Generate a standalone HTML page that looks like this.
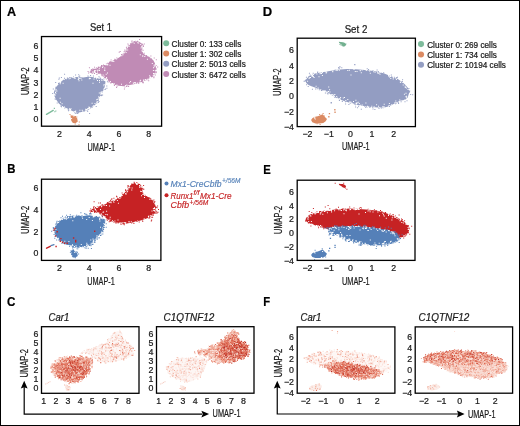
<!DOCTYPE html>
<html><head><meta charset="utf-8"><title>UMAP figure</title>
<style>
html,body{margin:0;padding:0;background:#fff;}
body{width:520px;height:426px;overflow:hidden;}
svg{display:block;font-family:"Liberation Sans", sans-serif;will-change:transform;}

</style></head>
<body>
<svg width="520" height="426" viewBox="0 0 520 426">
<rect x="0.5" y="0.5" width="519" height="425" fill="#fff" stroke="#000" stroke-width="1"/>
<text x="7.1" y="16.2" font-size="13.00" font-weight="bold" textLength="9.1" lengthAdjust="spacingAndGlyphs" fill="#000" stroke="#000" stroke-width="0.22">A</text>
<text x="7.2" y="172.8" font-size="13.00" font-weight="bold" textLength="8.2" lengthAdjust="spacingAndGlyphs" fill="#000" stroke="#000" stroke-width="0.22">B</text>
<text x="6.9" y="306.4" font-size="13.00" font-weight="bold" textLength="8.4" lengthAdjust="spacingAndGlyphs" fill="#000" stroke="#000" stroke-width="0.22">C</text>
<text x="262.7" y="16.2" font-size="13.00" font-weight="bold" fill="#000" stroke="#000" stroke-width="0.22">D</text>
<text x="263.2" y="173.7" font-size="13.00" font-weight="bold" textLength="7.5" lengthAdjust="spacingAndGlyphs" fill="#000" stroke="#000" stroke-width="0.22">E</text>
<text x="263.2" y="306.4" font-size="13.00" font-weight="bold" textLength="6.9" lengthAdjust="spacingAndGlyphs" fill="#000" stroke="#000" stroke-width="0.22">F</text>
<text x="101.0" y="30.8" font-size="10.60" text-anchor="middle" textLength="22.0" lengthAdjust="spacingAndGlyphs" fill="#1a1a1a" stroke="#1a1a1a" stroke-width="0.22">Set 1</text>
<g>
<polygon points="89.1,71.4 93.2,69.0 97.3,66.9 101.4,65.7 105.5,64.0 109.7,61.6 113.8,59.9 117.9,58.3 120.5,56.5 123.7,52.6 126.8,48.8 129.3,44.5 131.8,42.0 135.5,40.7 139.8,42.0 142.3,44.5 142.3,49.4 143.0,53.2 146.1,55.7 149.8,56.9 152.9,59.4 154.8,63.1 156.0,68.1 155.4,73.1 152.9,76.8 148.6,79.3 142.3,81.8 136.1,83.7 129.9,84.9 123.7,86.2 118.7,85.8 113.8,84.6 109.7,82.1 106.4,79.7 103.1,76.4 99.0,73.5 94.9,72.7 89.9,72.7" fill="#C08BB5"/>
<path fill="#C08BB5" d="M141.9 81.5h1v1h-1zM92.2 68.4h1v1h-1zM139.1 38.9h1v1h-1zM142.8 45.3h1v1h-1zM94.0 66.7h1v1h-1zM146.4 79.6h1v1h-1zM143.8 43.4h1v1h-1zM157.2 66.5h1v1h-1zM155.8 68.5h1v1h-1zM119.7 51.0h1v1h-1zM126.1 85.9h1v1h-1zM128.1 85.9h1v1h-1zM116.1 87.0h1v1h-1zM141.4 43.3h1v1h-1zM136.9 40.8h1v1h-1zM123.7 51.1h1v1h-1zM156.0 71.6h1v1h-1zM127.4 43.5h1v1h-1zM121.1 54.1h1v1h-1zM118.7 51.7h1v1h-1zM153.4 76.2h1v1h-1zM108.4 81.5h1v1h-1zM142.9 45.9h1v1h-1zM138.2 83.1h1v1h-1zM131.6 40.4h1v1h-1zM142.4 82.2h1v1h-1zM96.4 74.1h1v1h-1zM114.3 58.7h1v1h-1zM124.4 86.5h1v1h-1zM101.6 75.3h1v1h-1zM90.9 68.9h1v1h-1zM116.3 57.6h1v1h-1zM87.6 70.9h1v1h-1zM153.4 77.3h1v1h-1zM103.2 64.2h1v1h-1zM143.0 82.2h1v1h-1zM155.8 59.3h1v1h-1zM125.9 46.7h1v1h-1zM91.0 72.3h1v1h-1zM123.9 88.4h1v1h-1zM128.5 44.4h1v1h-1zM88.9 67.2h1v1h-1zM146.1 54.9h1v1h-1zM124.4 49.4h1v1h-1zM131.3 40.8h1v1h-1zM150.4 55.5h1v1h-1zM143.7 52.8h1v1h-1zM126.3 47.7h1v1h-1zM88.1 72.6h1v1h-1zM98.4 73.1h1v1h-1zM155.6 65.0h1v1h-1zM142.2 44.1h1v1h-1zM155.4 72.2h1v1h-1zM101.0 64.9h1v1h-1zM153.7 57.6h1v1h-1zM94.0 73.1h1v1h-1zM92.2 72.7h1v1h-1zM124.6 50.4h1v1h-1zM113.9 84.9h1v1h-1zM148.2 80.2h1v1h-1zM110.2 82.4h1v1h-1zM154.8 74.6h1v1h-1zM110.6 59.4h1v1h-1zM142.6 49.8h1v1h-1zM116.5 85.8h1v1h-1zM127.8 45.6h1v1h-1zM126.4 86.0h1v1h-1z"/>
<path fill="#ffffff" d="M107.3 80.2h1v1h-1zM99.0 66.3h1v1h-1zM125.6 51.9h1v1h-1zM123.8 51.7h1v1h-1zM153.0 72.9h1v1h-1zM134.2 82.0h1v1h-1zM124.8 50.6h1v1h-1zM141.4 46.6h1v1h-1zM94.0 70.7h1v1h-1zM122.5 54.3h1v1h-1zM137.2 82.5h1v1h-1zM100.3 74.0h1v1h-1zM109.9 80.9h1v1h-1zM105.5 78.1h1v1h-1zM137.2 42.2h1v1h-1zM108.0 61.8h1v1h-1zM129.2 82.2h1v1h-1zM141.5 49.8h1v1h-1zM133.1 82.8h1v1h-1zM139.6 80.4h1v1h-1zM153.8 66.2h1v1h-1zM103.6 75.7h1v1h-1zM95.5 67.8h1v1h-1zM94.5 72.1h1v1h-1zM139.8 54.3h1v1h-1zM126.9 47.3h1v1h-1zM92.1 71.5h1v1h-1zM113.2 83.7h1v1h-1zM132.5 41.5h1v1h-1zM105.9 64.2h1v1h-1zM142.2 55.8h1v1h-1zM145.6 79.7h1v1h-1zM106.9 79.1h1v1h-1zM122.9 52.6h1v1h-1zM151.8 63.1h1v1h-1zM154.8 64.8h1v1h-1zM111.9 60.8h1v1h-1zM93.8 71.5h1v1h-1zM94.6 69.9h1v1h-1zM110.8 60.6h1v1h-1zM138.2 42.5h1v1h-1zM98.7 68.2h1v1h-1zM150.1 77.4h1v1h-1zM106.1 76.9h1v1h-1zM105.0 64.3h1v1h-1zM106.6 78.7h1v1h-1zM154.7 70.0h1v1h-1zM96.7 69.8h1v1h-1zM128.5 45.9h1v1h-1zM135.1 82.2h1v1h-1zM152.1 58.6h1v1h-1zM102.6 74.5h1v1h-1zM124.9 85.1h1v1h-1zM127.2 49.4h1v1h-1zM94.2 67.8h1v1h-1zM128.4 45.6h1v1h-1zM149.8 57.3h1v1h-1zM140.2 44.1h1v1h-1zM112.4 60.3h1v1h-1zM131.3 42.2h1v1h-1zM147.1 78.7h1v1h-1zM104.0 64.0h1v1h-1zM154.1 73.2h1v1h-1zM141.8 50.9h1v1h-1zM140.6 47.4h1v1h-1zM148.7 78.1h1v1h-1zM154.6 64.3h1v1h-1zM154.1 73.2h1v1h-1zM150.0 76.5h1v1h-1zM149.8 76.7h1v1h-1zM134.7 82.7h1v1h-1zM153.6 64.8h1v1h-1zM121.3 55.2h1v1h-1zM129.1 43.9h1v1h-1zM106.1 64.2h1v1h-1zM98.9 68.2h1v1h-1zM123.5 52.6h1v1h-1zM140.1 79.7h1v1h-1zM143.1 79.5h1v1h-1zM111.9 60.6h1v1h-1zM145.8 79.5h1v1h-1zM99.7 66.2h1v1h-1zM144.3 56.1h1v1h-1zM116.4 84.5h1v1h-1zM141.3 45.8h1v1h-1zM139.5 82.0h1v1h-1zM153.2 73.5h1v1h-1zM153.1 75.2h1v1h-1zM112.0 82.9h1v1h-1zM150.7 77.3h1v1h-1zM144.8 78.9h1v1h-1zM149.2 75.2h1v1h-1zM133.7 42.7h1v1h-1zM116.1 58.4h1v1h-1zM103.7 64.0h1v1h-1zM113.6 83.1h1v1h-1zM142.3 55.2h1v1h-1zM135.5 40.7h1v1h-1zM149.3 76.8h1v1h-1zM152.9 70.0h1v1h-1zM113.3 61.1h1v1h-1zM105.5 78.1h1v1h-1zM93.9 70.5h1v1h-1zM146.9 58.8h1v1h-1zM143.2 80.1h1v1h-1zM92.4 71.5h1v1h-1zM153.0 67.3h1v1h-1zM152.7 75.2h1v1h-1zM125.8 49.5h1v1h-1zM130.1 81.1h1v1h-1zM104.9 63.7h1v1h-1zM99.6 73.6h1v1h-1zM94.9 67.4h1v1h-1zM102.5 65.8h1v1h-1zM126.3 84.5h1v1h-1zM132.8 82.5h1v1h-1zM121.0 83.8h1v1h-1z"/>
<path fill="#ffffff" d="M104.3 70.0h1v1h-1zM94.7 71.6h1v1h-1zM104.2 69.5h1v1h-1zM97.0 71.4h1v1h-1zM107.0 72.5h1v1h-1zM107.3 63.8h1v1h-1zM89.2 70.9h1v1h-1zM105.6 78.6h1v1h-1zM98.9 69.9h1v1h-1zM107.2 64.6h1v1h-1zM104.3 67.5h1v1h-1zM102.1 67.0h1v1h-1zM109.5 64.7h1v1h-1zM94.4 70.1h1v1h-1zM97.5 69.7h1v1h-1zM97.0 66.8h1v1h-1zM105.7 73.8h1v1h-1zM106.4 63.5h1v1h-1z"/>
<polygon points="53.8,92.5 55.7,87.5 59.4,83.2 63.7,79.5 69.8,77.4 76.0,77.1 83.4,77.4 89.5,76.5 95.7,77.7 101.8,79.5 105.5,81.4 104.9,86.3 102.5,92.5 99.4,98.6 95.7,104.2 90.8,108.5 84.6,111.5 77.2,112.8 72.3,110.9 67.4,108.5 62.5,106.6 58.8,103.5 56.3,99.8 54.5,96.2" fill="#939DC2"/>
<path fill="#939DC2" d="M102.0 79.2h1v1h-1zM75.1 74.5h1v1h-1zM91.9 107.1h1v1h-1zM60.3 105.6h1v1h-1zM55.2 82.0h1v1h-1zM105.1 88.5h1v1h-1zM98.5 76.3h1v1h-1zM68.5 109.4h1v1h-1zM79.2 75.5h1v1h-1zM58.2 83.0h1v1h-1zM56.7 102.5h1v1h-1zM97.9 99.8h1v1h-1zM103.4 78.5h1v1h-1zM60.9 77.1h1v1h-1zM52.2 93.1h1v1h-1zM58.7 82.5h1v1h-1zM55.4 86.7h1v1h-1zM89.1 113.0h1v1h-1zM96.2 102.4h1v1h-1zM77.3 112.6h1v1h-1zM90.1 75.0h1v1h-1zM58.4 78.7h1v1h-1zM92.9 75.4h1v1h-1zM102.1 94.5h1v1h-1zM100.5 95.3h1v1h-1zM101.1 95.0h1v1h-1zM67.7 108.7h1v1h-1zM97.8 101.9h1v1h-1zM87.2 110.8h1v1h-1zM106.4 87.7h1v1h-1zM78.0 112.3h1v1h-1zM87.5 75.5h1v1h-1zM67.9 110.2h1v1h-1zM55.5 98.8h1v1h-1zM64.0 77.7h1v1h-1zM52.8 88.5h1v1h-1zM74.8 112.7h1v1h-1zM98.5 101.1h1v1h-1zM64.3 107.5h1v1h-1zM97.3 100.6h1v1h-1zM99.6 77.4h1v1h-1zM64.1 73.7h1v1h-1zM58.0 82.9h1v1h-1zM54.6 98.4h1v1h-1zM58.8 77.5h1v1h-1zM61.0 106.3h1v1h-1zM100.8 94.6h1v1h-1zM106.3 85.4h1v1h-1zM100.2 78.2h1v1h-1zM86.9 110.5h1v1h-1zM95.7 106.0h1v1h-1zM78.2 74.2h1v1h-1zM75.6 112.6h1v1h-1zM106.9 81.3h1v1h-1zM74.0 111.5h1v1h-1zM104.4 89.0h1v1h-1zM66.9 77.5h1v1h-1zM69.4 76.9h1v1h-1zM76.8 113.1h1v1h-1zM78.4 76.2h1v1h-1zM73.0 76.4h1v1h-1z"/>
<path fill="#ffffff" d="M88.5 107.6h1v1h-1zM89.5 76.1h1v1h-1zM98.5 98.2h1v1h-1zM59.6 97.8h1v1h-1zM64.0 106.6h1v1h-1zM73.8 76.7h1v1h-1zM86.7 109.1h1v1h-1zM101.7 91.3h1v1h-1zM75.2 110.4h1v1h-1zM98.3 96.3h1v1h-1zM60.1 82.1h1v1h-1zM74.5 77.9h1v1h-1zM99.0 80.0h1v1h-1zM89.1 107.0h1v1h-1zM103.4 85.2h1v1h-1zM78.8 78.1h1v1h-1zM91.6 102.8h1v1h-1zM74.6 77.4h1v1h-1zM103.4 88.4h1v1h-1zM86.9 108.2h1v1h-1zM85.1 108.8h1v1h-1zM69.3 109.2h1v1h-1zM101.2 91.4h1v1h-1zM85.7 109.4h1v1h-1zM85.7 109.0h1v1h-1zM61.6 103.2h1v1h-1zM97.2 98.7h1v1h-1zM96.2 102.2h1v1h-1zM98.6 96.9h1v1h-1zM55.0 91.9h1v1h-1zM87.9 108.1h1v1h-1zM55.3 90.5h1v1h-1zM80.4 78.0h1v1h-1zM78.5 80.2h1v1h-1zM97.0 80.1h1v1h-1zM92.5 82.7h1v1h-1zM101.2 93.3h1v1h-1zM96.7 101.1h1v1h-1zM99.1 97.3h1v1h-1zM68.6 78.3h1v1h-1zM94.5 103.0h1v1h-1zM73.4 77.2h1v1h-1zM99.9 96.1h1v1h-1zM100.4 92.7h1v1h-1zM84.9 110.5h1v1h-1zM89.2 77.8h1v1h-1zM65.9 78.2h1v1h-1zM69.8 77.8h1v1h-1zM54.7 94.4h1v1h-1zM53.7 93.5h1v1h-1zM78.1 78.4h1v1h-1zM92.9 105.2h1v1h-1zM82.3 110.7h1v1h-1zM96.0 78.3h1v1h-1zM74.8 111.4h1v1h-1zM101.4 92.7h1v1h-1zM78.1 77.2h1v1h-1zM103.6 83.9h1v1h-1zM88.5 106.6h1v1h-1zM100.4 91.8h1v1h-1zM72.3 77.1h1v1h-1zM81.7 109.8h1v1h-1zM60.1 101.8h1v1h-1zM59.8 83.2h1v1h-1zM70.0 109.1h1v1h-1zM93.5 78.6h1v1h-1zM88.8 78.3h1v1h-1zM91.9 106.4h1v1h-1zM62.1 105.9h1v1h-1zM89.2 107.9h1v1h-1zM100.2 94.3h1v1h-1zM54.3 94.8h1v1h-1zM79.4 109.7h1v1h-1zM69.1 108.2h1v1h-1zM94.1 77.0h1v1h-1zM63.7 79.1h1v1h-1zM98.8 92.6h1v1h-1zM56.4 90.5h1v1h-1zM86.3 109.4h1v1h-1zM70.5 108.3h1v1h-1zM99.0 81.7h1v1h-1zM101.4 79.9h1v1h-1zM62.6 82.8h1v1h-1zM86.2 108.9h1v1h-1zM53.8 94.1h1v1h-1zM90.5 107.4h1v1h-1zM74.2 110.9h1v1h-1zM77.8 78.9h1v1h-1zM89.8 78.0h1v1h-1zM100.5 93.0h1v1h-1zM55.5 89.1h1v1h-1zM55.4 92.7h1v1h-1zM96.2 99.3h1v1h-1zM81.3 79.5h1v1h-1z"/>
<polygon points="70.5,115.2 74.2,115.8 77.2,118.3 77.8,121.4 75.4,123.2 72.9,123.0 71.3,120.8 70.8,117.7" fill="#DB8A62"/>
<path fill="#DB8A62" d="M78.5 124.3h1v1h-1zM74.7 123.5h1v1h-1zM75.0 116.0h1v1h-1zM76.3 116.5h1v1h-1zM78.8 121.4h1v1h-1zM69.5 113.9h1v1h-1z"/>
<path fill="#ffffff" d="M71.1 118.0h1v1h-1zM73.3 115.4h1v1h-1z"/>
<line x1="46.5" y1="114.3" x2="53.2" y2="110.4" stroke="#7DBB9B" stroke-width="1.4" stroke-linecap="round"/>
<path fill="#7DBB9B" d="M53.8 107.8h1.1v1.1h-1.1z M55.3 110.4h1.1v1.1h-1.1z M54.3 111.2h1v1h-1z"/>
</g>
<rect x="41.50" y="36.55" width="120.10" height="89.65" fill="none" stroke="#000" stroke-width="1.3"/>
<text x="59.5" y="136.9" font-size="8.80" text-anchor="middle" fill="#1a1a1a" stroke="#1a1a1a" stroke-width="0.22">2</text>
<text x="89.2" y="136.9" font-size="8.80" text-anchor="middle" fill="#1a1a1a" stroke="#1a1a1a" stroke-width="0.22">4</text>
<text x="118.9" y="136.9" font-size="8.80" text-anchor="middle" fill="#1a1a1a" stroke="#1a1a1a" stroke-width="0.22">6</text>
<text x="148.6" y="136.9" font-size="8.80" text-anchor="middle" fill="#1a1a1a" stroke="#1a1a1a" stroke-width="0.22">8</text>
<text x="38.4" y="121.6" font-size="8.80" text-anchor="end" fill="#1a1a1a" stroke="#1a1a1a" stroke-width="0.22">0</text>
<text x="38.4" y="109.6" font-size="8.80" text-anchor="end" fill="#1a1a1a" stroke="#1a1a1a" stroke-width="0.22">1</text>
<text x="38.4" y="97.5" font-size="8.80" text-anchor="end" fill="#1a1a1a" stroke="#1a1a1a" stroke-width="0.22">2</text>
<text x="38.4" y="85.5" font-size="8.80" text-anchor="end" fill="#1a1a1a" stroke="#1a1a1a" stroke-width="0.22">3</text>
<text x="38.4" y="73.4" font-size="8.80" text-anchor="end" fill="#1a1a1a" stroke="#1a1a1a" stroke-width="0.22">4</text>
<text x="38.4" y="61.4" font-size="8.80" text-anchor="end" fill="#1a1a1a" stroke="#1a1a1a" stroke-width="0.22">5</text>
<text x="38.4" y="49.3" font-size="8.80" text-anchor="end" fill="#1a1a1a" stroke="#1a1a1a" stroke-width="0.22">6</text>
<text x="87.6" y="151.0" font-size="10.50" textLength="27.6" lengthAdjust="spacingAndGlyphs" fill="#1a1a1a" stroke="#1a1a1a" stroke-width="0.22">UMAP-1</text>
<text x="29.1" y="95.1" font-size="10.50" textLength="27.8" lengthAdjust="spacingAndGlyphs" transform="rotate(-90 29.1 95.1)" fill="#1a1a1a" stroke="#1a1a1a" stroke-width="0.22">UMAP-2</text>
<circle cx="166.2" cy="43.3" r="3.0" fill="#7DBB9B"/>
<text x="171.6" y="47.0" font-size="8.20" fill="#1a1a1a" stroke="#1a1a1a" stroke-width="0.22">Cluster 0: 133 cells</text>
<circle cx="166.2" cy="53.5" r="3.0" fill="#DB8A62"/>
<text x="171.6" y="57.2" font-size="8.20" fill="#1a1a1a" stroke="#1a1a1a" stroke-width="0.22">Cluster 1: 302 cells</text>
<circle cx="166.2" cy="63.7" r="3.0" fill="#939DC2"/>
<text x="171.6" y="67.4" font-size="8.20" fill="#1a1a1a" stroke="#1a1a1a" stroke-width="0.22">Cluster 2: 5013 cells</text>
<circle cx="166.2" cy="73.9" r="3.0" fill="#C08BB5"/>
<text x="171.6" y="77.6" font-size="8.20" fill="#1a1a1a" stroke="#1a1a1a" stroke-width="0.22">Cluster 3: 6472 cells</text>
<g>
<polygon points="89.1,210.7 93.2,208.5 97.3,206.6 101.4,205.5 105.5,204.0 109.7,201.8 113.8,200.3 117.9,198.8 120.5,197.2 123.7,193.7 126.8,190.2 129.3,186.4 131.8,184.1 135.5,182.9 139.8,184.1 142.3,186.4 142.3,190.8 143.0,194.2 146.1,196.5 149.8,197.6 152.9,199.8 154.8,203.2 156.0,207.7 155.4,212.2 152.9,215.6 148.6,217.8 142.3,220.1 136.1,221.8 129.9,222.9 123.7,224.1 118.7,223.7 113.8,222.6 109.7,220.4 106.4,218.2 103.1,215.2 99.0,212.6 94.9,211.9 89.9,211.9" fill="#C62224"/>
<path fill="#C62224" d="M123.2 223.6h1v1h-1zM156.3 212.5h1v1h-1zM116.0 195.8h1v1h-1zM108.7 221.3h1v1h-1zM149.3 217.6h1v1h-1zM142.5 188.4h1v1h-1zM128.0 185.7h1v1h-1zM152.6 214.9h1v1h-1zM90.2 208.5h1v1h-1zM154.3 201.1h1v1h-1zM141.9 188.2h1v1h-1zM156.6 212.6h1v1h-1zM153.4 199.5h1v1h-1zM151.3 216.8h1v1h-1zM102.0 215.4h1v1h-1zM131.3 183.5h1v1h-1zM99.8 213.5h1v1h-1zM101.4 204.6h1v1h-1zM155.7 212.5h1v1h-1zM125.1 189.3h1v1h-1zM111.2 198.8h1v1h-1zM110.2 199.8h1v1h-1zM90.0 212.4h1v1h-1zM102.1 204.3h1v1h-1zM154.4 212.8h1v1h-1zM146.2 196.1h1v1h-1zM95.8 211.8h1v1h-1zM157.1 205.6h1v1h-1zM93.5 207.3h1v1h-1zM99.4 213.1h1v1h-1zM120.4 223.7h1v1h-1zM116.6 196.6h1v1h-1zM143.1 185.1h1v1h-1zM131.2 222.5h1v1h-1zM156.1 210.7h1v1h-1zM121.6 192.4h1v1h-1zM155.3 206.4h1v1h-1zM127.5 185.1h1v1h-1zM138.7 221.4h1v1h-1zM155.7 206.8h1v1h-1zM110.1 200.8h1v1h-1zM115.5 222.8h1v1h-1zM101.1 214.4h1v1h-1zM136.3 181.9h1v1h-1zM122.3 194.1h1v1h-1zM148.2 217.6h1v1h-1zM144.4 194.7h1v1h-1zM142.4 192.7h1v1h-1zM93.2 207.0h1v1h-1zM119.3 197.1h1v1h-1zM154.1 201.8h1v1h-1zM106.5 218.6h1v1h-1zM94.2 211.5h1v1h-1zM108.8 201.3h1v1h-1zM142.3 220.8h1v1h-1zM142.0 220.4h1v1h-1zM133.4 222.9h1v1h-1zM125.1 189.9h1v1h-1zM106.9 202.1h1v1h-1zM134.0 182.7h1v1h-1zM117.0 198.2h1v1h-1zM133.6 181.7h1v1h-1zM137.0 221.0h1v1h-1zM149.1 217.3h1v1h-1zM154.6 212.4h1v1h-1zM156.6 207.3h1v1h-1zM123.8 224.3h1v1h-1zM101.9 216.3h1v1h-1zM152.1 216.7h1v1h-1zM111.4 198.3h1v1h-1zM94.2 212.0h1v1h-1zM98.3 202.6h1v1h-1zM145.1 195.7h1v1h-1zM151.2 219.4h1v1h-1zM110.1 220.7h1v1h-1zM143.3 188.8h1v1h-1zM93.5 206.0h1v1h-1zM95.2 206.9h1v1h-1zM106.8 219.7h1v1h-1zM158.0 209.0h1v1h-1zM100.0 202.5h1v1h-1zM150.8 220.6h1v1h-1zM157.5 211.8h1v1h-1zM113.4 197.8h1v1h-1zM127.2 186.6h1v1h-1zM121.3 223.6h1v1h-1zM109.6 220.4h1v1h-1zM93.6 201.3h1v1h-1z"/>
<path fill="#ffffff" d="M127.4 189.3h1v1h-1zM136.0 183.4h1v1h-1zM125.2 193.1h1v1h-1zM154.7 208.6h1v1h-1zM94.0 207.4h1v1h-1zM151.5 210.5h1v1h-1zM89.4 210.4h1v1h-1zM121.7 195.0h1v1h-1zM150.1 215.2h1v1h-1zM112.0 220.2h1v1h-1zM150.7 198.4h1v1h-1zM154.3 203.3h1v1h-1zM113.4 201.7h1v1h-1zM114.4 220.5h1v1h-1zM127.1 190.7h1v1h-1zM128.5 220.9h1v1h-1zM117.5 219.4h1v1h-1zM139.4 185.9h1v1h-1zM127.9 187.6h1v1h-1zM122.3 222.3h1v1h-1zM112.9 200.5h1v1h-1zM95.1 208.7h1v1h-1zM96.8 206.8h1v1h-1zM151.5 198.7h1v1h-1zM109.4 218.8h1v1h-1zM152.4 213.7h1v1h-1zM130.8 221.3h1v1h-1zM153.0 209.8h1v1h-1zM104.4 216.0h1v1h-1zM93.0 210.8h1v1h-1zM101.3 205.6h1v1h-1zM110.4 201.5h1v1h-1zM154.0 208.1h1v1h-1zM137.0 183.4h1v1h-1zM127.3 188.9h1v1h-1zM128.8 186.6h1v1h-1zM151.5 215.3h1v1h-1zM151.9 199.3h1v1h-1zM109.3 202.0h1v1h-1zM147.9 216.0h1v1h-1zM144.0 197.0h1v1h-1zM140.9 186.6h1v1h-1zM144.2 194.9h1v1h-1zM106.0 205.1h1v1h-1zM150.7 215.7h1v1h-1zM142.4 194.1h1v1h-1zM90.5 209.3h1v1h-1zM109.7 216.8h1v1h-1zM139.3 187.0h1v1h-1zM118.8 223.0h1v1h-1zM89.6 210.7h1v1h-1zM135.4 182.8h1v1h-1zM153.9 210.5h1v1h-1zM134.7 221.3h1v1h-1zM143.7 218.3h1v1h-1zM154.1 210.1h1v1h-1zM121.3 223.3h1v1h-1zM96.1 210.5h1v1h-1zM137.2 220.6h1v1h-1zM153.1 201.5h1v1h-1zM112.7 221.1h1v1h-1zM128.6 222.5h1v1h-1zM140.1 190.7h1v1h-1zM136.1 183.0h1v1h-1zM148.0 216.5h1v1h-1zM96.9 207.1h1v1h-1zM120.6 222.2h1v1h-1zM116.9 199.9h1v1h-1zM106.9 214.2h1v1h-1zM125.2 193.4h1v1h-1zM119.3 223.2h1v1h-1zM148.4 215.5h1v1h-1zM92.1 210.3h1v1h-1zM129.3 187.2h1v1h-1zM117.9 202.7h1v1h-1zM131.6 187.4h1v1h-1zM119.4 198.1h1v1h-1zM114.4 222.3h1v1h-1zM131.3 189.5h1v1h-1zM140.8 191.0h1v1h-1zM98.3 206.2h1v1h-1zM141.0 195.3h1v1h-1zM119.1 222.5h1v1h-1zM139.1 184.9h1v1h-1zM102.8 204.6h1v1h-1zM125.2 222.1h1v1h-1zM120.4 196.6h1v1h-1zM117.5 222.8h1v1h-1zM101.0 213.6h1v1h-1zM124.8 223.0h1v1h-1zM136.4 183.9h1v1h-1zM116.4 222.6h1v1h-1zM94.9 209.4h1v1h-1zM126.5 191.4h1v1h-1zM125.7 193.4h1v1h-1zM123.8 222.1h1v1h-1zM154.0 207.2h1v1h-1zM149.3 198.8h1v1h-1zM140.7 185.6h1v1h-1zM114.2 200.1h1v1h-1zM152.9 208.1h1v1h-1zM141.7 186.7h1v1h-1zM120.3 222.6h1v1h-1zM135.8 182.9h1v1h-1z"/>
<path fill="#ffffff" d="M110.6 202.3h1v1h-1zM96.1 206.9h1v1h-1zM109.1 205.5h1v1h-1zM94.7 208.7h1v1h-1zM104.3 204.7h1v1h-1zM101.0 206.2h1v1h-1zM106.1 210.7h1v1h-1zM103.1 211.4h1v1h-1zM100.0 209.1h1v1h-1zM102.5 211.8h1v1h-1zM105.4 213.9h1v1h-1z"/>
<polygon points="53.8,229.8 55.7,225.3 59.4,221.4 63.7,218.0 69.8,216.1 76.0,215.8 83.4,216.1 89.5,215.3 95.7,216.4 101.8,218.0 105.5,219.7 104.9,224.2 102.5,229.8 99.4,235.3 95.7,240.4 90.8,244.2 84.6,247.0 77.2,248.1 72.3,246.4 67.4,244.2 62.5,242.5 58.8,239.7 56.3,236.4 54.5,233.1" fill="#5580B8"/>
<path fill="#5580B8" d="M64.9 216.5h1v1h-1zM101.8 230.7h1v1h-1zM89.2 213.4h1v1h-1zM51.2 230.8h1v1h-1zM69.1 245.7h1v1h-1zM62.0 215.8h1v1h-1zM90.4 213.3h1v1h-1zM94.4 241.9h1v1h-1zM72.9 249.4h1v1h-1zM103.8 225.3h1v1h-1zM66.6 244.1h1v1h-1zM76.2 214.7h1v1h-1zM71.9 246.2h1v1h-1zM105.7 223.2h1v1h-1zM64.3 242.9h1v1h-1zM76.6 248.2h1v1h-1zM85.6 214.2h1v1h-1zM93.7 241.6h1v1h-1zM65.8 243.5h1v1h-1zM56.2 239.5h1v1h-1zM95.0 240.3h1v1h-1zM56.2 221.7h1v1h-1zM103.0 228.4h1v1h-1zM63.0 242.7h1v1h-1zM67.7 244.1h1v1h-1zM59.2 220.4h1v1h-1zM86.9 245.3h1v1h-1zM53.6 233.9h1v1h-1zM98.6 237.1h1v1h-1zM100.0 235.1h1v1h-1zM96.1 215.9h1v1h-1zM105.7 226.8h1v1h-1zM81.5 215.3h1v1h-1zM84.0 213.3h1v1h-1zM62.8 217.8h1v1h-1zM85.6 247.8h1v1h-1zM80.4 212.3h1v1h-1zM77.3 248.2h1v1h-1zM85.8 246.3h1v1h-1zM90.2 244.6h1v1h-1zM100.4 232.5h1v1h-1zM90.6 213.4h1v1h-1zM52.8 226.9h1v1h-1zM60.5 217.3h1v1h-1zM69.8 214.3h1v1h-1zM102.3 233.5h1v1h-1zM61.5 243.0h1v1h-1zM87.7 247.7h1v1h-1zM58.5 239.8h1v1h-1zM103.0 227.0h1v1h-1zM96.0 216.0h1v1h-1zM88.9 245.0h1v1h-1zM102.5 231.3h1v1h-1zM89.4 213.0h1v1h-1zM55.7 222.9h1v1h-1zM92.5 243.7h1v1h-1zM52.8 229.8h1v1h-1zM91.6 244.0h1v1h-1zM86.6 214.5h1v1h-1zM103.7 227.1h1v1h-1zM64.4 243.4h1v1h-1zM90.9 248.1h1v1h-1zM90.5 245.2h1v1h-1zM98.7 216.6h1v1h-1zM55.2 224.2h1v1h-1zM101.7 215.7h1v1h-1zM56.6 220.7h1v1h-1zM84.4 247.2h1v1h-1zM54.3 237.8h1v1h-1zM72.2 247.4h1v1h-1zM78.4 215.2h1v1h-1zM98.6 237.4h1v1h-1zM103.1 228.9h1v1h-1zM58.0 221.3h1v1h-1zM102.2 230.1h1v1h-1zM67.1 216.1h1v1h-1zM54.7 236.0h1v1h-1zM72.5 215.4h1v1h-1zM97.0 238.5h1v1h-1zM52.9 228.0h1v1h-1zM73.5 247.0h1v1h-1zM66.1 214.7h1v1h-1zM100.7 234.5h1v1h-1zM85.3 213.6h1v1h-1z"/>
<path fill="#ffffff" d="M92.6 241.8h1v1h-1zM65.8 217.3h1v1h-1zM75.9 246.8h1v1h-1zM72.3 245.0h1v1h-1zM68.2 217.3h1v1h-1zM104.7 220.6h1v1h-1zM103.9 224.0h1v1h-1zM86.4 244.2h1v1h-1zM96.3 237.5h1v1h-1zM87.4 244.6h1v1h-1zM92.7 241.8h1v1h-1zM75.2 215.6h1v1h-1zM66.7 217.7h1v1h-1zM74.6 215.5h1v1h-1zM99.2 218.9h1v1h-1zM68.0 216.9h1v1h-1zM54.3 227.5h1v1h-1zM77.3 247.5h1v1h-1zM73.8 215.9h1v1h-1zM82.1 217.8h1v1h-1zM54.2 228.0h1v1h-1zM88.7 217.0h1v1h-1zM98.0 235.7h1v1h-1zM65.8 218.7h1v1h-1zM102.2 218.3h1v1h-1zM93.4 216.3h1v1h-1zM58.1 222.1h1v1h-1zM73.3 216.1h1v1h-1zM83.8 246.1h1v1h-1zM61.2 241.3h1v1h-1zM74.0 246.0h1v1h-1zM98.9 234.5h1v1h-1zM53.4 229.2h1v1h-1zM54.3 231.3h1v1h-1zM92.9 215.7h1v1h-1zM100.7 217.9h1v1h-1zM94.5 239.4h1v1h-1zM99.2 218.1h1v1h-1zM82.1 246.4h1v1h-1zM55.4 229.0h1v1h-1zM81.3 246.9h1v1h-1zM63.5 217.9h1v1h-1zM72.3 220.2h1v1h-1zM63.7 217.8h1v1h-1zM65.2 217.8h1v1h-1zM80.8 243.9h1v1h-1zM100.0 226.7h1v1h-1zM70.5 244.9h1v1h-1zM70.7 216.5h1v1h-1zM79.2 246.6h1v1h-1zM72.0 244.2h1v1h-1zM63.5 217.8h1v1h-1zM70.5 217.3h1v1h-1zM102.1 227.4h1v1h-1zM55.3 224.8h1v1h-1zM86.2 244.9h1v1h-1zM81.6 216.2h1v1h-1zM92.7 216.4h1v1h-1zM96.6 236.4h1v1h-1zM90.3 239.6h1v1h-1zM92.5 238.5h1v1h-1zM99.4 220.4h1v1h-1zM68.4 240.9h1v1h-1zM57.7 238.2h1v1h-1zM93.0 240.8h1v1h-1zM86.3 242.7h1v1h-1zM95.5 238.4h1v1h-1zM103.5 223.1h1v1h-1zM103.4 225.8h1v1h-1zM63.4 242.4h1v1h-1zM92.9 215.6h1v1h-1zM62.1 219.0h1v1h-1zM91.9 220.0h1v1h-1zM90.7 242.7h1v1h-1zM98.0 236.0h1v1h-1zM92.8 239.8h1v1h-1zM73.6 216.9h1v1h-1zM64.3 240.8h1v1h-1zM93.7 216.1h1v1h-1zM96.5 235.2h1v1h-1zM61.4 241.1h1v1h-1zM86.2 219.1h1v1h-1zM64.1 218.3h1v1h-1zM57.7 238.1h1v1h-1zM92.4 241.6h1v1h-1zM80.0 247.1h1v1h-1zM84.5 246.3h1v1h-1zM75.5 245.2h1v1h-1zM57.9 237.8h1v1h-1z"/>
<polygon points="70.5,250.3 74.2,250.9 77.2,253.1 77.8,255.9 75.4,257.5 72.9,257.4 71.3,255.4 70.8,252.6" fill="#5580B8"/>
<path fill="#5580B8" d="M69.9 252.0h1v1h-1zM75.7 251.3h1v1h-1zM74.8 257.2h1v1h-1zM77.0 251.7h1v1h-1zM78.1 253.4h1v1h-1zM73.2 249.9h1v1h-1zM72.4 249.4h1v1h-1zM72.2 250.0h1v1h-1z"/>
<path fill="#ffffff" d="M71.2 255.1h1v1h-1zM70.6 252.5h1v1h-1zM74.3 252.1h1v1h-1z"/>
<line x1="46.6" y1="248.1" x2="50.2" y2="246.3" stroke="#C62224" stroke-width="1.5" stroke-linecap="round"/>
<line x1="51" y1="245.6" x2="54" y2="244.6" stroke="#5580B8" stroke-width="1.2" stroke-linecap="round"/>
<path fill="#C62224" d="M53.3 229.4h1.4v1.4h-1.4zM54.3 227.8h1.4v1.4h-1.4zM56.5 231.0h1.4v1.4h-1.4zM54.9 235.2h1.4v1.4h-1.4zM60.2 237.9h1.4v1.4h-1.4zM59.6 240.5h1.4v1.4h-1.4zM61.8 241.6h1.4v1.4h-1.4zM63.9 242.6h1.4v1.4h-1.4zM66.5 242.6h1.4v1.4h-1.4zM72.9 237.3h1.4v1.4h-1.4zM75.0 241.0h1.4v1.4h-1.4zM75.0 239.8h1.4v1.4h-1.4zM94.0 230.5h1.4v1.4h-1.4zM55.4 245.8h1.4v1.4h-1.4z"/>
</g>
<rect x="41.50" y="179.20" width="119.40" height="81.20" fill="none" stroke="#000" stroke-width="1.3"/>
<text x="59.5" y="270.7" font-size="8.80" text-anchor="middle" fill="#1a1a1a" stroke="#1a1a1a" stroke-width="0.22">2</text>
<text x="89.2" y="270.7" font-size="8.80" text-anchor="middle" fill="#1a1a1a" stroke="#1a1a1a" stroke-width="0.22">4</text>
<text x="118.9" y="270.7" font-size="8.80" text-anchor="middle" fill="#1a1a1a" stroke="#1a1a1a" stroke-width="0.22">6</text>
<text x="148.6" y="270.7" font-size="8.80" text-anchor="middle" fill="#1a1a1a" stroke="#1a1a1a" stroke-width="0.22">8</text>
<text x="38.4" y="256.4" font-size="8.80" text-anchor="end" fill="#1a1a1a" stroke="#1a1a1a" stroke-width="0.22">0</text>
<text x="38.4" y="234.6" font-size="8.80" text-anchor="end" fill="#1a1a1a" stroke="#1a1a1a" stroke-width="0.22">2</text>
<text x="38.4" y="212.8" font-size="8.80" text-anchor="end" fill="#1a1a1a" stroke="#1a1a1a" stroke-width="0.22">4</text>
<text x="38.4" y="191.0" font-size="8.80" text-anchor="end" fill="#1a1a1a" stroke="#1a1a1a" stroke-width="0.22">6</text>
<text x="87.2" y="284.5" font-size="10.50" textLength="27.6" lengthAdjust="spacingAndGlyphs" fill="#1a1a1a" stroke="#1a1a1a" stroke-width="0.22">UMAP-1</text>
<text x="28.8" y="233.7" font-size="10.50" textLength="27.9" lengthAdjust="spacingAndGlyphs" transform="rotate(-90 28.8 233.7)" fill="#1a1a1a" stroke="#1a1a1a" stroke-width="0.22">UMAP-2</text>
<circle cx="166.5" cy="183.4" r="2.0" fill="#5580B8"/>
<circle cx="166.5" cy="195.3" r="2.0" fill="#C62224"/>
<text x="170.6" y="186.6" font-size="8.5" font-style="italic" fill="#5580B8" stroke="#5580B8" stroke-width="0.15" textLength="51.0" lengthAdjust="spacingAndGlyphs">Mx1-CreCbfb</text>
<text x="222.0" y="183.3" font-size="7.0" font-style="italic" fill="#5580B8" stroke="#5580B8" stroke-width="0.15" textLength="18.4" lengthAdjust="spacingAndGlyphs">+/56M</text>
<text x="170.6" y="198.6" font-size="8.5" font-style="italic" fill="#C62224" stroke="#C62224" stroke-width="0.15" textLength="22.8" lengthAdjust="spacingAndGlyphs">Runx1</text>
<text x="193.6" y="195.0" font-size="7.0" font-style="italic" fill="#C62224" stroke="#C62224" stroke-width="0.15" textLength="6.0" lengthAdjust="spacingAndGlyphs">f/f</text>
<text x="200.0" y="198.6" font-size="8.5" font-style="italic" fill="#C62224" stroke="#C62224" stroke-width="0.15" textLength="31.6" lengthAdjust="spacingAndGlyphs">Mx1-Cre</text>
<text x="170.6" y="207.8" font-size="8.5" font-style="italic" fill="#C62224" stroke="#C62224" stroke-width="0.15" textLength="18.4" lengthAdjust="spacingAndGlyphs">Cbfb</text>
<text x="189.6" y="204.9" font-size="7.0" font-style="italic" fill="#C62224" stroke="#C62224" stroke-width="0.15" textLength="18.6" lengthAdjust="spacingAndGlyphs">+/56M</text>
<text x="48.6" y="321.3" font-size="10.00" font-style="italic" textLength="20.6" lengthAdjust="spacingAndGlyphs" fill="#1a1a1a" stroke="#1a1a1a" stroke-width="0.22">Car1</text>
<text x="163.5" y="321.4" font-size="10.00" font-style="italic" textLength="50.8" lengthAdjust="spacingAndGlyphs" fill="#1a1a1a" stroke="#1a1a1a" stroke-width="0.22">C1QTNF12</text>
<polygon points="52.7,368.4 53.2,370.5 54.5,372.9 56.3,375.4 59.0,377.4 62.8,378.7 62.9,378.7 66.8,380.5 70.5,381.7 76.0,380.9 80.7,378.8 84.4,375.9 87.2,372.0 89.7,367.7 91.5,363.3 91.9,361.0 89.9,360.1 85.1,358.8 80.3,357.9 75.6,358.6 75.4,358.6 75.3,358.6 69.3,358.4 64.5,358.6 60.0,360.0 56.8,362.5 54.0,365.4" fill="#F4CFC4"/>
<path fill="#B82A22" d="M61.9 363.6h1.1v1.1h-1.1zM67.4 368.2h1.1v1.1h-1.1zM65.9 370.0h1.1v1.1h-1.1zM83.4 371.5h1.1v1.1h-1.1zM77.3 369.3h1.1v1.1h-1.1zM77.7 374.3h1.1v1.1h-1.1zM83.7 370.0h1.1v1.1h-1.1zM74.4 366.7h1.1v1.1h-1.1zM71.2 372.8h1.1v1.1h-1.1zM71.9 369.5h1.1v1.1h-1.1zM68.3 373.1h1.1v1.1h-1.1zM75.2 366.3h1.1v1.1h-1.1zM75.4 362.2h1.1v1.1h-1.1zM68.9 372.3h1.1v1.1h-1.1zM71.0 371.1h1.1v1.1h-1.1zM77.0 366.1h1.1v1.1h-1.1zM67.2 361.3h1.1v1.1h-1.1zM66.5 369.6h1.1v1.1h-1.1zM59.9 369.2h1.1v1.1h-1.1zM62.6 359.1h1.1v1.1h-1.1zM75.5 363.6h1.1v1.1h-1.1zM69.5 368.2h1.1v1.1h-1.1zM71.7 366.0h1.1v1.1h-1.1zM62.5 377.8h1.1v1.1h-1.1zM77.4 360.5h1.1v1.1h-1.1zM76.2 365.2h1.1v1.1h-1.1zM74.7 368.2h1.1v1.1h-1.1zM76.7 376.3h1.1v1.1h-1.1zM80.8 366.4h1.1v1.1h-1.1zM69.9 362.8h1.1v1.1h-1.1zM83.3 364.5h1.1v1.1h-1.1zM79.3 368.9h1.1v1.1h-1.1zM71.9 372.0h1.1v1.1h-1.1zM80.2 376.6h1.1v1.1h-1.1zM76.8 360.0h1.1v1.1h-1.1zM83.7 376.5h1.1v1.1h-1.1zM78.8 366.7h1.1v1.1h-1.1zM73.2 375.1h1.1v1.1h-1.1zM65.8 378.7h1.1v1.1h-1.1zM63.1 368.9h1.1v1.1h-1.1zM75.1 367.1h1.1v1.1h-1.1zM69.1 374.4h1.1v1.1h-1.1zM74.6 369.7h1.1v1.1h-1.1zM74.4 366.7h1.1v1.1h-1.1zM64.7 369.8h1.1v1.1h-1.1zM71.8 361.2h1.1v1.1h-1.1zM69.0 373.4h1.1v1.1h-1.1zM67.0 363.6h1.1v1.1h-1.1zM88.8 364.3h1.1v1.1h-1.1zM69.7 362.1h1.1v1.1h-1.1zM77.0 369.3h1.1v1.1h-1.1zM68.6 361.3h1.1v1.1h-1.1zM70.8 372.5h1.1v1.1h-1.1zM71.7 369.7h1.1v1.1h-1.1zM66.3 370.0h1.1v1.1h-1.1zM78.0 361.3h1.1v1.1h-1.1zM77.9 379.4h1.1v1.1h-1.1zM62.1 366.9h1.1v1.1h-1.1zM74.1 361.1h1.1v1.1h-1.1zM80.5 373.1h1.1v1.1h-1.1zM80.4 375.9h1.1v1.1h-1.1zM55.3 373.1h1.1v1.1h-1.1zM77.6 363.4h1.1v1.1h-1.1zM72.0 366.6h1.1v1.1h-1.1zM81.9 367.2h1.1v1.1h-1.1zM85.2 364.6h1.1v1.1h-1.1zM71.8 371.0h1.1v1.1h-1.1zM82.6 368.8h1.1v1.1h-1.1zM70.6 366.1h1.1v1.1h-1.1zM69.8 377.0h1.1v1.1h-1.1zM87.9 367.9h1.1v1.1h-1.1zM84.8 368.1h1.1v1.1h-1.1zM79.5 366.1h1.1v1.1h-1.1zM83.2 372.7h1.1v1.1h-1.1zM92.0 361.5h1.1v1.1h-1.1zM72.6 369.6h1.1v1.1h-1.1zM59.3 375.3h1.1v1.1h-1.1zM79.5 378.3h1.1v1.1h-1.1zM85.7 365.6h1.1v1.1h-1.1zM83.0 361.7h1.1v1.1h-1.1zM64.0 374.6h1.1v1.1h-1.1zM60.6 362.4h1.1v1.1h-1.1zM81.7 372.4h1.1v1.1h-1.1zM78.8 366.9h1.1v1.1h-1.1zM64.0 370.3h1.1v1.1h-1.1zM72.0 362.5h1.1v1.1h-1.1zM64.4 370.3h1.1v1.1h-1.1zM77.5 374.2h1.1v1.1h-1.1zM64.7 365.8h1.1v1.1h-1.1zM63.9 368.0h1.1v1.1h-1.1z"/>
<path fill="#CC4433" d="M56.1 367.0h1.1v1.1h-1.1zM91.0 359.0h1.1v1.1h-1.1zM76.7 375.2h1.1v1.1h-1.1zM82.2 371.5h1.1v1.1h-1.1zM69.5 380.9h1.1v1.1h-1.1zM85.5 371.0h1.1v1.1h-1.1zM81.9 367.0h1.1v1.1h-1.1zM61.5 378.0h1.1v1.1h-1.1zM69.6 364.4h1.1v1.1h-1.1zM57.6 367.3h1.1v1.1h-1.1zM61.6 377.5h1.1v1.1h-1.1zM66.4 377.8h1.1v1.1h-1.1zM66.7 369.4h1.1v1.1h-1.1zM68.5 380.4h1.1v1.1h-1.1zM57.1 367.7h1.1v1.1h-1.1zM88.5 358.8h1.1v1.1h-1.1zM57.7 374.8h1.1v1.1h-1.1zM82.8 374.6h1.1v1.1h-1.1zM72.8 369.0h1.1v1.1h-1.1zM72.0 380.8h1.1v1.1h-1.1zM83.6 371.4h1.1v1.1h-1.1zM63.7 364.1h1.1v1.1h-1.1zM84.2 367.8h1.1v1.1h-1.1zM67.7 376.1h1.1v1.1h-1.1zM75.4 369.0h1.1v1.1h-1.1zM59.9 360.1h1.1v1.1h-1.1zM70.6 375.0h1.1v1.1h-1.1zM77.2 363.8h1.1v1.1h-1.1zM74.7 366.8h1.1v1.1h-1.1zM83.8 376.6h1.1v1.1h-1.1zM87.1 364.4h1.1v1.1h-1.1zM88.7 368.9h1.1v1.1h-1.1zM52.3 366.6h1.1v1.1h-1.1zM66.8 362.6h1.1v1.1h-1.1zM55.5 369.1h1.1v1.1h-1.1zM74.2 370.3h1.1v1.1h-1.1zM76.7 367.4h1.1v1.1h-1.1zM74.2 357.0h1.1v1.1h-1.1zM59.6 374.1h1.1v1.1h-1.1zM75.4 368.7h1.1v1.1h-1.1zM72.4 373.6h1.1v1.1h-1.1zM82.9 373.1h1.1v1.1h-1.1zM70.6 374.2h1.1v1.1h-1.1zM80.4 366.6h1.1v1.1h-1.1zM83.9 361.8h1.1v1.1h-1.1zM76.5 364.2h1.1v1.1h-1.1zM66.7 375.1h1.1v1.1h-1.1zM62.6 379.1h1.1v1.1h-1.1zM69.9 363.3h1.1v1.1h-1.1zM67.7 366.7h1.1v1.1h-1.1zM90.6 362.1h1.1v1.1h-1.1zM57.9 365.6h1.1v1.1h-1.1zM77.5 366.5h1.1v1.1h-1.1zM80.2 368.7h1.1v1.1h-1.1zM81.7 376.6h1.1v1.1h-1.1zM71.8 370.2h1.1v1.1h-1.1zM68.7 372.1h1.1v1.1h-1.1zM61.3 370.0h1.1v1.1h-1.1zM66.2 366.3h1.1v1.1h-1.1zM52.7 372.2h1.1v1.1h-1.1zM75.6 378.4h1.1v1.1h-1.1zM83.6 372.2h1.1v1.1h-1.1zM88.1 363.1h1.1v1.1h-1.1zM57.1 369.7h1.1v1.1h-1.1zM77.4 368.5h1.1v1.1h-1.1zM70.6 364.9h1.1v1.1h-1.1zM77.9 358.0h1.1v1.1h-1.1zM74.5 380.8h1.1v1.1h-1.1zM70.6 368.6h1.1v1.1h-1.1zM58.9 376.7h1.1v1.1h-1.1zM84.1 370.6h1.1v1.1h-1.1zM73.7 382.0h1.1v1.1h-1.1zM83.1 358.0h1.1v1.1h-1.1zM68.7 372.8h1.1v1.1h-1.1zM64.7 378.2h1.1v1.1h-1.1zM64.7 371.4h1.1v1.1h-1.1zM78.1 376.8h1.1v1.1h-1.1zM66.5 369.3h1.1v1.1h-1.1zM77.9 363.6h1.1v1.1h-1.1zM81.3 377.4h1.1v1.1h-1.1zM87.8 367.2h1.1v1.1h-1.1zM71.7 369.7h1.1v1.1h-1.1zM80.7 365.7h1.1v1.1h-1.1zM72.8 364.8h1.1v1.1h-1.1zM80.1 362.7h1.1v1.1h-1.1zM59.2 377.0h1.1v1.1h-1.1zM69.6 381.2h1.1v1.1h-1.1zM64.7 366.7h1.1v1.1h-1.1zM61.9 370.6h1.1v1.1h-1.1zM67.1 363.2h1.1v1.1h-1.1zM64.9 367.2h1.1v1.1h-1.1zM54.3 363.9h1.1v1.1h-1.1zM69.7 361.1h1.1v1.1h-1.1zM75.0 378.5h1.1v1.1h-1.1zM86.0 368.6h1.1v1.1h-1.1zM84.7 360.3h1.1v1.1h-1.1zM82.4 358.2h1.1v1.1h-1.1zM66.1 375.2h1.1v1.1h-1.1zM79.4 367.3h1.1v1.1h-1.1zM65.6 367.8h1.1v1.1h-1.1zM70.9 379.2h1.1v1.1h-1.1zM87.4 363.1h1.1v1.1h-1.1zM81.9 373.9h1.1v1.1h-1.1zM63.2 368.6h1.1v1.1h-1.1zM69.7 365.0h1.1v1.1h-1.1zM81.7 359.1h1.1v1.1h-1.1zM79.2 366.8h1.1v1.1h-1.1zM66.6 359.8h1.1v1.1h-1.1zM84.8 360.7h1.1v1.1h-1.1zM61.2 365.6h1.1v1.1h-1.1zM71.9 366.0h1.1v1.1h-1.1zM67.2 368.4h1.1v1.1h-1.1zM74.6 371.5h1.1v1.1h-1.1zM75.6 376.2h1.1v1.1h-1.1zM73.0 360.7h1.1v1.1h-1.1zM65.6 370.7h1.1v1.1h-1.1zM66.9 364.7h1.1v1.1h-1.1zM72.6 372.7h1.1v1.1h-1.1zM75.4 372.2h1.1v1.1h-1.1zM76.5 371.6h1.1v1.1h-1.1zM75.9 362.7h1.1v1.1h-1.1zM60.4 366.4h1.1v1.1h-1.1zM85.0 371.3h1.1v1.1h-1.1zM73.5 369.4h1.1v1.1h-1.1zM79.2 368.0h1.1v1.1h-1.1zM73.7 377.9h1.1v1.1h-1.1zM74.4 367.4h1.1v1.1h-1.1zM75.9 364.7h1.1v1.1h-1.1zM76.8 375.3h1.1v1.1h-1.1zM86.2 372.7h1.1v1.1h-1.1zM60.6 379.2h1.1v1.1h-1.1zM78.9 368.4h1.1v1.1h-1.1zM86.8 358.8h1.1v1.1h-1.1zM63.3 375.5h1.1v1.1h-1.1zM69.0 360.1h1.1v1.1h-1.1zM73.6 362.2h1.1v1.1h-1.1zM68.1 362.2h1.1v1.1h-1.1zM76.5 370.0h1.1v1.1h-1.1zM76.7 357.0h1.1v1.1h-1.1zM55.7 375.2h1.1v1.1h-1.1zM74.9 359.4h1.1v1.1h-1.1zM58.5 371.3h1.1v1.1h-1.1zM65.4 372.7h1.1v1.1h-1.1zM82.3 368.4h1.1v1.1h-1.1zM81.3 372.7h1.1v1.1h-1.1zM81.2 362.9h1.1v1.1h-1.1zM76.6 357.5h1.1v1.1h-1.1zM61.4 365.9h1.1v1.1h-1.1zM72.4 366.7h1.1v1.1h-1.1zM75.7 373.1h1.1v1.1h-1.1zM67.4 371.7h1.1v1.1h-1.1zM67.3 372.4h1.1v1.1h-1.1zM82.0 362.8h1.1v1.1h-1.1zM79.5 369.4h1.1v1.1h-1.1zM60.5 365.8h1.1v1.1h-1.1zM63.9 374.3h1.1v1.1h-1.1zM56.6 365.3h1.1v1.1h-1.1zM68.6 373.0h1.1v1.1h-1.1zM62.0 374.8h1.1v1.1h-1.1zM69.7 370.6h1.1v1.1h-1.1zM68.1 367.7h1.1v1.1h-1.1zM76.8 362.1h1.1v1.1h-1.1zM70.9 374.9h1.1v1.1h-1.1zM87.7 362.1h1.1v1.1h-1.1zM83.8 360.1h1.1v1.1h-1.1zM62.8 363.5h1.1v1.1h-1.1zM74.8 370.3h1.1v1.1h-1.1zM60.4 372.1h1.1v1.1h-1.1zM62.5 371.0h1.1v1.1h-1.1zM64.7 376.6h1.1v1.1h-1.1zM55.3 368.3h1.1v1.1h-1.1zM83.3 367.4h1.1v1.1h-1.1zM89.8 357.7h1.1v1.1h-1.1zM65.5 371.3h1.1v1.1h-1.1zM56.7 367.7h1.1v1.1h-1.1zM69.8 381.7h1.1v1.1h-1.1zM79.0 378.4h1.1v1.1h-1.1zM79.1 371.1h1.1v1.1h-1.1zM70.5 359.2h1.1v1.1h-1.1zM71.5 362.0h1.1v1.1h-1.1zM66.5 370.7h1.1v1.1h-1.1zM55.5 365.6h1.1v1.1h-1.1zM65.5 376.7h1.1v1.1h-1.1zM59.5 376.6h1.1v1.1h-1.1zM72.6 372.2h1.1v1.1h-1.1zM86.1 361.4h1.1v1.1h-1.1zM74.7 368.3h1.1v1.1h-1.1zM88.8 361.3h1.1v1.1h-1.1zM70.6 373.3h1.1v1.1h-1.1zM62.8 377.3h1.1v1.1h-1.1zM61.4 372.0h1.1v1.1h-1.1zM83.3 370.2h1.1v1.1h-1.1zM59.5 373.5h1.1v1.1h-1.1zM70.3 378.2h1.1v1.1h-1.1zM91.5 360.2h1.1v1.1h-1.1zM72.6 367.1h1.1v1.1h-1.1zM74.6 367.6h1.1v1.1h-1.1zM61.1 363.8h1.1v1.1h-1.1zM74.5 374.5h1.1v1.1h-1.1zM82.6 367.3h1.1v1.1h-1.1zM73.7 361.9h1.1v1.1h-1.1zM72.4 361.0h1.1v1.1h-1.1zM71.0 365.2h1.1v1.1h-1.1zM78.0 365.8h1.1v1.1h-1.1zM65.9 362.2h1.1v1.1h-1.1zM73.6 356.0h1.1v1.1h-1.1zM68.1 365.1h1.1v1.1h-1.1zM70.6 360.0h1.1v1.1h-1.1zM74.1 375.1h1.1v1.1h-1.1zM53.7 366.3h1.1v1.1h-1.1zM58.2 363.6h1.1v1.1h-1.1zM74.6 374.6h1.1v1.1h-1.1zM68.8 375.6h1.1v1.1h-1.1zM68.6 370.6h1.1v1.1h-1.1zM73.8 375.0h1.1v1.1h-1.1zM82.7 362.6h1.1v1.1h-1.1zM64.7 360.7h1.1v1.1h-1.1zM78.1 359.0h1.1v1.1h-1.1zM69.0 357.0h1.1v1.1h-1.1zM61.1 372.5h1.1v1.1h-1.1zM66.3 364.2h1.1v1.1h-1.1zM72.2 368.3h1.1v1.1h-1.1zM65.5 367.4h1.1v1.1h-1.1zM77.9 361.5h1.1v1.1h-1.1zM71.1 363.6h1.1v1.1h-1.1zM61.0 367.6h1.1v1.1h-1.1zM85.6 372.2h1.1v1.1h-1.1zM85.8 360.0h1.1v1.1h-1.1zM58.4 377.3h1.1v1.1h-1.1zM76.7 363.3h1.1v1.1h-1.1zM81.2 369.7h1.1v1.1h-1.1zM68.3 365.2h1.1v1.1h-1.1zM85.8 356.9h1.1v1.1h-1.1zM91.9 359.5h1.1v1.1h-1.1zM62.5 375.6h1.1v1.1h-1.1zM88.0 369.5h1.1v1.1h-1.1zM67.9 363.9h1.1v1.1h-1.1zM65.9 360.8h1.1v1.1h-1.1zM80.1 366.2h1.1v1.1h-1.1zM79.5 376.5h1.1v1.1h-1.1zM71.9 378.3h1.1v1.1h-1.1zM76.8 368.6h1.1v1.1h-1.1zM74.5 366.9h1.1v1.1h-1.1zM79.1 378.6h1.1v1.1h-1.1zM56.6 374.5h1.1v1.1h-1.1zM61.5 374.5h1.1v1.1h-1.1zM56.0 366.1h1.1v1.1h-1.1zM85.9 366.9h1.1v1.1h-1.1zM72.8 369.5h1.1v1.1h-1.1zM78.6 376.9h1.1v1.1h-1.1zM76.4 378.1h1.1v1.1h-1.1zM88.7 360.2h1.1v1.1h-1.1zM81.5 367.6h1.1v1.1h-1.1zM89.6 370.6h1.1v1.1h-1.1zM70.9 370.0h1.1v1.1h-1.1zM83.1 365.9h1.1v1.1h-1.1zM82.3 367.6h1.1v1.1h-1.1zM75.4 363.9h1.1v1.1h-1.1zM57.4 371.0h1.1v1.1h-1.1zM69.3 370.6h1.1v1.1h-1.1zM88.0 365.1h1.1v1.1h-1.1zM86.5 371.7h1.1v1.1h-1.1zM81.5 365.4h1.1v1.1h-1.1zM81.3 376.7h1.1v1.1h-1.1zM77.4 362.4h1.1v1.1h-1.1zM60.5 369.2h1.1v1.1h-1.1zM65.6 362.5h1.1v1.1h-1.1zM81.5 368.5h1.1v1.1h-1.1zM88.3 368.1h1.1v1.1h-1.1zM73.8 365.8h1.1v1.1h-1.1zM86.5 370.6h1.1v1.1h-1.1zM72.2 360.3h1.1v1.1h-1.1zM77.1 366.6h1.1v1.1h-1.1zM75.9 363.0h1.1v1.1h-1.1zM78.9 359.3h1.1v1.1h-1.1zM70.4 358.5h1.1v1.1h-1.1zM66.2 374.5h1.1v1.1h-1.1zM85.9 369.9h1.1v1.1h-1.1zM84.9 370.9h1.1v1.1h-1.1zM57.3 365.2h1.1v1.1h-1.1zM75.6 368.5h1.1v1.1h-1.1zM89.8 361.2h1.1v1.1h-1.1zM77.0 367.9h1.1v1.1h-1.1zM84.2 371.8h1.1v1.1h-1.1zM74.7 367.7h1.1v1.1h-1.1zM79.9 358.2h1.1v1.1h-1.1zM80.3 357.8h1.1v1.1h-1.1zM59.8 367.8h1.1v1.1h-1.1zM76.6 372.1h1.1v1.1h-1.1zM72.5 360.8h1.1v1.1h-1.1zM86.5 370.2h1.1v1.1h-1.1zM75.9 377.3h1.1v1.1h-1.1zM59.0 366.2h1.1v1.1h-1.1zM75.5 372.9h1.1v1.1h-1.1zM77.0 377.1h1.1v1.1h-1.1zM62.1 375.1h1.1v1.1h-1.1zM79.6 359.5h1.1v1.1h-1.1zM61.6 377.2h1.1v1.1h-1.1zM59.7 377.3h1.1v1.1h-1.1zM66.9 378.3h1.1v1.1h-1.1zM68.1 367.7h1.1v1.1h-1.1zM58.3 377.2h1.1v1.1h-1.1zM55.0 372.6h1.1v1.1h-1.1zM64.3 360.0h1.1v1.1h-1.1zM82.7 377.7h1.1v1.1h-1.1zM65.6 367.9h1.1v1.1h-1.1zM72.0 363.0h1.1v1.1h-1.1zM85.4 373.2h1.1v1.1h-1.1zM65.3 366.5h1.1v1.1h-1.1z"/>
<path fill="#E2735C" d="M58.1 372.8h1.1v1.1h-1.1zM86.5 369.1h1.1v1.1h-1.1zM63.3 363.3h1.1v1.1h-1.1zM51.3 366.5h1.1v1.1h-1.1zM65.8 365.5h1.1v1.1h-1.1zM64.0 376.0h1.1v1.1h-1.1zM67.4 375.5h1.1v1.1h-1.1zM81.7 370.9h1.1v1.1h-1.1zM57.1 367.5h1.1v1.1h-1.1zM69.5 375.9h1.1v1.1h-1.1zM85.9 371.3h1.1v1.1h-1.1zM61.7 364.8h1.1v1.1h-1.1zM73.9 362.0h1.1v1.1h-1.1zM85.7 374.4h1.1v1.1h-1.1zM69.1 356.2h1.1v1.1h-1.1zM62.7 360.9h1.1v1.1h-1.1zM71.7 378.8h1.1v1.1h-1.1zM68.4 376.9h1.1v1.1h-1.1zM64.6 366.4h1.1v1.1h-1.1zM64.5 379.7h1.1v1.1h-1.1zM56.6 372.0h1.1v1.1h-1.1zM65.5 379.1h1.1v1.1h-1.1zM80.8 373.6h1.1v1.1h-1.1zM69.6 372.7h1.1v1.1h-1.1zM86.5 368.9h1.1v1.1h-1.1zM75.7 365.0h1.1v1.1h-1.1zM55.9 371.5h1.1v1.1h-1.1zM61.9 371.3h1.1v1.1h-1.1zM62.8 375.5h1.1v1.1h-1.1zM69.4 365.1h1.1v1.1h-1.1zM61.1 368.9h1.1v1.1h-1.1zM73.2 374.4h1.1v1.1h-1.1zM91.7 360.6h1.1v1.1h-1.1zM88.6 360.0h1.1v1.1h-1.1zM85.8 360.8h1.1v1.1h-1.1zM76.9 379.3h1.1v1.1h-1.1zM56.9 376.0h1.1v1.1h-1.1zM58.9 375.3h1.1v1.1h-1.1zM76.9 368.2h1.1v1.1h-1.1zM61.2 374.0h1.1v1.1h-1.1zM70.6 364.1h1.1v1.1h-1.1zM68.5 357.5h1.1v1.1h-1.1zM83.6 375.4h1.1v1.1h-1.1zM54.5 369.0h1.1v1.1h-1.1zM58.8 371.6h1.1v1.1h-1.1zM83.9 361.2h1.1v1.1h-1.1zM57.1 369.0h1.1v1.1h-1.1zM57.8 372.4h1.1v1.1h-1.1zM75.6 367.7h1.1v1.1h-1.1zM78.5 365.9h1.1v1.1h-1.1zM75.0 373.0h1.1v1.1h-1.1zM68.6 358.1h1.1v1.1h-1.1zM74.9 378.5h1.1v1.1h-1.1zM55.9 364.0h1.1v1.1h-1.1zM68.5 383.2h1.1v1.1h-1.1zM63.7 365.9h1.1v1.1h-1.1zM80.6 356.0h1.1v1.1h-1.1zM63.7 373.6h1.1v1.1h-1.1zM78.0 381.5h1.1v1.1h-1.1zM67.2 380.8h1.1v1.1h-1.1zM79.3 370.1h1.1v1.1h-1.1zM86.0 376.2h1.1v1.1h-1.1zM75.6 380.8h1.1v1.1h-1.1zM76.9 361.2h1.1v1.1h-1.1zM84.6 372.6h1.1v1.1h-1.1zM66.0 366.2h1.1v1.1h-1.1zM70.3 364.6h1.1v1.1h-1.1zM83.2 365.6h1.1v1.1h-1.1zM54.7 376.6h1.1v1.1h-1.1zM88.7 359.9h1.1v1.1h-1.1zM70.8 361.4h1.1v1.1h-1.1zM85.4 372.6h1.1v1.1h-1.1zM77.9 364.5h1.1v1.1h-1.1zM69.2 357.0h1.1v1.1h-1.1zM78.9 370.1h1.1v1.1h-1.1zM52.2 366.6h1.1v1.1h-1.1zM67.0 377.1h1.1v1.1h-1.1zM85.6 361.1h1.1v1.1h-1.1zM53.8 371.0h1.1v1.1h-1.1zM90.1 357.9h1.1v1.1h-1.1zM80.0 357.6h1.1v1.1h-1.1zM88.5 373.1h1.1v1.1h-1.1zM70.3 381.8h1.1v1.1h-1.1zM69.9 373.1h1.1v1.1h-1.1zM83.9 363.9h1.1v1.1h-1.1zM87.6 370.8h1.1v1.1h-1.1zM75.7 360.5h1.1v1.1h-1.1zM85.3 373.9h1.1v1.1h-1.1zM53.5 369.2h1.1v1.1h-1.1zM77.1 364.6h1.1v1.1h-1.1zM61.5 373.5h1.1v1.1h-1.1zM70.9 361.9h1.1v1.1h-1.1zM79.9 373.3h1.1v1.1h-1.1zM84.6 364.7h1.1v1.1h-1.1zM80.5 364.4h1.1v1.1h-1.1zM63.5 360.6h1.1v1.1h-1.1zM71.9 380.4h1.1v1.1h-1.1zM68.0 378.3h1.1v1.1h-1.1zM79.5 357.9h1.1v1.1h-1.1zM78.5 374.3h1.1v1.1h-1.1zM73.8 376.2h1.1v1.1h-1.1zM60.1 360.9h1.1v1.1h-1.1zM85.4 369.0h1.1v1.1h-1.1zM63.2 377.1h1.1v1.1h-1.1zM69.1 367.7h1.1v1.1h-1.1zM75.3 357.9h1.1v1.1h-1.1zM77.4 370.2h1.1v1.1h-1.1zM70.9 357.8h1.1v1.1h-1.1zM74.7 369.2h1.1v1.1h-1.1zM79.7 370.1h1.1v1.1h-1.1zM77.1 365.6h1.1v1.1h-1.1zM72.9 361.6h1.1v1.1h-1.1zM72.5 360.4h1.1v1.1h-1.1zM75.6 362.9h1.1v1.1h-1.1zM68.1 371.5h1.1v1.1h-1.1zM66.6 371.7h1.1v1.1h-1.1zM90.9 359.7h1.1v1.1h-1.1zM85.4 357.2h1.1v1.1h-1.1zM86.4 371.3h1.1v1.1h-1.1zM76.3 379.3h1.1v1.1h-1.1zM84.1 374.2h1.1v1.1h-1.1zM67.3 358.0h1.1v1.1h-1.1zM62.1 357.6h1.1v1.1h-1.1zM66.3 369.1h1.1v1.1h-1.1zM69.9 376.0h1.1v1.1h-1.1zM85.9 360.8h1.1v1.1h-1.1zM88.8 367.6h1.1v1.1h-1.1zM78.3 364.4h1.1v1.1h-1.1zM82.5 367.6h1.1v1.1h-1.1zM60.7 369.3h1.1v1.1h-1.1zM62.5 362.0h1.1v1.1h-1.1zM72.8 356.2h1.1v1.1h-1.1zM53.1 369.5h1.1v1.1h-1.1zM78.3 378.9h1.1v1.1h-1.1zM86.6 360.0h1.1v1.1h-1.1zM78.5 357.3h1.1v1.1h-1.1zM80.1 376.2h1.1v1.1h-1.1zM91.3 358.7h1.1v1.1h-1.1zM71.2 372.8h1.1v1.1h-1.1zM51.9 370.6h1.1v1.1h-1.1zM52.3 366.1h1.1v1.1h-1.1zM75.2 360.4h1.1v1.1h-1.1zM59.5 368.2h1.1v1.1h-1.1zM69.1 381.5h1.1v1.1h-1.1zM76.2 378.4h1.1v1.1h-1.1zM71.3 370.5h1.1v1.1h-1.1zM82.2 357.3h1.1v1.1h-1.1zM60.9 363.4h1.1v1.1h-1.1zM59.5 357.2h1.1v1.1h-1.1zM83.7 362.9h1.1v1.1h-1.1zM60.7 370.2h1.1v1.1h-1.1zM79.2 371.3h1.1v1.1h-1.1zM73.1 362.9h1.1v1.1h-1.1zM88.8 371.7h1.1v1.1h-1.1zM77.0 375.7h1.1v1.1h-1.1zM64.6 360.2h1.1v1.1h-1.1zM66.1 365.9h1.1v1.1h-1.1zM53.3 364.3h1.1v1.1h-1.1zM67.0 357.9h1.1v1.1h-1.1zM83.7 359.2h1.1v1.1h-1.1zM77.6 360.3h1.1v1.1h-1.1zM76.3 362.5h1.1v1.1h-1.1zM76.6 375.5h1.1v1.1h-1.1zM63.6 371.9h1.1v1.1h-1.1zM63.6 373.5h1.1v1.1h-1.1zM58.0 376.2h1.1v1.1h-1.1zM72.9 357.0h1.1v1.1h-1.1zM81.5 379.2h1.1v1.1h-1.1zM78.9 378.7h1.1v1.1h-1.1zM50.8 371.6h1.1v1.1h-1.1zM83.9 371.9h1.1v1.1h-1.1zM87.4 369.6h1.1v1.1h-1.1zM73.7 364.0h1.1v1.1h-1.1zM63.3 362.3h1.1v1.1h-1.1zM79.4 375.9h1.1v1.1h-1.1zM89.2 361.7h1.1v1.1h-1.1zM77.1 376.5h1.1v1.1h-1.1zM77.6 358.9h1.1v1.1h-1.1zM62.1 370.3h1.1v1.1h-1.1zM74.6 359.2h1.1v1.1h-1.1zM67.0 378.8h1.1v1.1h-1.1zM66.8 362.8h1.1v1.1h-1.1zM58.1 375.4h1.1v1.1h-1.1zM67.8 361.7h1.1v1.1h-1.1zM60.8 375.6h1.1v1.1h-1.1zM78.6 374.5h1.1v1.1h-1.1zM81.6 361.3h1.1v1.1h-1.1zM69.4 358.3h1.1v1.1h-1.1zM77.3 379.1h1.1v1.1h-1.1zM66.4 377.0h1.1v1.1h-1.1zM76.0 361.9h1.1v1.1h-1.1zM66.0 364.9h1.1v1.1h-1.1zM73.8 378.1h1.1v1.1h-1.1zM58.4 359.4h1.1v1.1h-1.1zM75.9 372.4h1.1v1.1h-1.1zM80.8 378.0h1.1v1.1h-1.1zM65.9 358.0h1.1v1.1h-1.1zM67.9 358.3h1.1v1.1h-1.1zM65.1 363.2h1.1v1.1h-1.1zM67.6 361.9h1.1v1.1h-1.1zM78.3 376.5h1.1v1.1h-1.1zM78.2 361.2h1.1v1.1h-1.1zM57.6 369.5h1.1v1.1h-1.1zM59.8 364.5h1.1v1.1h-1.1zM66.7 357.5h1.1v1.1h-1.1zM54.6 360.3h1.1v1.1h-1.1zM72.5 372.2h1.1v1.1h-1.1zM89.3 363.4h1.1v1.1h-1.1zM63.6 369.1h1.1v1.1h-1.1zM79.6 355.1h1.1v1.1h-1.1zM61.4 358.8h1.1v1.1h-1.1zM78.8 379.3h1.1v1.1h-1.1zM63.0 359.1h1.1v1.1h-1.1zM67.7 363.2h1.1v1.1h-1.1zM67.2 374.2h1.1v1.1h-1.1zM84.8 360.2h1.1v1.1h-1.1zM68.8 378.8h1.1v1.1h-1.1zM83.8 361.4h1.1v1.1h-1.1zM76.9 377.5h1.1v1.1h-1.1zM78.2 360.1h1.1v1.1h-1.1zM74.5 379.2h1.1v1.1h-1.1zM63.6 368.0h1.1v1.1h-1.1zM68.6 373.3h1.1v1.1h-1.1zM61.6 368.7h1.1v1.1h-1.1zM88.2 370.6h1.1v1.1h-1.1zM87.9 365.5h1.1v1.1h-1.1zM52.6 370.7h1.1v1.1h-1.1zM66.7 359.8h1.1v1.1h-1.1zM78.1 369.2h1.1v1.1h-1.1zM74.6 382.1h1.1v1.1h-1.1zM85.5 358.8h1.1v1.1h-1.1zM68.8 368.6h1.1v1.1h-1.1zM86.6 363.4h1.1v1.1h-1.1zM67.7 380.5h1.1v1.1h-1.1zM83.6 376.6h1.1v1.1h-1.1zM72.7 365.2h1.1v1.1h-1.1zM73.0 375.9h1.1v1.1h-1.1zM71.9 370.8h1.1v1.1h-1.1zM73.6 379.2h1.1v1.1h-1.1zM68.5 376.9h1.1v1.1h-1.1zM55.8 366.0h1.1v1.1h-1.1zM53.8 374.7h1.1v1.1h-1.1zM68.0 370.9h1.1v1.1h-1.1zM88.4 361.3h1.1v1.1h-1.1zM70.0 379.7h1.1v1.1h-1.1zM81.3 355.8h1.1v1.1h-1.1zM60.9 362.7h1.1v1.1h-1.1zM70.8 355.6h1.1v1.1h-1.1zM91.5 365.7h1.1v1.1h-1.1zM72.6 378.9h1.1v1.1h-1.1zM77.1 381.1h1.1v1.1h-1.1zM60.2 365.6h1.1v1.1h-1.1zM82.1 367.5h1.1v1.1h-1.1zM85.6 371.0h1.1v1.1h-1.1zM68.0 379.0h1.1v1.1h-1.1zM75.2 364.1h1.1v1.1h-1.1zM83.9 359.8h1.1v1.1h-1.1zM72.0 356.7h1.1v1.1h-1.1zM68.3 358.8h1.1v1.1h-1.1zM81.4 378.1h1.1v1.1h-1.1zM73.9 362.7h1.1v1.1h-1.1zM56.7 362.4h1.1v1.1h-1.1zM65.3 361.1h1.1v1.1h-1.1zM71.2 363.3h1.1v1.1h-1.1zM78.4 366.1h1.1v1.1h-1.1zM57.3 363.3h1.1v1.1h-1.1zM86.2 366.9h1.1v1.1h-1.1zM71.8 368.9h1.1v1.1h-1.1zM75.8 358.4h1.1v1.1h-1.1zM79.9 373.3h1.1v1.1h-1.1zM80.5 377.4h1.1v1.1h-1.1zM73.9 367.8h1.1v1.1h-1.1zM56.7 367.3h1.1v1.1h-1.1zM55.0 371.8h1.1v1.1h-1.1zM81.0 375.8h1.1v1.1h-1.1zM73.2 380.8h1.1v1.1h-1.1zM59.7 372.3h1.1v1.1h-1.1zM76.8 364.0h1.1v1.1h-1.1zM79.8 357.2h1.1v1.1h-1.1zM68.0 370.5h1.1v1.1h-1.1zM82.4 357.6h1.1v1.1h-1.1zM58.6 365.1h1.1v1.1h-1.1zM59.7 365.3h1.1v1.1h-1.1zM63.0 379.5h1.1v1.1h-1.1zM78.1 361.3h1.1v1.1h-1.1zM82.9 377.2h1.1v1.1h-1.1zM90.2 358.8h1.1v1.1h-1.1zM52.0 370.7h1.1v1.1h-1.1zM91.4 362.8h1.1v1.1h-1.1zM75.8 378.6h1.1v1.1h-1.1zM54.7 366.5h1.1v1.1h-1.1zM69.9 373.1h1.1v1.1h-1.1zM86.7 359.5h1.1v1.1h-1.1zM68.9 377.4h1.1v1.1h-1.1zM84.2 362.7h1.1v1.1h-1.1zM58.5 363.1h1.1v1.1h-1.1zM79.2 362.8h1.1v1.1h-1.1zM79.6 364.6h1.1v1.1h-1.1zM54.0 367.5h1.1v1.1h-1.1zM82.6 375.6h1.1v1.1h-1.1zM71.3 371.7h1.1v1.1h-1.1zM65.1 358.7h1.1v1.1h-1.1zM62.5 369.8h1.1v1.1h-1.1zM85.7 361.5h1.1v1.1h-1.1zM86.0 360.6h1.1v1.1h-1.1zM54.8 371.6h1.1v1.1h-1.1zM80.9 367.0h1.1v1.1h-1.1zM85.9 368.6h1.1v1.1h-1.1zM87.6 369.0h1.1v1.1h-1.1zM59.3 367.5h1.1v1.1h-1.1zM78.4 368.9h1.1v1.1h-1.1zM64.1 379.0h1.1v1.1h-1.1zM80.2 378.3h1.1v1.1h-1.1zM64.4 380.4h1.1v1.1h-1.1zM78.1 370.4h1.1v1.1h-1.1zM89.4 365.2h1.1v1.1h-1.1zM65.2 364.2h1.1v1.1h-1.1zM63.2 367.5h1.1v1.1h-1.1zM63.9 369.1h1.1v1.1h-1.1zM51.7 366.4h1.1v1.1h-1.1zM88.8 360.8h1.1v1.1h-1.1zM83.7 371.1h1.1v1.1h-1.1zM62.7 377.6h1.1v1.1h-1.1zM81.4 357.8h1.1v1.1h-1.1zM70.2 357.2h1.1v1.1h-1.1zM64.7 365.1h1.1v1.1h-1.1zM71.8 358.6h1.1v1.1h-1.1zM72.2 380.9h1.1v1.1h-1.1zM61.7 373.1h1.1v1.1h-1.1zM69.1 373.2h1.1v1.1h-1.1zM74.5 361.8h1.1v1.1h-1.1zM62.2 363.8h1.1v1.1h-1.1zM77.5 381.3h1.1v1.1h-1.1zM64.5 357.4h1.1v1.1h-1.1zM65.2 367.6h1.1v1.1h-1.1zM91.1 362.2h1.1v1.1h-1.1zM55.7 367.6h1.1v1.1h-1.1zM57.3 363.5h1.1v1.1h-1.1zM85.7 362.1h1.1v1.1h-1.1zM71.7 365.6h1.1v1.1h-1.1zM68.6 379.4h1.1v1.1h-1.1zM85.8 367.9h1.1v1.1h-1.1zM74.2 359.8h1.1v1.1h-1.1zM83.2 358.9h1.1v1.1h-1.1zM80.8 375.7h1.1v1.1h-1.1zM71.1 361.0h1.1v1.1h-1.1zM58.1 364.6h1.1v1.1h-1.1zM54.5 365.3h1.1v1.1h-1.1zM50.6 366.8h1.1v1.1h-1.1zM55.7 372.8h1.1v1.1h-1.1zM58.8 369.2h1.1v1.1h-1.1zM64.1 373.9h1.1v1.1h-1.1zM74.8 372.3h1.1v1.1h-1.1zM69.3 380.6h1.1v1.1h-1.1zM58.4 371.3h1.1v1.1h-1.1zM78.6 370.9h1.1v1.1h-1.1zM70.2 376.2h1.1v1.1h-1.1zM71.2 359.0h1.1v1.1h-1.1zM86.2 363.1h1.1v1.1h-1.1zM67.2 372.7h1.1v1.1h-1.1zM54.9 366.3h1.1v1.1h-1.1zM74.3 377.7h1.1v1.1h-1.1zM71.9 370.1h1.1v1.1h-1.1zM64.1 363.6h1.1v1.1h-1.1z"/>
<path fill="#F2AE9C" d="M55.8 369.2h1.1v1.1h-1.1zM78.9 359.7h1.1v1.1h-1.1zM89.8 364.4h1.1v1.1h-1.1zM54.2 370.2h1.1v1.1h-1.1zM59.4 363.4h1.1v1.1h-1.1zM55.1 375.0h1.1v1.1h-1.1zM84.6 364.2h1.1v1.1h-1.1zM76.2 371.0h1.1v1.1h-1.1zM51.2 371.6h1.1v1.1h-1.1zM52.4 365.2h1.1v1.1h-1.1zM66.5 366.1h1.1v1.1h-1.1zM58.7 357.2h1.1v1.1h-1.1zM61.0 365.7h1.1v1.1h-1.1zM53.8 365.9h1.1v1.1h-1.1zM79.6 361.9h1.1v1.1h-1.1zM59.4 361.9h1.1v1.1h-1.1zM81.5 360.4h1.1v1.1h-1.1zM84.5 360.3h1.1v1.1h-1.1zM57.6 373.8h1.1v1.1h-1.1zM63.4 370.6h1.1v1.1h-1.1zM89.9 368.6h1.1v1.1h-1.1zM56.4 367.9h1.1v1.1h-1.1zM63.4 361.9h1.1v1.1h-1.1zM72.8 372.5h1.1v1.1h-1.1zM91.1 361.6h1.1v1.1h-1.1zM87.8 364.6h1.1v1.1h-1.1zM52.5 370.6h1.1v1.1h-1.1zM56.1 367.3h1.1v1.1h-1.1zM73.2 364.2h1.1v1.1h-1.1zM63.4 370.5h1.1v1.1h-1.1zM54.8 372.9h1.1v1.1h-1.1zM71.1 363.5h1.1v1.1h-1.1zM86.9 358.2h1.1v1.1h-1.1zM91.5 367.1h1.1v1.1h-1.1zM67.5 379.8h1.1v1.1h-1.1zM60.5 359.8h1.1v1.1h-1.1zM67.0 380.4h1.1v1.1h-1.1zM90.8 363.4h1.1v1.1h-1.1zM63.0 366.1h1.1v1.1h-1.1zM82.1 358.5h1.1v1.1h-1.1zM55.0 361.1h1.1v1.1h-1.1zM81.5 378.0h1.1v1.1h-1.1zM85.4 356.0h1.1v1.1h-1.1zM62.3 370.4h1.1v1.1h-1.1zM52.1 369.0h1.1v1.1h-1.1zM55.8 374.4h1.1v1.1h-1.1zM82.6 359.6h1.1v1.1h-1.1zM51.5 364.6h1.1v1.1h-1.1zM65.0 361.0h1.1v1.1h-1.1zM89.9 358.6h1.1v1.1h-1.1zM54.1 363.0h1.1v1.1h-1.1zM63.9 369.9h1.1v1.1h-1.1zM56.2 362.7h1.1v1.1h-1.1zM81.9 356.2h1.1v1.1h-1.1zM63.1 358.6h1.1v1.1h-1.1zM83.7 363.9h1.1v1.1h-1.1zM59.9 370.7h1.1v1.1h-1.1zM65.2 377.4h1.1v1.1h-1.1zM77.7 357.0h1.1v1.1h-1.1zM81.8 370.5h1.1v1.1h-1.1zM87.3 362.6h1.1v1.1h-1.1zM82.4 357.6h1.1v1.1h-1.1zM67.4 360.1h1.1v1.1h-1.1zM72.8 360.1h1.1v1.1h-1.1zM88.9 358.8h1.1v1.1h-1.1zM64.4 366.1h1.1v1.1h-1.1zM79.4 355.1h1.1v1.1h-1.1zM57.9 365.4h1.1v1.1h-1.1zM60.3 367.6h1.1v1.1h-1.1zM91.6 359.5h1.1v1.1h-1.1zM73.5 377.1h1.1v1.1h-1.1zM85.5 365.1h1.1v1.1h-1.1zM51.7 363.3h1.1v1.1h-1.1zM65.6 356.3h1.1v1.1h-1.1zM75.0 357.2h1.1v1.1h-1.1zM83.2 356.9h1.1v1.1h-1.1zM54.4 369.0h1.1v1.1h-1.1zM67.3 361.6h1.1v1.1h-1.1zM60.7 377.3h1.1v1.1h-1.1zM64.6 374.6h1.1v1.1h-1.1zM53.0 365.7h1.1v1.1h-1.1zM88.8 360.5h1.1v1.1h-1.1zM54.9 371.6h1.1v1.1h-1.1zM63.8 356.1h1.1v1.1h-1.1zM53.9 373.6h1.1v1.1h-1.1zM62.6 377.8h1.1v1.1h-1.1zM76.1 379.3h1.1v1.1h-1.1zM80.5 362.3h1.1v1.1h-1.1zM70.6 380.4h1.1v1.1h-1.1zM86.3 356.3h1.1v1.1h-1.1zM53.3 363.6h1.1v1.1h-1.1zM58.7 358.6h1.1v1.1h-1.1zM70.4 359.3h1.1v1.1h-1.1zM55.6 363.5h1.1v1.1h-1.1zM69.2 366.2h1.1v1.1h-1.1zM69.2 371.4h1.1v1.1h-1.1zM57.0 363.7h1.1v1.1h-1.1zM91.8 360.7h1.1v1.1h-1.1zM65.4 370.5h1.1v1.1h-1.1zM84.1 364.2h1.1v1.1h-1.1zM66.9 365.1h1.1v1.1h-1.1zM68.9 383.0h1.1v1.1h-1.1zM63.8 376.9h1.1v1.1h-1.1zM73.8 375.6h1.1v1.1h-1.1zM52.7 366.0h1.1v1.1h-1.1zM87.0 362.8h1.1v1.1h-1.1zM82.0 356.7h1.1v1.1h-1.1zM76.6 375.3h1.1v1.1h-1.1zM65.3 357.6h1.1v1.1h-1.1zM87.7 358.7h1.1v1.1h-1.1zM83.3 359.8h1.1v1.1h-1.1zM72.3 375.2h1.1v1.1h-1.1zM68.3 379.8h1.1v1.1h-1.1zM84.8 367.4h1.1v1.1h-1.1zM53.6 363.0h1.1v1.1h-1.1zM59.3 357.5h1.1v1.1h-1.1zM87.5 359.4h1.1v1.1h-1.1zM61.3 366.9h1.1v1.1h-1.1zM85.0 358.9h1.1v1.1h-1.1zM55.5 366.6h1.1v1.1h-1.1zM87.3 361.6h1.1v1.1h-1.1zM78.1 361.5h1.1v1.1h-1.1zM80.3 380.9h1.1v1.1h-1.1zM62.8 378.4h1.1v1.1h-1.1zM80.3 377.6h1.1v1.1h-1.1zM66.2 361.9h1.1v1.1h-1.1zM77.4 363.3h1.1v1.1h-1.1zM71.2 376.7h1.1v1.1h-1.1zM52.7 368.2h1.1v1.1h-1.1zM69.0 358.5h1.1v1.1h-1.1zM86.9 372.8h1.1v1.1h-1.1zM88.3 373.5h1.1v1.1h-1.1zM87.2 362.8h1.1v1.1h-1.1zM65.8 376.4h1.1v1.1h-1.1zM68.9 364.4h1.1v1.1h-1.1zM56.6 359.5h1.1v1.1h-1.1zM66.5 380.6h1.1v1.1h-1.1zM57.9 378.2h1.1v1.1h-1.1zM51.7 368.8h1.1v1.1h-1.1zM71.2 370.8h1.1v1.1h-1.1zM57.7 376.5h1.1v1.1h-1.1zM74.6 379.2h1.1v1.1h-1.1zM61.0 376.8h1.1v1.1h-1.1zM85.3 358.4h1.1v1.1h-1.1zM73.9 379.0h1.1v1.1h-1.1zM63.4 362.4h1.1v1.1h-1.1zM50.6 365.7h1.1v1.1h-1.1zM76.8 367.8h1.1v1.1h-1.1zM82.8 366.6h1.1v1.1h-1.1zM57.2 366.0h1.1v1.1h-1.1zM75.7 365.4h1.1v1.1h-1.1zM62.8 359.8h1.1v1.1h-1.1zM77.3 358.1h1.1v1.1h-1.1zM64.4 378.8h1.1v1.1h-1.1zM82.8 358.3h1.1v1.1h-1.1zM57.4 373.4h1.1v1.1h-1.1zM83.3 375.2h1.1v1.1h-1.1zM89.3 359.0h1.1v1.1h-1.1zM65.5 357.8h1.1v1.1h-1.1zM55.4 369.6h1.1v1.1h-1.1zM58.3 370.2h1.1v1.1h-1.1zM71.4 382.5h1.1v1.1h-1.1zM50.3 367.8h1.1v1.1h-1.1zM70.2 379.0h1.1v1.1h-1.1zM89.7 362.9h1.1v1.1h-1.1zM86.8 357.3h1.1v1.1h-1.1zM60.0 373.9h1.1v1.1h-1.1zM89.2 359.3h1.1v1.1h-1.1zM87.6 370.8h1.1v1.1h-1.1zM86.6 358.4h1.1v1.1h-1.1zM52.6 371.9h1.1v1.1h-1.1zM51.3 367.5h1.1v1.1h-1.1zM85.5 371.7h1.1v1.1h-1.1zM53.1 364.1h1.1v1.1h-1.1zM76.1 356.6h1.1v1.1h-1.1zM83.1 357.0h1.1v1.1h-1.1zM68.1 360.9h1.1v1.1h-1.1zM61.4 357.3h1.1v1.1h-1.1zM56.6 368.9h1.1v1.1h-1.1zM72.9 357.3h1.1v1.1h-1.1zM89.8 368.1h1.1v1.1h-1.1zM71.5 358.9h1.1v1.1h-1.1zM90.3 362.3h1.1v1.1h-1.1zM54.6 371.8h1.1v1.1h-1.1zM91.3 366.5h1.1v1.1h-1.1zM78.9 368.9h1.1v1.1h-1.1zM85.7 360.2h1.1v1.1h-1.1zM81.4 370.0h1.1v1.1h-1.1zM88.0 357.7h1.1v1.1h-1.1zM72.2 364.2h1.1v1.1h-1.1z"/>
<path fill="#FBE3DC" d="M71.8 377.6h1.1v1.1h-1.1zM59.0 357.7h1.1v1.1h-1.1zM60.2 369.8h1.1v1.1h-1.1zM55.9 361.6h1.1v1.1h-1.1zM90.4 361.0h1.1v1.1h-1.1zM69.1 381.0h1.1v1.1h-1.1zM52.6 373.4h1.1v1.1h-1.1zM57.9 360.2h1.1v1.1h-1.1zM56.0 375.1h1.1v1.1h-1.1zM54.0 370.0h1.1v1.1h-1.1zM80.3 357.5h1.1v1.1h-1.1zM53.0 365.9h1.1v1.1h-1.1zM67.6 379.0h1.1v1.1h-1.1zM75.0 357.7h1.1v1.1h-1.1zM87.5 367.7h1.1v1.1h-1.1zM72.7 358.9h1.1v1.1h-1.1zM53.3 371.6h1.1v1.1h-1.1zM72.6 382.9h1.1v1.1h-1.1zM65.7 381.4h1.1v1.1h-1.1zM78.3 374.5h1.1v1.1h-1.1zM67.8 363.8h1.1v1.1h-1.1zM65.1 357.3h1.1v1.1h-1.1zM59.5 365.7h1.1v1.1h-1.1zM66.9 355.4h1.1v1.1h-1.1zM90.7 359.1h1.1v1.1h-1.1zM83.6 368.3h1.1v1.1h-1.1zM75.7 357.3h1.1v1.1h-1.1zM58.3 358.0h1.1v1.1h-1.1zM62.6 362.1h1.1v1.1h-1.1zM58.1 373.5h1.1v1.1h-1.1zM81.8 363.2h1.1v1.1h-1.1zM74.5 381.8h1.1v1.1h-1.1zM54.5 372.0h1.1v1.1h-1.1zM55.6 363.4h1.1v1.1h-1.1zM81.5 365.0h1.1v1.1h-1.1zM89.4 363.3h1.1v1.1h-1.1zM70.7 357.7h1.1v1.1h-1.1zM91.7 364.1h1.1v1.1h-1.1zM80.1 378.3h1.1v1.1h-1.1zM52.4 367.9h1.1v1.1h-1.1zM84.4 359.1h1.1v1.1h-1.1zM53.6 374.5h1.1v1.1h-1.1zM66.9 361.1h1.1v1.1h-1.1zM90.4 361.8h1.1v1.1h-1.1zM53.5 369.2h1.1v1.1h-1.1zM60.9 375.9h1.1v1.1h-1.1zM51.7 367.4h1.1v1.1h-1.1z"/>
<polygon points="81.4,352.9 84.7,352.9 84.8,352.9 84.9,353.0 88.2,353.5 88.3,353.6 88.4,353.6 88.4,353.6 88.5,353.7 91.9,355.8 91.9,355.8 92.0,355.9 94.6,358.2 97.2,360.0 100.4,361.7 104.3,362.6 108.2,362.8 113.1,361.9 113.1,361.9 118.1,361.0 123.1,359.7 128.2,357.9 131.5,356.1 133.3,353.7 133.7,350.4 132.8,347.0 131.4,344.5 129.1,342.9 126.2,342.0 126.2,342.0 126.1,342.0 126.0,341.9 126.0,341.9 123.5,340.1 123.4,340.0 123.4,340.0 123.3,339.9 123.3,339.9 123.2,339.8 123.2,339.7 123.2,339.6 123.2,339.6 122.6,336.8 122.6,336.7 122.6,336.6 122.6,333.4 120.9,331.9 117.8,331.1 115.2,331.9 113.4,333.6 111.4,336.6 111.4,336.7 111.3,336.7 108.8,339.5 108.8,339.5 106.2,342.4 106.1,342.4 106.1,342.5 106.0,342.5 103.9,343.8 103.8,343.9 103.7,343.9 100.4,345.1 97.1,346.3 93.7,348.1 93.7,348.1 90.3,349.3 90.2,349.4 87.0,350.2 83.7,351.7" fill="#FDF6F4"/>
<path fill="#CC4433" d="M132.6 347.6h1.1v1.1h-1.1z"/>
<path fill="#E2735C" d="M101.9 345.7h1.1v1.1h-1.1zM122.1 352.1h1.1v1.1h-1.1zM114.3 356.3h1.1v1.1h-1.1zM113.1 358.6h1.1v1.1h-1.1zM126.0 350.0h1.1v1.1h-1.1zM123.7 346.0h1.1v1.1h-1.1zM115.7 343.4h1.1v1.1h-1.1zM102.3 357.3h1.1v1.1h-1.1zM116.1 357.6h1.1v1.1h-1.1zM101.5 347.3h1.1v1.1h-1.1zM120.4 340.9h1.1v1.1h-1.1zM121.6 338.3h1.1v1.1h-1.1zM100.2 362.1h1.1v1.1h-1.1zM111.3 336.9h1.1v1.1h-1.1zM117.1 344.0h1.1v1.1h-1.1zM109.6 347.2h1.1v1.1h-1.1zM131.6 354.8h1.1v1.1h-1.1zM112.0 342.9h1.1v1.1h-1.1zM115.6 356.4h1.1v1.1h-1.1zM115.4 345.4h1.1v1.1h-1.1zM127.5 342.4h1.1v1.1h-1.1zM122.3 352.9h1.1v1.1h-1.1zM110.4 350.0h1.1v1.1h-1.1zM128.0 352.7h1.1v1.1h-1.1zM99.9 359.2h1.1v1.1h-1.1zM109.6 351.3h1.1v1.1h-1.1zM126.3 342.1h1.1v1.1h-1.1zM111.2 349.6h1.1v1.1h-1.1zM119.2 349.9h1.1v1.1h-1.1zM122.3 354.2h1.1v1.1h-1.1zM123.8 347.5h1.1v1.1h-1.1zM117.5 342.8h1.1v1.1h-1.1z"/>
<path fill="#F2AE9C" d="M114.3 354.4h1.1v1.1h-1.1zM101.4 352.8h1.1v1.1h-1.1zM125.5 349.8h1.1v1.1h-1.1zM129.2 345.1h1.1v1.1h-1.1zM107.1 339.2h1.1v1.1h-1.1zM127.8 354.0h1.1v1.1h-1.1zM131.1 350.6h1.1v1.1h-1.1zM102.9 344.6h1.1v1.1h-1.1zM100.9 351.3h1.1v1.1h-1.1zM128.7 351.4h1.1v1.1h-1.1zM91.6 356.6h1.1v1.1h-1.1zM109.6 356.0h1.1v1.1h-1.1zM116.2 355.5h1.1v1.1h-1.1zM111.7 353.6h1.1v1.1h-1.1zM111.7 355.9h1.1v1.1h-1.1zM112.4 359.4h1.1v1.1h-1.1zM123.4 357.9h1.1v1.1h-1.1zM125.5 349.7h1.1v1.1h-1.1zM125.9 350.9h1.1v1.1h-1.1zM126.0 355.2h1.1v1.1h-1.1zM85.0 352.7h1.1v1.1h-1.1zM121.0 336.0h1.1v1.1h-1.1zM116.5 353.9h1.1v1.1h-1.1zM115.3 336.8h1.1v1.1h-1.1zM120.1 346.6h1.1v1.1h-1.1zM117.5 356.2h1.1v1.1h-1.1zM115.0 344.7h1.1v1.1h-1.1zM102.4 352.3h1.1v1.1h-1.1zM104.8 343.8h1.1v1.1h-1.1zM108.8 347.5h1.1v1.1h-1.1zM131.2 350.2h1.1v1.1h-1.1zM105.3 355.2h1.1v1.1h-1.1zM109.0 341.9h1.1v1.1h-1.1zM106.5 343.3h1.1v1.1h-1.1zM98.3 357.7h1.1v1.1h-1.1zM105.1 359.9h1.1v1.1h-1.1zM105.2 362.5h1.1v1.1h-1.1zM121.1 358.5h1.1v1.1h-1.1zM127.5 354.2h1.1v1.1h-1.1zM129.2 349.9h1.1v1.1h-1.1zM115.4 360.3h1.1v1.1h-1.1zM112.1 356.6h1.1v1.1h-1.1zM103.4 344.0h1.1v1.1h-1.1zM132.5 354.7h1.1v1.1h-1.1zM108.6 345.2h1.1v1.1h-1.1zM113.2 346.4h1.1v1.1h-1.1zM106.7 357.3h1.1v1.1h-1.1zM123.8 356.3h1.1v1.1h-1.1zM108.0 343.8h1.1v1.1h-1.1zM111.2 356.0h1.1v1.1h-1.1zM100.1 357.9h1.1v1.1h-1.1zM108.7 347.5h1.1v1.1h-1.1zM105.0 350.3h1.1v1.1h-1.1zM120.8 344.6h1.1v1.1h-1.1zM123.8 352.3h1.1v1.1h-1.1zM126.9 354.5h1.1v1.1h-1.1zM110.3 352.8h1.1v1.1h-1.1zM117.8 334.8h1.1v1.1h-1.1zM134.1 350.0h1.1v1.1h-1.1zM122.2 350.6h1.1v1.1h-1.1zM125.3 352.0h1.1v1.1h-1.1zM125.2 356.5h1.1v1.1h-1.1zM101.4 343.7h1.1v1.1h-1.1zM114.4 339.4h1.1v1.1h-1.1zM87.6 349.1h1.1v1.1h-1.1zM95.1 347.8h1.1v1.1h-1.1zM122.7 353.1h1.1v1.1h-1.1zM129.0 346.9h1.1v1.1h-1.1zM115.5 344.0h1.1v1.1h-1.1zM130.9 347.9h1.1v1.1h-1.1zM105.5 347.3h1.1v1.1h-1.1zM119.6 331.4h1.1v1.1h-1.1zM107.7 347.3h1.1v1.1h-1.1zM123.2 359.5h1.1v1.1h-1.1zM94.5 348.1h1.1v1.1h-1.1zM124.6 346.3h1.1v1.1h-1.1zM112.3 345.5h1.1v1.1h-1.1zM99.7 348.0h1.1v1.1h-1.1zM110.8 355.6h1.1v1.1h-1.1zM114.2 332.0h1.1v1.1h-1.1zM115.8 338.5h1.1v1.1h-1.1zM81.5 352.9h1.1v1.1h-1.1zM95.1 357.7h1.1v1.1h-1.1zM97.9 353.0h1.1v1.1h-1.1zM107.4 358.0h1.1v1.1h-1.1zM121.8 337.2h1.1v1.1h-1.1zM119.9 353.8h1.1v1.1h-1.1zM125.8 355.3h1.1v1.1h-1.1zM93.0 353.6h1.1v1.1h-1.1zM97.2 360.1h1.1v1.1h-1.1zM112.0 361.1h1.1v1.1h-1.1zM122.0 342.7h1.1v1.1h-1.1zM104.1 360.8h1.1v1.1h-1.1zM125.3 353.5h1.1v1.1h-1.1zM113.3 357.4h1.1v1.1h-1.1zM116.7 337.2h1.1v1.1h-1.1zM113.4 332.8h1.1v1.1h-1.1zM103.6 353.9h1.1v1.1h-1.1zM88.5 353.2h1.1v1.1h-1.1zM99.1 357.8h1.1v1.1h-1.1zM123.0 358.4h1.1v1.1h-1.1zM95.8 354.9h1.1v1.1h-1.1zM126.9 349.8h1.1v1.1h-1.1zM98.2 357.0h1.1v1.1h-1.1zM93.0 349.3h1.1v1.1h-1.1zM119.1 344.8h1.1v1.1h-1.1zM99.0 350.2h1.1v1.1h-1.1zM114.6 352.3h1.1v1.1h-1.1zM129.9 348.9h1.1v1.1h-1.1zM118.5 355.2h1.1v1.1h-1.1zM129.7 348.0h1.1v1.1h-1.1zM111.5 344.3h1.1v1.1h-1.1zM126.3 347.0h1.1v1.1h-1.1zM118.4 340.0h1.1v1.1h-1.1zM112.2 344.0h1.1v1.1h-1.1zM125.5 355.5h1.1v1.1h-1.1zM122.0 348.8h1.1v1.1h-1.1zM117.4 345.6h1.1v1.1h-1.1zM120.3 350.4h1.1v1.1h-1.1zM111.1 354.5h1.1v1.1h-1.1zM114.9 356.9h1.1v1.1h-1.1zM123.0 341.1h1.1v1.1h-1.1zM101.2 353.8h1.1v1.1h-1.1zM112.4 356.9h1.1v1.1h-1.1zM85.5 352.0h1.1v1.1h-1.1zM113.7 344.3h1.1v1.1h-1.1zM122.4 350.3h1.1v1.1h-1.1zM130.3 346.2h1.1v1.1h-1.1zM107.8 360.9h1.1v1.1h-1.1zM122.1 342.3h1.1v1.1h-1.1zM105.2 346.5h1.1v1.1h-1.1zM110.8 347.1h1.1v1.1h-1.1zM112.1 340.6h1.1v1.1h-1.1zM90.9 355.0h1.1v1.1h-1.1z"/>
<path fill="#FBE3DC" d="M118.9 354.4h1.1v1.1h-1.1zM81.2 352.7h1.1v1.1h-1.1zM100.3 344.6h1.1v1.1h-1.1zM117.4 337.7h1.1v1.1h-1.1zM100.5 355.8h1.1v1.1h-1.1zM92.7 352.5h1.1v1.1h-1.1zM129.0 354.0h1.1v1.1h-1.1zM110.5 355.2h1.1v1.1h-1.1zM91.1 348.0h1.1v1.1h-1.1zM110.2 348.1h1.1v1.1h-1.1zM81.7 352.3h1.1v1.1h-1.1zM108.9 346.3h1.1v1.1h-1.1zM110.1 357.5h1.1v1.1h-1.1zM96.1 347.9h1.1v1.1h-1.1zM86.5 348.8h1.1v1.1h-1.1zM95.1 354.7h1.1v1.1h-1.1zM112.6 357.5h1.1v1.1h-1.1zM96.1 345.9h1.1v1.1h-1.1zM125.8 357.9h1.1v1.1h-1.1zM122.6 343.1h1.1v1.1h-1.1zM125.9 349.7h1.1v1.1h-1.1zM104.5 359.0h1.1v1.1h-1.1zM126.3 349.6h1.1v1.1h-1.1zM108.7 354.2h1.1v1.1h-1.1zM113.1 345.3h1.1v1.1h-1.1zM126.0 348.7h1.1v1.1h-1.1zM95.7 353.2h1.1v1.1h-1.1zM110.1 356.2h1.1v1.1h-1.1zM107.4 347.9h1.1v1.1h-1.1zM121.7 353.4h1.1v1.1h-1.1zM94.8 354.0h1.1v1.1h-1.1zM117.0 343.1h1.1v1.1h-1.1zM102.0 360.2h1.1v1.1h-1.1zM120.8 332.6h1.1v1.1h-1.1zM116.0 336.5h1.1v1.1h-1.1zM107.9 357.0h1.1v1.1h-1.1zM113.2 350.9h1.1v1.1h-1.1zM129.1 354.0h1.1v1.1h-1.1zM104.0 348.5h1.1v1.1h-1.1zM110.7 335.6h1.1v1.1h-1.1zM95.0 346.4h1.1v1.1h-1.1zM120.4 337.3h1.1v1.1h-1.1zM100.3 358.2h1.1v1.1h-1.1zM122.5 355.1h1.1v1.1h-1.1zM112.0 334.8h1.1v1.1h-1.1zM122.9 350.4h1.1v1.1h-1.1zM101.4 356.5h1.1v1.1h-1.1zM90.0 348.9h1.1v1.1h-1.1zM82.3 351.4h1.1v1.1h-1.1zM102.5 353.8h1.1v1.1h-1.1zM126.6 342.1h1.1v1.1h-1.1zM110.1 358.3h1.1v1.1h-1.1zM103.5 358.1h1.1v1.1h-1.1zM110.4 338.0h1.1v1.1h-1.1zM102.0 355.8h1.1v1.1h-1.1zM89.3 351.1h1.1v1.1h-1.1zM125.3 352.4h1.1v1.1h-1.1zM118.1 338.4h1.1v1.1h-1.1zM106.4 359.8h1.1v1.1h-1.1zM120.8 339.5h1.1v1.1h-1.1zM99.8 352.9h1.1v1.1h-1.1zM115.2 335.4h1.1v1.1h-1.1zM121.9 358.5h1.1v1.1h-1.1zM116.4 337.1h1.1v1.1h-1.1zM95.1 347.7h1.1v1.1h-1.1zM88.6 348.6h1.1v1.1h-1.1zM121.0 355.2h1.1v1.1h-1.1zM99.4 344.3h1.1v1.1h-1.1zM120.6 357.6h1.1v1.1h-1.1zM101.8 354.8h1.1v1.1h-1.1zM127.0 349.8h1.1v1.1h-1.1zM102.0 348.7h1.1v1.1h-1.1zM114.6 358.6h1.1v1.1h-1.1zM127.7 348.7h1.1v1.1h-1.1zM93.9 357.5h1.1v1.1h-1.1zM96.0 348.7h1.1v1.1h-1.1zM104.2 352.3h1.1v1.1h-1.1zM118.6 346.7h1.1v1.1h-1.1zM105.0 360.1h1.1v1.1h-1.1zM102.9 358.5h1.1v1.1h-1.1zM97.1 350.4h1.1v1.1h-1.1zM80.9 352.3h1.1v1.1h-1.1zM98.2 352.3h1.1v1.1h-1.1zM83.7 350.0h1.1v1.1h-1.1zM119.6 345.0h1.1v1.1h-1.1zM108.8 353.3h1.1v1.1h-1.1zM92.8 351.1h1.1v1.1h-1.1zM120.6 348.5h1.1v1.1h-1.1zM124.9 353.2h1.1v1.1h-1.1zM97.4 358.8h1.1v1.1h-1.1zM94.3 347.3h1.1v1.1h-1.1zM115.5 335.0h1.1v1.1h-1.1zM113.5 355.1h1.1v1.1h-1.1zM90.9 354.2h1.1v1.1h-1.1zM131.3 350.4h1.1v1.1h-1.1zM108.3 350.0h1.1v1.1h-1.1zM116.8 336.4h1.1v1.1h-1.1zM102.3 356.7h1.1v1.1h-1.1zM99.7 348.5h1.1v1.1h-1.1zM120.9 346.9h1.1v1.1h-1.1zM104.0 362.2h1.1v1.1h-1.1zM102.1 360.1h1.1v1.1h-1.1zM106.3 349.8h1.1v1.1h-1.1zM108.2 338.2h1.1v1.1h-1.1zM119.8 335.6h1.1v1.1h-1.1zM115.7 339.4h1.1v1.1h-1.1zM116.0 348.3h1.1v1.1h-1.1zM97.8 354.7h1.1v1.1h-1.1zM98.1 355.1h1.1v1.1h-1.1zM106.9 359.9h1.1v1.1h-1.1zM113.6 340.3h1.1v1.1h-1.1zM80.5 353.2h1.1v1.1h-1.1zM125.8 350.2h1.1v1.1h-1.1zM104.6 345.5h1.1v1.1h-1.1zM121.1 342.5h1.1v1.1h-1.1zM100.9 358.0h1.1v1.1h-1.1zM107.5 357.5h1.1v1.1h-1.1zM129.3 345.9h1.1v1.1h-1.1zM108.0 355.5h1.1v1.1h-1.1zM119.2 337.9h1.1v1.1h-1.1zM105.3 349.4h1.1v1.1h-1.1zM121.5 340.3h1.1v1.1h-1.1zM109.9 357.0h1.1v1.1h-1.1zM102.2 343.9h1.1v1.1h-1.1zM127.2 354.7h1.1v1.1h-1.1zM114.6 335.9h1.1v1.1h-1.1zM87.2 350.5h1.1v1.1h-1.1zM122.1 340.6h1.1v1.1h-1.1zM104.4 357.5h1.1v1.1h-1.1zM104.4 359.8h1.1v1.1h-1.1zM107.7 358.1h1.1v1.1h-1.1zM124.9 340.2h1.1v1.1h-1.1zM132.6 347.1h1.1v1.1h-1.1zM127.1 345.7h1.1v1.1h-1.1zM112.8 349.3h1.1v1.1h-1.1zM92.1 357.4h1.1v1.1h-1.1zM111.3 338.0h1.1v1.1h-1.1zM107.6 340.7h1.1v1.1h-1.1zM121.8 345.0h1.1v1.1h-1.1zM124.8 344.7h1.1v1.1h-1.1zM90.7 352.2h1.1v1.1h-1.1zM88.9 352.7h1.1v1.1h-1.1zM125.7 351.2h1.1v1.1h-1.1zM81.0 352.5h1.1v1.1h-1.1zM112.1 349.5h1.1v1.1h-1.1zM93.8 356.4h1.1v1.1h-1.1zM103.3 360.8h1.1v1.1h-1.1zM101.7 360.3h1.1v1.1h-1.1zM106.9 358.6h1.1v1.1h-1.1zM98.5 353.8h1.1v1.1h-1.1zM110.0 351.3h1.1v1.1h-1.1zM121.8 339.1h1.1v1.1h-1.1zM124.9 339.6h1.1v1.1h-1.1zM110.1 339.6h1.1v1.1h-1.1zM107.3 360.3h1.1v1.1h-1.1zM112.1 351.4h1.1v1.1h-1.1zM119.0 334.5h1.1v1.1h-1.1zM122.2 345.0h1.1v1.1h-1.1zM106.4 350.4h1.1v1.1h-1.1zM126.1 355.2h1.1v1.1h-1.1zM85.0 352.1h1.1v1.1h-1.1zM120.1 352.1h1.1v1.1h-1.1zM115.6 342.6h1.1v1.1h-1.1zM98.4 345.5h1.1v1.1h-1.1zM104.9 356.1h1.1v1.1h-1.1zM127.1 354.2h1.1v1.1h-1.1zM123.5 342.7h1.1v1.1h-1.1zM133.0 353.3h1.1v1.1h-1.1zM125.2 348.0h1.1v1.1h-1.1zM86.4 352.4h1.1v1.1h-1.1zM110.5 359.8h1.1v1.1h-1.1zM114.6 359.0h1.1v1.1h-1.1zM119.2 329.7h1.1v1.1h-1.1zM101.3 349.1h1.1v1.1h-1.1zM116.6 337.4h1.1v1.1h-1.1zM110.9 337.0h1.1v1.1h-1.1zM90.4 350.3h1.1v1.1h-1.1zM112.1 356.8h1.1v1.1h-1.1zM122.9 338.6h1.1v1.1h-1.1zM120.0 346.3h1.1v1.1h-1.1zM92.3 349.6h1.1v1.1h-1.1zM89.3 348.9h1.1v1.1h-1.1zM125.7 341.0h1.1v1.1h-1.1zM124.9 351.7h1.1v1.1h-1.1zM93.2 346.9h1.1v1.1h-1.1zM119.6 331.0h1.1v1.1h-1.1zM93.2 347.8h1.1v1.1h-1.1zM96.8 355.0h1.1v1.1h-1.1zM124.6 354.8h1.1v1.1h-1.1zM105.7 356.6h1.1v1.1h-1.1zM120.9 347.5h1.1v1.1h-1.1zM128.7 351.4h1.1v1.1h-1.1zM98.5 350.5h1.1v1.1h-1.1zM103.7 352.7h1.1v1.1h-1.1zM112.5 333.3h1.1v1.1h-1.1zM107.3 340.5h1.1v1.1h-1.1zM112.0 360.0h1.1v1.1h-1.1zM99.4 350.2h1.1v1.1h-1.1zM115.2 333.5h1.1v1.1h-1.1zM126.6 352.4h1.1v1.1h-1.1zM120.9 338.5h1.1v1.1h-1.1zM125.5 344.5h1.1v1.1h-1.1zM102.2 356.1h1.1v1.1h-1.1zM111.3 337.8h1.1v1.1h-1.1zM132.7 353.3h1.1v1.1h-1.1zM98.5 360.9h1.1v1.1h-1.1zM86.1 350.2h1.1v1.1h-1.1zM114.4 331.7h1.1v1.1h-1.1zM110.4 361.1h1.1v1.1h-1.1zM100.2 347.7h1.1v1.1h-1.1zM92.2 352.8h1.1v1.1h-1.1zM90.6 349.3h1.1v1.1h-1.1zM105.2 358.3h1.1v1.1h-1.1z"/>
<polygon points="64.9,384.9 67.9,385.4 70.3,387.2 70.8,389.5 68.9,390.8 66.8,390.7 65.5,389.1 65.1,386.8" fill="#FBEEEA"/>
<path fill="#F2AE9C" d="M67.4 389.1h1.1v1.1h-1.1zM68.9 386.3h1.1v1.1h-1.1zM66.6 385.2h1.1v1.1h-1.1zM66.3 388.5h1.1v1.1h-1.1zM67.6 386.3h1.1v1.1h-1.1zM64.1 384.4h1.1v1.1h-1.1zM68.2 389.2h1.1v1.1h-1.1z"/>
<path fill="#FBE3DC" d="M67.0 386.4h1.1v1.1h-1.1zM66.5 385.8h1.1v1.1h-1.1zM69.0 387.2h1.1v1.1h-1.1zM65.1 386.6h1.1v1.1h-1.1zM65.9 389.1h1.1v1.1h-1.1zM66.0 384.5h1.1v1.1h-1.1zM68.3 386.5h1.1v1.1h-1.1zM69.6 386.8h1.1v1.1h-1.1zM66.3 389.5h1.1v1.1h-1.1zM66.3 386.6h1.1v1.1h-1.1zM66.3 388.5h1.1v1.1h-1.1z"/>
<polygon points="167.1,368.4 167.6,370.7 169.0,373.2 170.9,375.8 173.7,377.9 177.6,379.3 177.7,379.3 181.6,381.0 185.4,382.4 191.1,381.5 196.0,379.3 199.8,376.3 202.7,372.3 205.2,367.9 207.1,363.5 207.5,360.6 205.1,359.5 200.2,358.2 195.3,357.3 190.5,358.0 190.4,358.0 190.3,358.0 184.3,357.8 179.4,358.0 174.7,359.5 171.4,362.0 168.5,365.1" fill="#FDF6F4"/>
<path fill="#E2735C" d="M200.5 371.5h1.1v1.1h-1.1zM199.0 367.7h1.1v1.1h-1.1zM194.9 362.8h1.1v1.1h-1.1zM187.5 361.0h1.1v1.1h-1.1zM188.4 359.8h1.1v1.1h-1.1zM175.6 374.6h1.1v1.1h-1.1z"/>
<path fill="#F2AE9C" d="M199.8 363.8h1.1v1.1h-1.1zM172.4 366.0h1.1v1.1h-1.1zM198.4 365.5h1.1v1.1h-1.1zM197.0 368.6h1.1v1.1h-1.1zM204.6 363.9h1.1v1.1h-1.1zM201.7 365.0h1.1v1.1h-1.1zM180.1 378.7h1.1v1.1h-1.1zM176.9 370.0h1.1v1.1h-1.1zM203.6 358.5h1.1v1.1h-1.1zM186.7 363.3h1.1v1.1h-1.1zM186.6 363.8h1.1v1.1h-1.1zM195.5 360.6h1.1v1.1h-1.1zM183.6 370.9h1.1v1.1h-1.1zM184.5 366.0h1.1v1.1h-1.1zM175.2 363.7h1.1v1.1h-1.1zM169.2 373.0h1.1v1.1h-1.1zM188.0 358.5h1.1v1.1h-1.1zM177.0 362.2h1.1v1.1h-1.1zM169.0 370.4h1.1v1.1h-1.1zM188.6 372.0h1.1v1.1h-1.1zM166.7 366.3h1.1v1.1h-1.1zM172.2 375.6h1.1v1.1h-1.1zM185.7 380.4h1.1v1.1h-1.1zM176.5 376.0h1.1v1.1h-1.1zM179.6 369.8h1.1v1.1h-1.1zM185.5 372.5h1.1v1.1h-1.1zM195.0 361.4h1.1v1.1h-1.1zM207.6 359.6h1.1v1.1h-1.1zM205.9 360.8h1.1v1.1h-1.1zM199.3 360.0h1.1v1.1h-1.1zM188.4 367.9h1.1v1.1h-1.1zM188.6 368.6h1.1v1.1h-1.1zM198.1 373.0h1.1v1.1h-1.1zM166.4 368.8h1.1v1.1h-1.1zM199.4 362.2h1.1v1.1h-1.1zM185.6 379.3h1.1v1.1h-1.1zM183.8 373.0h1.1v1.1h-1.1zM201.6 359.7h1.1v1.1h-1.1zM176.2 359.1h1.1v1.1h-1.1zM178.3 376.7h1.1v1.1h-1.1zM193.2 358.4h1.1v1.1h-1.1zM177.5 373.0h1.1v1.1h-1.1zM177.4 363.7h1.1v1.1h-1.1zM192.1 367.4h1.1v1.1h-1.1zM167.9 366.9h1.1v1.1h-1.1zM178.0 359.4h1.1v1.1h-1.1zM182.2 368.4h1.1v1.1h-1.1zM200.1 361.9h1.1v1.1h-1.1zM189.5 366.3h1.1v1.1h-1.1zM190.0 369.1h1.1v1.1h-1.1zM199.4 362.9h1.1v1.1h-1.1zM180.8 372.7h1.1v1.1h-1.1zM199.9 376.6h1.1v1.1h-1.1zM204.0 359.0h1.1v1.1h-1.1zM171.2 361.0h1.1v1.1h-1.1zM176.7 356.9h1.1v1.1h-1.1zM172.7 372.8h1.1v1.1h-1.1zM180.9 371.4h1.1v1.1h-1.1zM192.0 364.0h1.1v1.1h-1.1zM180.9 359.8h1.1v1.1h-1.1zM178.3 363.8h1.1v1.1h-1.1zM190.4 360.3h1.1v1.1h-1.1zM193.8 366.7h1.1v1.1h-1.1zM175.5 371.4h1.1v1.1h-1.1zM168.0 366.1h1.1v1.1h-1.1zM183.1 372.4h1.1v1.1h-1.1zM195.4 367.2h1.1v1.1h-1.1zM202.3 363.0h1.1v1.1h-1.1zM171.8 366.2h1.1v1.1h-1.1zM203.6 359.7h1.1v1.1h-1.1zM176.3 363.3h1.1v1.1h-1.1zM174.9 377.2h1.1v1.1h-1.1zM195.6 356.1h1.1v1.1h-1.1zM195.9 360.5h1.1v1.1h-1.1zM190.1 357.7h1.1v1.1h-1.1zM192.7 359.7h1.1v1.1h-1.1zM172.4 374.8h1.1v1.1h-1.1zM168.9 370.9h1.1v1.1h-1.1zM180.1 364.3h1.1v1.1h-1.1zM194.3 373.4h1.1v1.1h-1.1zM172.3 368.8h1.1v1.1h-1.1zM173.9 370.0h1.1v1.1h-1.1zM201.5 368.6h1.1v1.1h-1.1zM170.7 367.1h1.1v1.1h-1.1zM181.0 359.4h1.1v1.1h-1.1zM202.4 370.5h1.1v1.1h-1.1zM189.9 363.9h1.1v1.1h-1.1z"/>
<path fill="#FBE3DC" d="M202.9 367.4h1.1v1.1h-1.1zM188.6 361.5h1.1v1.1h-1.1zM189.3 362.8h1.1v1.1h-1.1zM200.1 375.0h1.1v1.1h-1.1zM176.8 371.7h1.1v1.1h-1.1zM194.6 375.6h1.1v1.1h-1.1zM194.1 360.6h1.1v1.1h-1.1zM179.0 374.7h1.1v1.1h-1.1zM179.4 372.1h1.1v1.1h-1.1zM174.7 370.7h1.1v1.1h-1.1zM192.0 377.0h1.1v1.1h-1.1zM177.6 357.3h1.1v1.1h-1.1zM188.5 380.5h1.1v1.1h-1.1zM189.8 363.9h1.1v1.1h-1.1zM202.3 362.7h1.1v1.1h-1.1zM180.5 372.9h1.1v1.1h-1.1zM200.8 371.1h1.1v1.1h-1.1zM191.5 363.1h1.1v1.1h-1.1zM180.5 371.4h1.1v1.1h-1.1zM176.5 362.3h1.1v1.1h-1.1zM186.6 381.9h1.1v1.1h-1.1zM192.6 377.1h1.1v1.1h-1.1zM179.3 367.6h1.1v1.1h-1.1zM184.9 358.0h1.1v1.1h-1.1zM168.9 363.1h1.1v1.1h-1.1zM191.1 357.7h1.1v1.1h-1.1zM197.5 362.3h1.1v1.1h-1.1zM170.6 362.3h1.1v1.1h-1.1zM187.7 361.0h1.1v1.1h-1.1zM197.4 371.0h1.1v1.1h-1.1zM187.3 365.5h1.1v1.1h-1.1zM175.5 367.5h1.1v1.1h-1.1zM202.5 369.5h1.1v1.1h-1.1zM189.6 372.6h1.1v1.1h-1.1zM184.6 372.9h1.1v1.1h-1.1zM180.6 365.3h1.1v1.1h-1.1zM203.2 361.4h1.1v1.1h-1.1zM200.3 368.6h1.1v1.1h-1.1zM188.2 368.3h1.1v1.1h-1.1zM190.0 357.0h1.1v1.1h-1.1zM166.4 367.8h1.1v1.1h-1.1zM170.0 363.8h1.1v1.1h-1.1zM177.7 361.7h1.1v1.1h-1.1zM197.2 359.0h1.1v1.1h-1.1zM197.4 373.3h1.1v1.1h-1.1zM196.7 374.6h1.1v1.1h-1.1zM181.3 368.5h1.1v1.1h-1.1zM201.7 364.8h1.1v1.1h-1.1zM179.4 368.6h1.1v1.1h-1.1zM195.2 359.4h1.1v1.1h-1.1zM201.4 357.2h1.1v1.1h-1.1zM205.8 360.8h1.1v1.1h-1.1zM184.0 381.8h1.1v1.1h-1.1zM197.2 358.8h1.1v1.1h-1.1zM203.8 366.2h1.1v1.1h-1.1zM193.2 362.3h1.1v1.1h-1.1zM180.2 369.2h1.1v1.1h-1.1zM184.2 368.0h1.1v1.1h-1.1zM171.6 373.9h1.1v1.1h-1.1zM200.8 370.5h1.1v1.1h-1.1zM195.4 363.1h1.1v1.1h-1.1zM167.5 372.2h1.1v1.1h-1.1zM175.4 371.3h1.1v1.1h-1.1zM199.1 360.9h1.1v1.1h-1.1zM193.9 373.7h1.1v1.1h-1.1zM179.3 378.3h1.1v1.1h-1.1zM196.8 373.6h1.1v1.1h-1.1zM179.9 372.9h1.1v1.1h-1.1zM186.6 375.9h1.1v1.1h-1.1zM168.5 373.0h1.1v1.1h-1.1zM180.1 376.3h1.1v1.1h-1.1zM183.2 378.7h1.1v1.1h-1.1zM188.3 364.8h1.1v1.1h-1.1zM186.5 368.7h1.1v1.1h-1.1zM202.7 361.4h1.1v1.1h-1.1zM172.6 366.3h1.1v1.1h-1.1zM196.9 369.8h1.1v1.1h-1.1zM199.6 376.5h1.1v1.1h-1.1zM197.3 378.8h1.1v1.1h-1.1zM182.1 357.6h1.1v1.1h-1.1zM172.2 371.5h1.1v1.1h-1.1zM181.4 375.0h1.1v1.1h-1.1zM167.2 370.1h1.1v1.1h-1.1zM178.5 377.5h1.1v1.1h-1.1zM176.7 369.5h1.1v1.1h-1.1zM179.9 365.2h1.1v1.1h-1.1zM184.2 374.8h1.1v1.1h-1.1zM202.2 358.5h1.1v1.1h-1.1zM203.0 363.7h1.1v1.1h-1.1zM193.0 373.4h1.1v1.1h-1.1zM169.9 369.1h1.1v1.1h-1.1zM176.4 361.7h1.1v1.1h-1.1zM197.5 374.3h1.1v1.1h-1.1zM170.9 363.2h1.1v1.1h-1.1zM188.9 362.5h1.1v1.1h-1.1zM185.3 371.0h1.1v1.1h-1.1zM176.2 373.1h1.1v1.1h-1.1zM191.1 364.8h1.1v1.1h-1.1zM189.9 362.0h1.1v1.1h-1.1zM188.9 380.3h1.1v1.1h-1.1zM185.8 377.5h1.1v1.1h-1.1zM201.6 359.1h1.1v1.1h-1.1zM175.7 378.7h1.1v1.1h-1.1zM178.3 374.7h1.1v1.1h-1.1zM206.1 361.7h1.1v1.1h-1.1zM168.8 363.0h1.1v1.1h-1.1zM202.4 362.2h1.1v1.1h-1.1zM188.8 373.8h1.1v1.1h-1.1zM186.4 358.7h1.1v1.1h-1.1zM195.6 360.9h1.1v1.1h-1.1zM188.1 370.7h1.1v1.1h-1.1zM201.4 361.7h1.1v1.1h-1.1zM203.5 368.1h1.1v1.1h-1.1zM185.3 373.9h1.1v1.1h-1.1zM169.3 373.5h1.1v1.1h-1.1zM192.7 365.3h1.1v1.1h-1.1zM190.8 372.6h1.1v1.1h-1.1zM182.3 366.2h1.1v1.1h-1.1zM184.3 378.3h1.1v1.1h-1.1zM201.0 367.1h1.1v1.1h-1.1zM171.4 367.0h1.1v1.1h-1.1zM182.0 361.8h1.1v1.1h-1.1zM196.2 376.2h1.1v1.1h-1.1zM192.4 374.3h1.1v1.1h-1.1zM167.4 367.0h1.1v1.1h-1.1zM194.9 371.4h1.1v1.1h-1.1zM183.8 369.9h1.1v1.1h-1.1zM192.6 375.1h1.1v1.1h-1.1zM196.0 374.6h1.1v1.1h-1.1zM177.9 362.6h1.1v1.1h-1.1zM185.8 374.5h1.1v1.1h-1.1zM192.1 368.4h1.1v1.1h-1.1zM182.4 379.2h1.1v1.1h-1.1zM170.1 376.5h1.1v1.1h-1.1zM179.4 371.0h1.1v1.1h-1.1zM184.7 362.2h1.1v1.1h-1.1zM173.3 362.8h1.1v1.1h-1.1zM181.5 361.2h1.1v1.1h-1.1zM186.4 360.6h1.1v1.1h-1.1zM201.3 361.1h1.1v1.1h-1.1zM180.1 360.4h1.1v1.1h-1.1zM194.4 359.7h1.1v1.1h-1.1zM170.0 376.1h1.1v1.1h-1.1zM175.6 372.9h1.1v1.1h-1.1zM187.3 365.6h1.1v1.1h-1.1zM198.5 361.0h1.1v1.1h-1.1zM182.3 371.3h1.1v1.1h-1.1zM176.7 376.8h1.1v1.1h-1.1zM200.9 359.3h1.1v1.1h-1.1zM206.1 359.8h1.1v1.1h-1.1zM185.2 363.9h1.1v1.1h-1.1zM187.0 360.4h1.1v1.1h-1.1zM180.7 369.7h1.1v1.1h-1.1zM197.1 371.0h1.1v1.1h-1.1zM195.1 366.3h1.1v1.1h-1.1zM184.8 373.4h1.1v1.1h-1.1zM173.4 363.1h1.1v1.1h-1.1zM178.1 365.1h1.1v1.1h-1.1zM186.0 357.8h1.1v1.1h-1.1zM195.7 368.9h1.1v1.1h-1.1zM195.5 374.2h1.1v1.1h-1.1zM186.4 367.9h1.1v1.1h-1.1zM186.6 380.5h1.1v1.1h-1.1zM185.8 365.2h1.1v1.1h-1.1zM197.2 375.7h1.1v1.1h-1.1zM171.9 369.5h1.1v1.1h-1.1zM171.8 366.5h1.1v1.1h-1.1zM183.8 364.3h1.1v1.1h-1.1zM172.2 369.9h1.1v1.1h-1.1zM192.6 364.6h1.1v1.1h-1.1zM171.3 374.6h1.1v1.1h-1.1zM193.8 362.5h1.1v1.1h-1.1zM183.3 374.3h1.1v1.1h-1.1zM185.8 361.0h1.1v1.1h-1.1zM169.7 376.1h1.1v1.1h-1.1zM194.9 362.2h1.1v1.1h-1.1zM186.1 366.2h1.1v1.1h-1.1zM183.8 372.3h1.1v1.1h-1.1zM168.4 368.0h1.1v1.1h-1.1zM196.8 366.1h1.1v1.1h-1.1zM188.1 374.8h1.1v1.1h-1.1zM180.0 369.2h1.1v1.1h-1.1zM185.6 365.3h1.1v1.1h-1.1zM202.7 359.5h1.1v1.1h-1.1zM178.7 370.1h1.1v1.1h-1.1zM197.2 378.0h1.1v1.1h-1.1zM184.9 372.5h1.1v1.1h-1.1zM202.1 370.6h1.1v1.1h-1.1zM178.1 366.3h1.1v1.1h-1.1zM182.2 376.6h1.1v1.1h-1.1zM170.9 370.0h1.1v1.1h-1.1zM196.2 359.6h1.1v1.1h-1.1zM183.0 375.0h1.1v1.1h-1.1zM192.9 379.1h1.1v1.1h-1.1zM204.0 364.1h1.1v1.1h-1.1zM193.8 361.5h1.1v1.1h-1.1zM176.3 378.3h1.1v1.1h-1.1zM178.2 374.8h1.1v1.1h-1.1zM200.9 367.4h1.1v1.1h-1.1zM171.3 374.0h1.1v1.1h-1.1zM184.1 381.2h1.1v1.1h-1.1zM180.2 364.4h1.1v1.1h-1.1zM191.9 357.0h1.1v1.1h-1.1zM188.1 357.6h1.1v1.1h-1.1zM184.7 369.9h1.1v1.1h-1.1zM185.2 375.1h1.1v1.1h-1.1zM177.3 358.2h1.1v1.1h-1.1zM190.1 375.5h1.1v1.1h-1.1zM180.0 380.8h1.1v1.1h-1.1zM190.1 361.6h1.1v1.1h-1.1zM187.6 381.0h1.1v1.1h-1.1zM184.4 379.6h1.1v1.1h-1.1zM173.7 364.3h1.1v1.1h-1.1zM182.7 375.4h1.1v1.1h-1.1zM176.0 363.6h1.1v1.1h-1.1zM200.9 373.2h1.1v1.1h-1.1zM165.9 367.4h1.1v1.1h-1.1zM201.7 367.3h1.1v1.1h-1.1zM199.3 373.7h1.1v1.1h-1.1zM181.9 368.2h1.1v1.1h-1.1zM180.5 366.0h1.1v1.1h-1.1zM177.7 372.7h1.1v1.1h-1.1zM194.4 358.3h1.1v1.1h-1.1zM201.3 365.4h1.1v1.1h-1.1zM185.1 368.8h1.1v1.1h-1.1zM196.5 375.5h1.1v1.1h-1.1zM174.4 372.0h1.1v1.1h-1.1zM198.4 371.5h1.1v1.1h-1.1zM193.0 358.0h1.1v1.1h-1.1zM195.5 359.6h1.1v1.1h-1.1zM195.3 363.9h1.1v1.1h-1.1zM185.1 374.5h1.1v1.1h-1.1zM199.6 356.5h1.1v1.1h-1.1zM190.6 376.4h1.1v1.1h-1.1zM165.8 366.3h1.1v1.1h-1.1zM176.3 370.6h1.1v1.1h-1.1zM180.7 357.8h1.1v1.1h-1.1z"/>
<polygon points="179.9,384.9 182.9,385.4 185.3,387.2 185.8,389.5 183.9,390.8 181.8,390.7 180.5,389.1 180.1,386.8" fill="#FBEEEA"/>
<path fill="#F2AE9C" d="M179.6 387.9h1.1v1.1h-1.1zM184.8 387.3h1.1v1.1h-1.1zM184.2 387.5h1.1v1.1h-1.1zM183.5 388.3h1.1v1.1h-1.1zM182.8 386.5h1.1v1.1h-1.1zM181.4 388.7h1.1v1.1h-1.1z"/>
<path fill="#FBE3DC" d="M184.3 388.4h1.1v1.1h-1.1zM183.6 386.8h1.1v1.1h-1.1zM182.6 387.1h1.1v1.1h-1.1zM182.6 386.2h1.1v1.1h-1.1zM181.5 387.3h1.1v1.1h-1.1zM183.1 386.3h1.1v1.1h-1.1zM184.9 389.7h1.1v1.1h-1.1zM181.4 386.7h1.1v1.1h-1.1z"/>
<polygon points="198.9,352.3 199.7,352.3 199.9,352.3 200.0,352.4 203.3,352.9 203.5,353.0 203.6,353.0 203.7,353.1 203.8,353.1 207.2,355.3 207.3,355.3 207.4,355.4 210.0,357.8 212.5,359.4 215.6,361.2 219.3,362.0 223.1,362.2 228.0,361.3 228.0,361.3 233.0,360.4 237.9,359.1 242.9,357.3 246.1,355.7 247.7,353.5 248.1,350.5 247.2,347.2 245.9,344.9 243.9,343.4 241.1,342.6 241.0,342.6 240.8,342.5 240.7,342.5 240.6,342.4 238.1,340.5 238.0,340.5 237.9,340.4 237.8,340.3 237.8,340.2 237.7,340.1 237.6,339.9 237.6,339.8 237.6,339.7 237.0,336.9 237.0,336.8 237.0,336.6 237.0,333.7 235.6,332.5 232.9,331.7 230.5,332.4 228.8,333.9 226.9,336.9 226.8,337.0 226.8,337.1 224.2,339.9 224.2,339.9 221.6,342.8 221.5,342.9 221.4,343.0 221.3,343.0 219.2,344.4 219.1,344.4 218.9,344.5 215.6,345.7 212.4,346.9 209.0,348.6 208.9,348.7 205.5,349.9 205.4,350.0 202.2,350.8 199.0,352.3" fill="#F4CFC4"/>
<path fill="#B82A22" d="M236.1 350.9h1.1v1.1h-1.1zM230.4 356.1h1.1v1.1h-1.1zM230.1 353.1h1.1v1.1h-1.1zM245.8 353.5h1.1v1.1h-1.1zM245.8 352.2h1.1v1.1h-1.1zM221.1 349.8h1.1v1.1h-1.1zM244.4 347.6h1.1v1.1h-1.1zM235.6 352.2h1.1v1.1h-1.1zM237.1 351.1h1.1v1.1h-1.1zM242.5 355.6h1.1v1.1h-1.1zM239.9 351.4h1.1v1.1h-1.1zM238.9 352.5h1.1v1.1h-1.1zM222.6 350.7h1.1v1.1h-1.1zM238.7 342.5h1.1v1.1h-1.1zM239.7 354.5h1.1v1.1h-1.1zM235.6 341.9h1.1v1.1h-1.1zM237.9 338.6h1.1v1.1h-1.1zM220.2 350.6h1.1v1.1h-1.1zM234.7 359.5h1.1v1.1h-1.1zM224.0 346.2h1.1v1.1h-1.1zM244.0 346.1h1.1v1.1h-1.1zM219.9 344.2h1.1v1.1h-1.1zM225.3 355.1h1.1v1.1h-1.1zM237.5 341.9h1.1v1.1h-1.1zM239.6 355.6h1.1v1.1h-1.1zM237.5 351.7h1.1v1.1h-1.1zM245.0 353.1h1.1v1.1h-1.1zM237.7 352.0h1.1v1.1h-1.1zM234.3 359.3h1.1v1.1h-1.1zM247.6 353.7h1.1v1.1h-1.1zM235.3 355.1h1.1v1.1h-1.1zM224.2 351.9h1.1v1.1h-1.1zM229.2 356.7h1.1v1.1h-1.1zM230.0 353.5h1.1v1.1h-1.1zM230.5 343.0h1.1v1.1h-1.1zM238.3 342.9h1.1v1.1h-1.1zM240.6 350.2h1.1v1.1h-1.1zM227.3 344.1h1.1v1.1h-1.1zM244.3 346.5h1.1v1.1h-1.1zM235.1 345.1h1.1v1.1h-1.1zM230.0 359.0h1.1v1.1h-1.1zM245.3 350.0h1.1v1.1h-1.1zM228.2 342.4h1.1v1.1h-1.1zM228.5 346.7h1.1v1.1h-1.1zM242.6 344.3h1.1v1.1h-1.1zM234.1 350.0h1.1v1.1h-1.1zM229.6 338.0h1.1v1.1h-1.1zM224.0 352.9h1.1v1.1h-1.1zM231.9 359.9h1.1v1.1h-1.1zM225.9 356.8h1.1v1.1h-1.1zM237.6 344.1h1.1v1.1h-1.1zM238.6 347.1h1.1v1.1h-1.1zM226.4 347.3h1.1v1.1h-1.1zM242.7 346.6h1.1v1.1h-1.1zM226.3 353.8h1.1v1.1h-1.1zM230.1 349.8h1.1v1.1h-1.1zM230.9 353.6h1.1v1.1h-1.1zM226.3 343.1h1.1v1.1h-1.1zM244.7 345.0h1.1v1.1h-1.1zM244.6 351.0h1.1v1.1h-1.1zM227.0 356.7h1.1v1.1h-1.1zM232.0 348.3h1.1v1.1h-1.1zM220.5 342.1h1.1v1.1h-1.1zM230.9 346.1h1.1v1.1h-1.1zM243.7 348.1h1.1v1.1h-1.1zM239.0 345.3h1.1v1.1h-1.1zM238.3 343.3h1.1v1.1h-1.1zM242.7 355.2h1.1v1.1h-1.1zM233.7 356.7h1.1v1.1h-1.1zM240.4 345.9h1.1v1.1h-1.1zM236.9 340.4h1.1v1.1h-1.1zM221.0 348.2h1.1v1.1h-1.1zM227.3 345.3h1.1v1.1h-1.1zM228.5 344.9h1.1v1.1h-1.1zM226.5 351.3h1.1v1.1h-1.1zM222.0 358.3h1.1v1.1h-1.1zM223.8 347.3h1.1v1.1h-1.1zM232.2 346.8h1.1v1.1h-1.1zM246.4 351.2h1.1v1.1h-1.1zM231.1 347.5h1.1v1.1h-1.1zM232.7 361.0h1.1v1.1h-1.1zM232.9 354.7h1.1v1.1h-1.1zM233.6 352.3h1.1v1.1h-1.1zM232.5 348.0h1.1v1.1h-1.1zM231.6 349.7h1.1v1.1h-1.1zM228.0 352.3h1.1v1.1h-1.1zM245.1 349.0h1.1v1.1h-1.1zM227.4 353.3h1.1v1.1h-1.1zM231.7 337.3h1.1v1.1h-1.1zM238.3 353.5h1.1v1.1h-1.1zM224.1 348.7h1.1v1.1h-1.1zM228.1 348.3h1.1v1.1h-1.1zM224.6 346.5h1.1v1.1h-1.1zM227.5 346.0h1.1v1.1h-1.1zM232.1 343.6h1.1v1.1h-1.1zM244.3 348.9h1.1v1.1h-1.1zM246.0 354.3h1.1v1.1h-1.1zM232.0 349.5h1.1v1.1h-1.1zM238.2 339.4h1.1v1.1h-1.1zM236.0 345.7h1.1v1.1h-1.1zM237.9 357.9h1.1v1.1h-1.1zM232.6 356.8h1.1v1.1h-1.1zM222.9 346.6h1.1v1.1h-1.1zM227.5 342.6h1.1v1.1h-1.1zM243.6 354.5h1.1v1.1h-1.1zM228.5 352.3h1.1v1.1h-1.1zM244.4 354.7h1.1v1.1h-1.1zM237.2 341.1h1.1v1.1h-1.1zM246.1 352.0h1.1v1.1h-1.1zM229.0 360.7h1.1v1.1h-1.1zM227.1 347.7h1.1v1.1h-1.1zM245.0 341.8h1.1v1.1h-1.1zM224.9 354.7h1.1v1.1h-1.1zM243.6 346.8h1.1v1.1h-1.1zM236.2 348.2h1.1v1.1h-1.1zM221.8 344.2h1.1v1.1h-1.1zM231.8 347.8h1.1v1.1h-1.1zM238.6 341.4h1.1v1.1h-1.1zM241.0 351.6h1.1v1.1h-1.1zM238.8 345.9h1.1v1.1h-1.1zM239.7 346.1h1.1v1.1h-1.1zM222.8 343.4h1.1v1.1h-1.1zM231.7 349.6h1.1v1.1h-1.1zM223.6 344.0h1.1v1.1h-1.1zM246.9 346.1h1.1v1.1h-1.1zM227.8 346.5h1.1v1.1h-1.1zM224.4 353.7h1.1v1.1h-1.1zM234.0 340.9h1.1v1.1h-1.1zM241.2 352.7h1.1v1.1h-1.1zM235.5 349.9h1.1v1.1h-1.1zM235.8 348.0h1.1v1.1h-1.1zM218.9 351.7h1.1v1.1h-1.1zM243.3 351.8h1.1v1.1h-1.1zM230.0 348.5h1.1v1.1h-1.1zM236.7 345.8h1.1v1.1h-1.1zM238.3 345.0h1.1v1.1h-1.1zM230.1 348.1h1.1v1.1h-1.1zM239.2 352.5h1.1v1.1h-1.1zM241.6 353.5h1.1v1.1h-1.1zM226.1 341.0h1.1v1.1h-1.1zM232.6 349.0h1.1v1.1h-1.1zM235.6 350.7h1.1v1.1h-1.1zM239.1 350.3h1.1v1.1h-1.1zM227.2 356.6h1.1v1.1h-1.1z"/>
<path fill="#CC4433" d="M232.0 340.3h1.1v1.1h-1.1zM229.4 348.6h1.1v1.1h-1.1zM234.3 337.7h1.1v1.1h-1.1zM232.1 358.1h1.1v1.1h-1.1zM235.0 349.8h1.1v1.1h-1.1zM241.9 349.0h1.1v1.1h-1.1zM237.4 350.4h1.1v1.1h-1.1zM230.7 345.1h1.1v1.1h-1.1zM235.7 346.9h1.1v1.1h-1.1zM244.0 354.6h1.1v1.1h-1.1zM235.7 343.9h1.1v1.1h-1.1zM222.4 347.4h1.1v1.1h-1.1zM233.9 344.6h1.1v1.1h-1.1zM230.3 342.0h1.1v1.1h-1.1zM223.6 356.3h1.1v1.1h-1.1zM229.8 347.5h1.1v1.1h-1.1zM218.6 344.0h1.1v1.1h-1.1zM226.7 343.0h1.1v1.1h-1.1zM227.1 340.6h1.1v1.1h-1.1zM225.1 345.3h1.1v1.1h-1.1zM237.6 344.9h1.1v1.1h-1.1zM244.8 356.0h1.1v1.1h-1.1zM234.3 348.9h1.1v1.1h-1.1zM241.5 345.7h1.1v1.1h-1.1zM245.1 345.1h1.1v1.1h-1.1zM244.5 351.0h1.1v1.1h-1.1zM235.7 345.4h1.1v1.1h-1.1zM232.3 347.8h1.1v1.1h-1.1zM227.9 335.5h1.1v1.1h-1.1zM242.1 352.7h1.1v1.1h-1.1zM226.2 346.0h1.1v1.1h-1.1zM216.3 352.7h1.1v1.1h-1.1zM237.2 341.8h1.1v1.1h-1.1zM232.6 334.6h1.1v1.1h-1.1zM210.9 357.6h1.1v1.1h-1.1zM234.0 343.0h1.1v1.1h-1.1zM233.6 346.1h1.1v1.1h-1.1zM231.8 337.3h1.1v1.1h-1.1zM230.6 342.0h1.1v1.1h-1.1zM243.2 352.7h1.1v1.1h-1.1zM221.9 346.9h1.1v1.1h-1.1zM238.2 353.5h1.1v1.1h-1.1zM240.0 349.0h1.1v1.1h-1.1zM225.9 354.3h1.1v1.1h-1.1zM243.9 343.4h1.1v1.1h-1.1zM225.9 358.2h1.1v1.1h-1.1zM243.8 352.4h1.1v1.1h-1.1zM222.9 359.1h1.1v1.1h-1.1zM242.2 343.7h1.1v1.1h-1.1zM229.0 343.2h1.1v1.1h-1.1zM235.0 345.0h1.1v1.1h-1.1zM232.4 348.5h1.1v1.1h-1.1zM217.6 359.2h1.1v1.1h-1.1zM234.4 346.5h1.1v1.1h-1.1zM224.6 344.1h1.1v1.1h-1.1zM238.6 354.5h1.1v1.1h-1.1zM243.6 343.2h1.1v1.1h-1.1zM220.3 350.8h1.1v1.1h-1.1zM233.2 359.3h1.1v1.1h-1.1zM242.8 348.5h1.1v1.1h-1.1zM229.8 352.8h1.1v1.1h-1.1zM238.9 357.2h1.1v1.1h-1.1zM232.9 354.5h1.1v1.1h-1.1zM242.4 348.2h1.1v1.1h-1.1zM244.4 355.5h1.1v1.1h-1.1zM238.7 340.4h1.1v1.1h-1.1zM223.7 343.6h1.1v1.1h-1.1zM245.9 352.7h1.1v1.1h-1.1zM235.3 356.9h1.1v1.1h-1.1zM230.2 341.5h1.1v1.1h-1.1zM231.5 348.2h1.1v1.1h-1.1zM226.5 339.7h1.1v1.1h-1.1zM228.6 335.2h1.1v1.1h-1.1zM243.0 341.9h1.1v1.1h-1.1zM233.4 349.7h1.1v1.1h-1.1zM231.0 339.9h1.1v1.1h-1.1zM245.2 348.8h1.1v1.1h-1.1zM234.4 337.4h1.1v1.1h-1.1zM239.7 351.0h1.1v1.1h-1.1zM225.8 345.3h1.1v1.1h-1.1zM225.9 342.4h1.1v1.1h-1.1zM245.5 345.6h1.1v1.1h-1.1zM222.0 343.7h1.1v1.1h-1.1zM223.7 351.1h1.1v1.1h-1.1zM225.5 352.9h1.1v1.1h-1.1zM235.1 333.6h1.1v1.1h-1.1zM222.6 347.7h1.1v1.1h-1.1zM227.5 349.0h1.1v1.1h-1.1zM228.2 340.2h1.1v1.1h-1.1zM235.4 355.2h1.1v1.1h-1.1zM228.2 344.3h1.1v1.1h-1.1zM247.3 349.1h1.1v1.1h-1.1zM232.2 357.8h1.1v1.1h-1.1zM230.5 352.6h1.1v1.1h-1.1zM239.6 351.3h1.1v1.1h-1.1zM233.7 361.1h1.1v1.1h-1.1zM230.0 350.1h1.1v1.1h-1.1zM225.7 336.6h1.1v1.1h-1.1zM240.8 353.0h1.1v1.1h-1.1zM236.0 346.3h1.1v1.1h-1.1zM238.8 355.1h1.1v1.1h-1.1zM218.2 362.3h1.1v1.1h-1.1zM232.0 335.0h1.1v1.1h-1.1zM225.9 345.5h1.1v1.1h-1.1zM236.6 346.5h1.1v1.1h-1.1zM224.3 338.9h1.1v1.1h-1.1zM224.4 356.5h1.1v1.1h-1.1zM215.1 352.4h1.1v1.1h-1.1zM229.9 347.9h1.1v1.1h-1.1zM235.5 347.3h1.1v1.1h-1.1zM221.0 354.7h1.1v1.1h-1.1zM241.6 355.1h1.1v1.1h-1.1zM237.6 349.2h1.1v1.1h-1.1zM230.2 337.7h1.1v1.1h-1.1zM219.8 355.5h1.1v1.1h-1.1zM220.4 349.1h1.1v1.1h-1.1zM226.7 338.9h1.1v1.1h-1.1zM220.7 359.2h1.1v1.1h-1.1zM218.7 351.3h1.1v1.1h-1.1zM246.6 347.0h1.1v1.1h-1.1zM241.2 358.6h1.1v1.1h-1.1zM233.0 350.3h1.1v1.1h-1.1zM225.0 351.6h1.1v1.1h-1.1zM231.9 339.8h1.1v1.1h-1.1zM221.6 358.5h1.1v1.1h-1.1zM241.6 346.5h1.1v1.1h-1.1zM232.5 352.7h1.1v1.1h-1.1zM223.5 345.0h1.1v1.1h-1.1zM244.5 351.9h1.1v1.1h-1.1zM214.4 347.9h1.1v1.1h-1.1zM244.0 345.4h1.1v1.1h-1.1zM244.6 350.2h1.1v1.1h-1.1zM238.9 356.5h1.1v1.1h-1.1zM239.3 341.6h1.1v1.1h-1.1zM231.7 347.2h1.1v1.1h-1.1zM229.4 354.1h1.1v1.1h-1.1zM235.8 346.9h1.1v1.1h-1.1zM231.2 354.1h1.1v1.1h-1.1zM236.8 344.0h1.1v1.1h-1.1zM217.3 352.9h1.1v1.1h-1.1zM220.1 356.1h1.1v1.1h-1.1zM243.4 354.3h1.1v1.1h-1.1zM215.8 361.0h1.1v1.1h-1.1zM244.5 348.7h1.1v1.1h-1.1zM220.4 348.7h1.1v1.1h-1.1zM232.4 336.0h1.1v1.1h-1.1zM239.3 357.1h1.1v1.1h-1.1zM226.1 352.5h1.1v1.1h-1.1zM233.1 335.1h1.1v1.1h-1.1zM234.0 359.6h1.1v1.1h-1.1zM225.8 350.4h1.1v1.1h-1.1zM232.0 337.0h1.1v1.1h-1.1zM221.5 350.4h1.1v1.1h-1.1zM222.4 356.9h1.1v1.1h-1.1zM240.2 348.5h1.1v1.1h-1.1zM234.6 336.9h1.1v1.1h-1.1zM230.3 351.4h1.1v1.1h-1.1zM245.6 344.3h1.1v1.1h-1.1zM221.3 357.3h1.1v1.1h-1.1zM216.6 355.1h1.1v1.1h-1.1zM248.8 351.7h1.1v1.1h-1.1zM237.0 346.6h1.1v1.1h-1.1zM240.9 344.7h1.1v1.1h-1.1zM231.2 362.6h1.1v1.1h-1.1zM214.6 358.3h1.1v1.1h-1.1zM245.1 348.1h1.1v1.1h-1.1zM244.8 355.4h1.1v1.1h-1.1zM215.1 348.9h1.1v1.1h-1.1zM223.0 350.8h1.1v1.1h-1.1zM222.0 342.7h1.1v1.1h-1.1zM221.9 340.5h1.1v1.1h-1.1zM245.1 346.9h1.1v1.1h-1.1zM240.1 343.3h1.1v1.1h-1.1zM224.7 361.0h1.1v1.1h-1.1zM234.2 338.6h1.1v1.1h-1.1zM230.8 334.2h1.1v1.1h-1.1zM240.3 345.5h1.1v1.1h-1.1zM228.8 337.7h1.1v1.1h-1.1zM230.7 347.4h1.1v1.1h-1.1zM223.6 349.1h1.1v1.1h-1.1zM226.7 356.2h1.1v1.1h-1.1zM237.7 342.0h1.1v1.1h-1.1zM245.7 350.7h1.1v1.1h-1.1zM222.4 356.7h1.1v1.1h-1.1zM227.8 355.8h1.1v1.1h-1.1zM215.3 354.6h1.1v1.1h-1.1zM247.4 350.7h1.1v1.1h-1.1zM217.2 352.4h1.1v1.1h-1.1zM238.5 352.6h1.1v1.1h-1.1zM234.5 350.1h1.1v1.1h-1.1zM242.4 351.9h1.1v1.1h-1.1zM240.9 358.4h1.1v1.1h-1.1zM232.8 340.6h1.1v1.1h-1.1zM232.1 334.7h1.1v1.1h-1.1zM232.7 342.4h1.1v1.1h-1.1zM226.9 347.8h1.1v1.1h-1.1zM232.6 342.4h1.1v1.1h-1.1zM242.9 357.6h1.1v1.1h-1.1zM228.6 339.0h1.1v1.1h-1.1zM235.2 361.0h1.1v1.1h-1.1zM236.8 339.1h1.1v1.1h-1.1zM223.1 347.7h1.1v1.1h-1.1zM229.2 352.7h1.1v1.1h-1.1zM233.3 343.0h1.1v1.1h-1.1zM229.3 356.6h1.1v1.1h-1.1zM236.1 346.9h1.1v1.1h-1.1zM220.8 340.7h1.1v1.1h-1.1zM220.7 339.2h1.1v1.1h-1.1zM227.8 349.3h1.1v1.1h-1.1zM221.9 350.2h1.1v1.1h-1.1zM246.8 346.2h1.1v1.1h-1.1zM228.6 361.8h1.1v1.1h-1.1zM226.0 351.1h1.1v1.1h-1.1zM241.1 355.1h1.1v1.1h-1.1zM244.8 345.4h1.1v1.1h-1.1zM242.2 345.5h1.1v1.1h-1.1zM242.3 341.7h1.1v1.1h-1.1zM218.4 349.1h1.1v1.1h-1.1zM223.9 350.2h1.1v1.1h-1.1zM232.7 349.3h1.1v1.1h-1.1zM225.8 338.6h1.1v1.1h-1.1zM198.1 352.6h1.1v1.1h-1.1zM231.8 342.8h1.1v1.1h-1.1zM228.9 346.1h1.1v1.1h-1.1zM240.5 342.4h1.1v1.1h-1.1zM235.5 356.2h1.1v1.1h-1.1zM239.2 342.9h1.1v1.1h-1.1zM215.8 351.6h1.1v1.1h-1.1zM248.5 352.0h1.1v1.1h-1.1zM236.0 336.3h1.1v1.1h-1.1zM230.2 358.7h1.1v1.1h-1.1zM234.4 331.6h1.1v1.1h-1.1zM223.0 353.5h1.1v1.1h-1.1zM233.8 346.8h1.1v1.1h-1.1zM246.3 348.2h1.1v1.1h-1.1zM231.0 345.8h1.1v1.1h-1.1zM237.4 355.3h1.1v1.1h-1.1zM228.0 356.9h1.1v1.1h-1.1zM229.8 343.1h1.1v1.1h-1.1zM246.3 348.8h1.1v1.1h-1.1zM221.8 346.8h1.1v1.1h-1.1zM236.5 335.5h1.1v1.1h-1.1zM235.1 334.8h1.1v1.1h-1.1zM231.0 346.8h1.1v1.1h-1.1zM234.1 359.9h1.1v1.1h-1.1zM240.3 349.9h1.1v1.1h-1.1zM240.9 340.8h1.1v1.1h-1.1zM228.4 353.7h1.1v1.1h-1.1zM227.1 348.0h1.1v1.1h-1.1zM236.0 349.7h1.1v1.1h-1.1zM241.1 347.0h1.1v1.1h-1.1zM236.5 344.6h1.1v1.1h-1.1zM238.9 354.5h1.1v1.1h-1.1zM234.7 346.5h1.1v1.1h-1.1zM221.8 360.2h1.1v1.1h-1.1zM230.1 341.3h1.1v1.1h-1.1zM231.9 346.9h1.1v1.1h-1.1zM241.6 354.7h1.1v1.1h-1.1zM225.5 357.9h1.1v1.1h-1.1zM237.0 347.2h1.1v1.1h-1.1zM240.8 349.2h1.1v1.1h-1.1zM239.1 346.0h1.1v1.1h-1.1zM227.6 348.5h1.1v1.1h-1.1zM234.6 334.4h1.1v1.1h-1.1zM240.6 357.8h1.1v1.1h-1.1zM225.6 341.9h1.1v1.1h-1.1zM228.0 358.6h1.1v1.1h-1.1zM223.2 350.3h1.1v1.1h-1.1zM241.7 344.6h1.1v1.1h-1.1zM199.3 352.1h1.1v1.1h-1.1zM246.5 346.6h1.1v1.1h-1.1zM239.7 358.2h1.1v1.1h-1.1zM243.2 343.4h1.1v1.1h-1.1zM226.3 335.0h1.1v1.1h-1.1zM230.5 343.1h1.1v1.1h-1.1zM230.9 339.4h1.1v1.1h-1.1zM218.4 347.8h1.1v1.1h-1.1zM240.0 341.8h1.1v1.1h-1.1zM220.5 351.3h1.1v1.1h-1.1zM224.7 353.6h1.1v1.1h-1.1zM221.6 352.0h1.1v1.1h-1.1zM220.2 351.9h1.1v1.1h-1.1zM241.2 343.6h1.1v1.1h-1.1zM234.1 352.7h1.1v1.1h-1.1zM231.5 355.8h1.1v1.1h-1.1zM210.4 345.6h1.1v1.1h-1.1zM233.2 340.7h1.1v1.1h-1.1zM236.7 337.8h1.1v1.1h-1.1zM243.9 356.3h1.1v1.1h-1.1zM222.0 354.4h1.1v1.1h-1.1zM246.8 345.0h1.1v1.1h-1.1zM225.0 350.4h1.1v1.1h-1.1zM225.6 340.1h1.1v1.1h-1.1zM221.6 349.9h1.1v1.1h-1.1zM241.1 352.4h1.1v1.1h-1.1zM233.0 345.1h1.1v1.1h-1.1zM245.5 348.1h1.1v1.1h-1.1zM230.1 351.2h1.1v1.1h-1.1zM229.7 345.3h1.1v1.1h-1.1zM225.9 348.1h1.1v1.1h-1.1zM226.4 346.3h1.1v1.1h-1.1zM247.4 355.6h1.1v1.1h-1.1zM237.0 356.5h1.1v1.1h-1.1zM235.0 353.7h1.1v1.1h-1.1zM234.3 357.3h1.1v1.1h-1.1zM237.9 341.9h1.1v1.1h-1.1zM240.5 346.8h1.1v1.1h-1.1zM225.8 348.5h1.1v1.1h-1.1zM231.1 352.6h1.1v1.1h-1.1zM218.7 350.9h1.1v1.1h-1.1zM237.5 340.6h1.1v1.1h-1.1zM229.2 353.7h1.1v1.1h-1.1zM238.0 356.8h1.1v1.1h-1.1zM224.4 342.6h1.1v1.1h-1.1zM226.3 355.0h1.1v1.1h-1.1zM234.0 344.0h1.1v1.1h-1.1zM248.2 344.7h1.1v1.1h-1.1zM234.4 337.7h1.1v1.1h-1.1zM235.2 351.6h1.1v1.1h-1.1zM247.5 355.8h1.1v1.1h-1.1zM233.6 334.2h1.1v1.1h-1.1zM233.8 345.1h1.1v1.1h-1.1zM237.9 339.3h1.1v1.1h-1.1zM226.1 352.6h1.1v1.1h-1.1zM227.0 342.5h1.1v1.1h-1.1zM240.0 352.6h1.1v1.1h-1.1zM228.7 343.1h1.1v1.1h-1.1zM225.8 345.8h1.1v1.1h-1.1zM231.2 354.3h1.1v1.1h-1.1zM229.8 358.8h1.1v1.1h-1.1zM238.2 356.4h1.1v1.1h-1.1z"/>
<path fill="#E2735C" d="M203.7 354.2h1.1v1.1h-1.1zM233.1 333.5h1.1v1.1h-1.1zM220.7 344.8h1.1v1.1h-1.1zM225.8 360.5h1.1v1.1h-1.1zM237.8 345.3h1.1v1.1h-1.1zM244.2 355.9h1.1v1.1h-1.1zM224.8 337.9h1.1v1.1h-1.1zM209.1 351.4h1.1v1.1h-1.1zM248.9 350.5h1.1v1.1h-1.1zM224.0 351.1h1.1v1.1h-1.1zM229.8 361.6h1.1v1.1h-1.1zM215.2 355.8h1.1v1.1h-1.1zM194.0 351.5h1.1v1.1h-1.1zM232.0 339.0h1.1v1.1h-1.1zM235.8 339.6h1.1v1.1h-1.1zM248.1 351.6h1.1v1.1h-1.1zM205.0 353.8h1.1v1.1h-1.1zM227.7 354.9h1.1v1.1h-1.1zM211.8 347.2h1.1v1.1h-1.1zM236.9 359.9h1.1v1.1h-1.1zM243.8 357.8h1.1v1.1h-1.1zM227.0 346.7h1.1v1.1h-1.1zM214.9 343.9h1.1v1.1h-1.1zM223.8 360.0h1.1v1.1h-1.1zM227.6 356.5h1.1v1.1h-1.1zM199.8 353.3h1.1v1.1h-1.1zM219.9 347.0h1.1v1.1h-1.1zM224.1 359.6h1.1v1.1h-1.1zM217.3 347.6h1.1v1.1h-1.1zM233.4 335.9h1.1v1.1h-1.1zM230.9 347.2h1.1v1.1h-1.1zM238.3 357.3h1.1v1.1h-1.1zM199.5 350.8h1.1v1.1h-1.1zM219.8 361.5h1.1v1.1h-1.1zM226.4 349.9h1.1v1.1h-1.1zM233.1 333.6h1.1v1.1h-1.1zM230.7 337.0h1.1v1.1h-1.1zM237.3 345.3h1.1v1.1h-1.1zM232.8 340.6h1.1v1.1h-1.1zM218.1 350.6h1.1v1.1h-1.1zM235.5 336.8h1.1v1.1h-1.1zM222.2 355.6h1.1v1.1h-1.1zM220.4 339.2h1.1v1.1h-1.1zM211.7 352.1h1.1v1.1h-1.1zM230.3 335.5h1.1v1.1h-1.1zM205.4 353.8h1.1v1.1h-1.1zM238.5 349.9h1.1v1.1h-1.1zM221.4 361.1h1.1v1.1h-1.1zM238.5 338.5h1.1v1.1h-1.1zM223.7 359.7h1.1v1.1h-1.1zM231.1 331.5h1.1v1.1h-1.1zM221.0 349.5h1.1v1.1h-1.1zM218.6 348.0h1.1v1.1h-1.1zM224.5 349.2h1.1v1.1h-1.1zM245.1 345.5h1.1v1.1h-1.1zM233.5 341.4h1.1v1.1h-1.1zM244.9 345.5h1.1v1.1h-1.1zM233.4 351.2h1.1v1.1h-1.1zM230.9 340.3h1.1v1.1h-1.1zM212.0 361.3h1.1v1.1h-1.1zM243.9 344.6h1.1v1.1h-1.1zM219.1 353.3h1.1v1.1h-1.1zM218.7 357.0h1.1v1.1h-1.1zM247.2 347.1h1.1v1.1h-1.1zM212.8 347.1h1.1v1.1h-1.1zM222.4 350.1h1.1v1.1h-1.1zM231.3 337.1h1.1v1.1h-1.1zM227.0 339.2h1.1v1.1h-1.1zM219.6 355.3h1.1v1.1h-1.1zM203.0 354.0h1.1v1.1h-1.1zM223.0 355.2h1.1v1.1h-1.1zM221.4 353.1h1.1v1.1h-1.1zM229.8 345.2h1.1v1.1h-1.1zM225.8 341.3h1.1v1.1h-1.1zM233.1 329.7h1.1v1.1h-1.1zM211.7 345.3h1.1v1.1h-1.1zM218.6 355.9h1.1v1.1h-1.1zM228.6 343.3h1.1v1.1h-1.1zM232.4 334.1h1.1v1.1h-1.1zM222.6 355.9h1.1v1.1h-1.1zM219.3 344.8h1.1v1.1h-1.1zM221.8 358.3h1.1v1.1h-1.1zM207.6 351.9h1.1v1.1h-1.1zM232.7 348.9h1.1v1.1h-1.1zM247.5 352.3h1.1v1.1h-1.1zM217.8 352.1h1.1v1.1h-1.1zM210.4 349.1h1.1v1.1h-1.1zM225.0 350.3h1.1v1.1h-1.1zM225.7 341.0h1.1v1.1h-1.1zM218.9 347.9h1.1v1.1h-1.1zM197.9 352.9h1.1v1.1h-1.1zM240.5 357.4h1.1v1.1h-1.1zM230.8 346.0h1.1v1.1h-1.1zM220.4 346.9h1.1v1.1h-1.1zM225.4 360.8h1.1v1.1h-1.1zM223.2 362.3h1.1v1.1h-1.1zM215.8 353.3h1.1v1.1h-1.1zM237.3 332.7h1.1v1.1h-1.1zM217.0 342.7h1.1v1.1h-1.1zM205.6 350.3h1.1v1.1h-1.1zM217.0 349.4h1.1v1.1h-1.1zM216.7 342.5h1.1v1.1h-1.1zM231.4 342.2h1.1v1.1h-1.1zM224.3 336.9h1.1v1.1h-1.1zM237.0 344.2h1.1v1.1h-1.1zM230.9 342.8h1.1v1.1h-1.1zM227.0 359.0h1.1v1.1h-1.1zM234.7 355.2h1.1v1.1h-1.1zM203.7 351.0h1.1v1.1h-1.1zM219.5 356.8h1.1v1.1h-1.1zM221.6 357.3h1.1v1.1h-1.1zM232.1 341.7h1.1v1.1h-1.1zM229.2 359.8h1.1v1.1h-1.1zM219.1 350.8h1.1v1.1h-1.1zM217.0 348.9h1.1v1.1h-1.1zM218.2 344.3h1.1v1.1h-1.1zM248.6 353.9h1.1v1.1h-1.1zM241.6 355.0h1.1v1.1h-1.1zM231.5 357.5h1.1v1.1h-1.1zM214.9 361.4h1.1v1.1h-1.1zM217.0 354.9h1.1v1.1h-1.1zM204.4 350.2h1.1v1.1h-1.1zM240.9 358.1h1.1v1.1h-1.1zM220.0 361.2h1.1v1.1h-1.1zM219.1 347.9h1.1v1.1h-1.1zM232.1 340.2h1.1v1.1h-1.1zM225.7 351.8h1.1v1.1h-1.1zM213.9 345.6h1.1v1.1h-1.1zM239.0 340.5h1.1v1.1h-1.1zM232.7 360.0h1.1v1.1h-1.1zM214.2 360.8h1.1v1.1h-1.1zM244.7 352.3h1.1v1.1h-1.1zM243.0 348.3h1.1v1.1h-1.1zM215.2 351.3h1.1v1.1h-1.1zM215.3 352.4h1.1v1.1h-1.1zM221.3 343.2h1.1v1.1h-1.1zM222.4 361.1h1.1v1.1h-1.1zM243.1 350.3h1.1v1.1h-1.1zM225.1 340.2h1.1v1.1h-1.1zM219.1 353.1h1.1v1.1h-1.1zM244.6 354.4h1.1v1.1h-1.1zM226.1 345.0h1.1v1.1h-1.1zM249.2 349.6h1.1v1.1h-1.1zM231.7 349.8h1.1v1.1h-1.1zM220.7 359.4h1.1v1.1h-1.1zM234.7 337.0h1.1v1.1h-1.1zM221.4 357.8h1.1v1.1h-1.1zM197.3 350.3h1.1v1.1h-1.1zM226.4 341.8h1.1v1.1h-1.1zM232.3 334.9h1.1v1.1h-1.1zM225.3 336.6h1.1v1.1h-1.1zM227.7 338.5h1.1v1.1h-1.1zM225.3 343.5h1.1v1.1h-1.1zM214.1 356.7h1.1v1.1h-1.1zM247.2 345.2h1.1v1.1h-1.1zM224.9 361.8h1.1v1.1h-1.1zM228.1 353.0h1.1v1.1h-1.1zM243.8 351.7h1.1v1.1h-1.1zM216.2 357.6h1.1v1.1h-1.1zM230.4 355.6h1.1v1.1h-1.1zM220.7 357.2h1.1v1.1h-1.1zM243.0 345.1h1.1v1.1h-1.1zM223.9 351.9h1.1v1.1h-1.1zM218.4 356.0h1.1v1.1h-1.1zM228.7 351.2h1.1v1.1h-1.1zM211.0 360.3h1.1v1.1h-1.1zM221.2 343.6h1.1v1.1h-1.1zM228.4 358.8h1.1v1.1h-1.1zM221.9 356.2h1.1v1.1h-1.1zM208.8 358.4h1.1v1.1h-1.1zM231.2 341.5h1.1v1.1h-1.1zM227.0 353.9h1.1v1.1h-1.1zM238.4 354.0h1.1v1.1h-1.1zM244.0 340.9h1.1v1.1h-1.1zM215.5 356.1h1.1v1.1h-1.1zM204.2 355.0h1.1v1.1h-1.1zM224.6 340.7h1.1v1.1h-1.1zM239.2 351.7h1.1v1.1h-1.1zM230.6 359.2h1.1v1.1h-1.1zM234.9 340.7h1.1v1.1h-1.1zM218.3 345.6h1.1v1.1h-1.1zM222.3 350.7h1.1v1.1h-1.1zM218.6 355.6h1.1v1.1h-1.1zM226.2 339.0h1.1v1.1h-1.1zM237.4 350.5h1.1v1.1h-1.1zM239.1 351.8h1.1v1.1h-1.1zM227.4 343.0h1.1v1.1h-1.1zM223.4 340.4h1.1v1.1h-1.1zM235.3 342.2h1.1v1.1h-1.1zM234.2 338.3h1.1v1.1h-1.1zM249.2 351.8h1.1v1.1h-1.1zM232.1 334.3h1.1v1.1h-1.1zM227.8 343.7h1.1v1.1h-1.1zM245.4 343.4h1.1v1.1h-1.1zM243.4 343.3h1.1v1.1h-1.1zM201.4 350.6h1.1v1.1h-1.1zM224.6 360.5h1.1v1.1h-1.1zM233.7 332.2h1.1v1.1h-1.1zM199.6 351.5h1.1v1.1h-1.1zM206.2 353.7h1.1v1.1h-1.1zM219.8 357.2h1.1v1.1h-1.1zM205.8 353.1h1.1v1.1h-1.1zM213.5 347.7h1.1v1.1h-1.1zM220.4 349.8h1.1v1.1h-1.1zM221.4 347.4h1.1v1.1h-1.1zM221.4 345.0h1.1v1.1h-1.1zM217.7 355.7h1.1v1.1h-1.1zM228.9 347.6h1.1v1.1h-1.1zM222.5 359.4h1.1v1.1h-1.1zM213.5 360.7h1.1v1.1h-1.1zM219.4 347.7h1.1v1.1h-1.1zM224.5 343.3h1.1v1.1h-1.1zM224.7 357.0h1.1v1.1h-1.1zM221.1 341.0h1.1v1.1h-1.1zM221.1 345.7h1.1v1.1h-1.1zM226.4 343.8h1.1v1.1h-1.1zM237.2 358.6h1.1v1.1h-1.1zM225.4 345.1h1.1v1.1h-1.1zM238.1 338.2h1.1v1.1h-1.1zM232.4 349.3h1.1v1.1h-1.1zM228.2 344.2h1.1v1.1h-1.1zM219.1 351.5h1.1v1.1h-1.1zM208.9 349.1h1.1v1.1h-1.1zM231.1 350.6h1.1v1.1h-1.1zM244.0 342.6h1.1v1.1h-1.1zM238.2 333.6h1.1v1.1h-1.1zM237.0 354.7h1.1v1.1h-1.1zM227.6 341.9h1.1v1.1h-1.1zM223.9 341.6h1.1v1.1h-1.1zM233.2 337.2h1.1v1.1h-1.1zM240.8 350.6h1.1v1.1h-1.1zM238.0 342.5h1.1v1.1h-1.1zM232.3 330.1h1.1v1.1h-1.1zM224.6 343.4h1.1v1.1h-1.1zM219.8 355.7h1.1v1.1h-1.1zM218.1 348.7h1.1v1.1h-1.1zM226.6 349.4h1.1v1.1h-1.1zM243.7 352.3h1.1v1.1h-1.1zM232.3 346.4h1.1v1.1h-1.1zM220.8 356.6h1.1v1.1h-1.1zM233.7 351.2h1.1v1.1h-1.1zM242.0 351.5h1.1v1.1h-1.1zM233.8 331.3h1.1v1.1h-1.1zM229.6 347.6h1.1v1.1h-1.1zM212.3 347.5h1.1v1.1h-1.1zM229.5 359.4h1.1v1.1h-1.1zM217.1 356.4h1.1v1.1h-1.1zM220.6 347.3h1.1v1.1h-1.1zM245.1 347.8h1.1v1.1h-1.1zM232.1 338.5h1.1v1.1h-1.1zM208.4 349.0h1.1v1.1h-1.1zM247.0 349.4h1.1v1.1h-1.1zM219.5 342.3h1.1v1.1h-1.1zM217.1 347.9h1.1v1.1h-1.1zM220.3 342.9h1.1v1.1h-1.1zM227.7 337.1h1.1v1.1h-1.1zM234.5 350.9h1.1v1.1h-1.1zM237.9 340.5h1.1v1.1h-1.1zM224.7 358.9h1.1v1.1h-1.1zM209.9 355.3h1.1v1.1h-1.1zM207.0 349.8h1.1v1.1h-1.1zM232.6 355.8h1.1v1.1h-1.1zM200.2 350.3h1.1v1.1h-1.1zM197.7 351.6h1.1v1.1h-1.1zM236.6 332.1h1.1v1.1h-1.1zM230.8 349.2h1.1v1.1h-1.1zM237.0 358.3h1.1v1.1h-1.1zM243.7 348.2h1.1v1.1h-1.1zM232.7 353.4h1.1v1.1h-1.1zM223.3 353.7h1.1v1.1h-1.1zM212.5 350.7h1.1v1.1h-1.1zM228.2 354.7h1.1v1.1h-1.1zM215.1 360.7h1.1v1.1h-1.1zM216.8 348.6h1.1v1.1h-1.1zM229.9 332.6h1.1v1.1h-1.1zM230.7 346.9h1.1v1.1h-1.1zM227.1 354.4h1.1v1.1h-1.1zM218.7 353.0h1.1v1.1h-1.1zM223.7 358.8h1.1v1.1h-1.1zM222.8 349.9h1.1v1.1h-1.1zM215.5 348.8h1.1v1.1h-1.1zM222.2 359.7h1.1v1.1h-1.1zM209.0 345.9h1.1v1.1h-1.1zM241.5 356.9h1.1v1.1h-1.1zM225.1 361.8h1.1v1.1h-1.1zM242.1 355.9h1.1v1.1h-1.1zM220.8 342.2h1.1v1.1h-1.1zM217.6 356.1h1.1v1.1h-1.1zM215.0 350.8h1.1v1.1h-1.1zM216.1 358.2h1.1v1.1h-1.1zM230.6 341.9h1.1v1.1h-1.1zM222.1 343.5h1.1v1.1h-1.1zM245.6 345.8h1.1v1.1h-1.1zM235.0 340.8h1.1v1.1h-1.1zM223.9 341.3h1.1v1.1h-1.1zM226.1 360.3h1.1v1.1h-1.1zM221.6 354.2h1.1v1.1h-1.1zM223.3 352.2h1.1v1.1h-1.1zM242.4 344.5h1.1v1.1h-1.1zM222.9 343.7h1.1v1.1h-1.1zM219.2 343.2h1.1v1.1h-1.1zM222.3 359.2h1.1v1.1h-1.1zM206.9 352.8h1.1v1.1h-1.1zM221.8 346.5h1.1v1.1h-1.1zM243.8 353.3h1.1v1.1h-1.1zM230.1 336.2h1.1v1.1h-1.1zM227.5 346.9h1.1v1.1h-1.1zM219.6 343.1h1.1v1.1h-1.1zM226.6 342.1h1.1v1.1h-1.1zM218.8 354.8h1.1v1.1h-1.1zM229.6 341.1h1.1v1.1h-1.1zM213.7 348.3h1.1v1.1h-1.1zM233.8 339.3h1.1v1.1h-1.1zM238.1 356.8h1.1v1.1h-1.1zM212.6 348.7h1.1v1.1h-1.1zM233.5 350.3h1.1v1.1h-1.1zM227.6 332.9h1.1v1.1h-1.1zM200.9 351.5h1.1v1.1h-1.1zM224.0 358.3h1.1v1.1h-1.1zM240.1 344.3h1.1v1.1h-1.1zM213.3 353.4h1.1v1.1h-1.1zM220.1 355.5h1.1v1.1h-1.1zM247.4 351.4h1.1v1.1h-1.1zM222.0 342.0h1.1v1.1h-1.1zM202.8 351.0h1.1v1.1h-1.1zM243.5 351.7h1.1v1.1h-1.1zM217.1 347.7h1.1v1.1h-1.1zM234.5 357.6h1.1v1.1h-1.1zM231.7 358.8h1.1v1.1h-1.1zM212.4 357.0h1.1v1.1h-1.1zM239.4 340.8h1.1v1.1h-1.1zM224.9 344.8h1.1v1.1h-1.1zM239.0 347.5h1.1v1.1h-1.1zM224.1 339.3h1.1v1.1h-1.1zM217.9 344.9h1.1v1.1h-1.1zM246.2 352.2h1.1v1.1h-1.1zM247.5 355.4h1.1v1.1h-1.1zM222.0 361.5h1.1v1.1h-1.1zM225.3 338.7h1.1v1.1h-1.1zM207.5 350.6h1.1v1.1h-1.1zM228.3 346.6h1.1v1.1h-1.1zM237.8 356.2h1.1v1.1h-1.1zM244.4 348.7h1.1v1.1h-1.1zM244.3 352.1h1.1v1.1h-1.1zM231.9 334.3h1.1v1.1h-1.1zM223.3 358.8h1.1v1.1h-1.1zM230.0 342.9h1.1v1.1h-1.1z"/>
<path fill="#F2AE9C" d="M235.0 334.2h1.1v1.1h-1.1zM216.9 345.6h1.1v1.1h-1.1zM223.7 360.8h1.1v1.1h-1.1zM215.0 347.9h1.1v1.1h-1.1zM232.8 329.2h1.1v1.1h-1.1zM234.5 332.8h1.1v1.1h-1.1zM229.1 340.3h1.1v1.1h-1.1zM206.1 349.8h1.1v1.1h-1.1zM223.4 341.9h1.1v1.1h-1.1zM201.8 351.3h1.1v1.1h-1.1zM207.9 350.4h1.1v1.1h-1.1zM227.4 361.9h1.1v1.1h-1.1zM211.1 350.4h1.1v1.1h-1.1zM198.1 349.6h1.1v1.1h-1.1zM228.5 362.7h1.1v1.1h-1.1zM210.7 352.7h1.1v1.1h-1.1zM211.4 351.1h1.1v1.1h-1.1zM216.4 344.8h1.1v1.1h-1.1zM202.5 349.6h1.1v1.1h-1.1zM235.4 337.8h1.1v1.1h-1.1zM200.2 350.3h1.1v1.1h-1.1zM247.8 346.7h1.1v1.1h-1.1zM217.2 346.2h1.1v1.1h-1.1zM209.4 355.8h1.1v1.1h-1.1zM219.8 357.6h1.1v1.1h-1.1zM234.2 353.7h1.1v1.1h-1.1zM219.4 347.3h1.1v1.1h-1.1zM231.7 361.0h1.1v1.1h-1.1zM209.8 356.4h1.1v1.1h-1.1zM243.1 356.3h1.1v1.1h-1.1zM228.6 343.3h1.1v1.1h-1.1zM216.1 358.2h1.1v1.1h-1.1zM238.3 349.8h1.1v1.1h-1.1zM201.4 353.0h1.1v1.1h-1.1zM220.6 341.1h1.1v1.1h-1.1zM236.5 339.4h1.1v1.1h-1.1zM200.4 351.3h1.1v1.1h-1.1zM199.3 350.7h1.1v1.1h-1.1zM228.2 360.7h1.1v1.1h-1.1zM205.1 354.8h1.1v1.1h-1.1zM222.5 341.9h1.1v1.1h-1.1zM215.2 357.8h1.1v1.1h-1.1zM231.7 359.8h1.1v1.1h-1.1zM233.3 337.9h1.1v1.1h-1.1zM225.3 358.7h1.1v1.1h-1.1zM228.8 360.6h1.1v1.1h-1.1zM235.3 360.4h1.1v1.1h-1.1zM214.5 361.4h1.1v1.1h-1.1zM205.7 356.4h1.1v1.1h-1.1zM227.2 332.1h1.1v1.1h-1.1zM200.2 353.1h1.1v1.1h-1.1zM231.6 336.2h1.1v1.1h-1.1zM235.3 332.5h1.1v1.1h-1.1zM224.5 335.8h1.1v1.1h-1.1zM218.4 343.4h1.1v1.1h-1.1zM211.9 344.6h1.1v1.1h-1.1zM209.1 354.4h1.1v1.1h-1.1zM205.5 350.6h1.1v1.1h-1.1zM209.4 358.7h1.1v1.1h-1.1zM218.8 358.9h1.1v1.1h-1.1zM215.0 349.8h1.1v1.1h-1.1zM230.6 336.6h1.1v1.1h-1.1zM212.9 347.7h1.1v1.1h-1.1zM219.5 360.3h1.1v1.1h-1.1zM229.1 334.4h1.1v1.1h-1.1zM214.3 352.7h1.1v1.1h-1.1zM198.5 351.0h1.1v1.1h-1.1zM217.4 345.1h1.1v1.1h-1.1zM210.6 355.9h1.1v1.1h-1.1zM222.1 350.9h1.1v1.1h-1.1zM203.9 352.4h1.1v1.1h-1.1zM213.7 352.5h1.1v1.1h-1.1zM235.6 332.2h1.1v1.1h-1.1zM228.5 355.7h1.1v1.1h-1.1zM227.5 349.6h1.1v1.1h-1.1zM208.4 347.6h1.1v1.1h-1.1zM205.2 349.7h1.1v1.1h-1.1zM225.5 337.2h1.1v1.1h-1.1zM210.3 347.5h1.1v1.1h-1.1zM218.6 363.0h1.1v1.1h-1.1zM239.4 353.4h1.1v1.1h-1.1zM233.0 329.2h1.1v1.1h-1.1zM208.8 349.8h1.1v1.1h-1.1zM219.8 343.4h1.1v1.1h-1.1zM204.1 349.5h1.1v1.1h-1.1zM210.5 353.6h1.1v1.1h-1.1zM209.7 357.5h1.1v1.1h-1.1zM232.8 330.3h1.1v1.1h-1.1zM214.0 350.1h1.1v1.1h-1.1zM231.9 335.2h1.1v1.1h-1.1zM242.3 343.5h1.1v1.1h-1.1zM225.8 336.2h1.1v1.1h-1.1zM221.8 359.0h1.1v1.1h-1.1zM233.6 356.1h1.1v1.1h-1.1zM216.9 363.3h1.1v1.1h-1.1zM200.4 352.9h1.1v1.1h-1.1zM221.4 357.9h1.1v1.1h-1.1zM208.7 356.4h1.1v1.1h-1.1zM228.5 333.4h1.1v1.1h-1.1zM213.3 347.8h1.1v1.1h-1.1zM214.2 345.6h1.1v1.1h-1.1zM201.1 348.4h1.1v1.1h-1.1zM212.1 346.1h1.1v1.1h-1.1zM204.8 351.8h1.1v1.1h-1.1zM203.6 349.2h1.1v1.1h-1.1zM215.0 347.1h1.1v1.1h-1.1zM229.7 332.4h1.1v1.1h-1.1zM212.6 354.1h1.1v1.1h-1.1zM199.8 351.7h1.1v1.1h-1.1zM216.8 355.1h1.1v1.1h-1.1zM226.2 347.5h1.1v1.1h-1.1zM211.8 346.6h1.1v1.1h-1.1zM235.3 334.1h1.1v1.1h-1.1zM243.7 357.5h1.1v1.1h-1.1zM236.5 345.6h1.1v1.1h-1.1zM223.2 362.2h1.1v1.1h-1.1zM211.0 356.1h1.1v1.1h-1.1zM210.7 346.6h1.1v1.1h-1.1zM199.3 354.3h1.1v1.1h-1.1zM205.0 355.8h1.1v1.1h-1.1zM229.1 360.7h1.1v1.1h-1.1zM220.8 346.5h1.1v1.1h-1.1zM244.6 350.7h1.1v1.1h-1.1zM211.2 347.8h1.1v1.1h-1.1zM219.9 351.2h1.1v1.1h-1.1zM243.0 358.7h1.1v1.1h-1.1zM229.7 357.3h1.1v1.1h-1.1zM203.0 354.1h1.1v1.1h-1.1zM208.8 348.0h1.1v1.1h-1.1zM247.5 351.3h1.1v1.1h-1.1zM222.2 349.2h1.1v1.1h-1.1zM204.2 351.5h1.1v1.1h-1.1zM230.7 359.6h1.1v1.1h-1.1zM232.5 342.7h1.1v1.1h-1.1zM204.6 352.1h1.1v1.1h-1.1zM218.3 358.6h1.1v1.1h-1.1zM214.0 346.4h1.1v1.1h-1.1zM210.1 353.3h1.1v1.1h-1.1zM225.3 350.9h1.1v1.1h-1.1zM235.5 339.1h1.1v1.1h-1.1zM215.7 359.4h1.1v1.1h-1.1zM232.0 335.4h1.1v1.1h-1.1zM212.8 346.7h1.1v1.1h-1.1zM214.1 355.6h1.1v1.1h-1.1zM228.8 334.0h1.1v1.1h-1.1zM215.9 353.9h1.1v1.1h-1.1zM222.1 360.9h1.1v1.1h-1.1zM211.6 350.4h1.1v1.1h-1.1zM194.6 352.7h1.1v1.1h-1.1zM201.4 349.7h1.1v1.1h-1.1zM217.0 347.7h1.1v1.1h-1.1zM206.1 351.3h1.1v1.1h-1.1zM236.4 335.4h1.1v1.1h-1.1zM223.0 338.9h1.1v1.1h-1.1zM228.7 360.8h1.1v1.1h-1.1zM200.3 350.5h1.1v1.1h-1.1zM218.7 349.3h1.1v1.1h-1.1zM224.4 359.3h1.1v1.1h-1.1zM216.7 362.3h1.1v1.1h-1.1zM235.0 332.9h1.1v1.1h-1.1zM230.6 333.5h1.1v1.1h-1.1zM224.5 339.4h1.1v1.1h-1.1zM212.7 355.3h1.1v1.1h-1.1zM220.6 352.0h1.1v1.1h-1.1zM212.0 360.8h1.1v1.1h-1.1zM219.5 342.8h1.1v1.1h-1.1zM211.0 344.7h1.1v1.1h-1.1zM221.8 355.6h1.1v1.1h-1.1zM199.7 350.6h1.1v1.1h-1.1zM204.8 350.9h1.1v1.1h-1.1zM236.5 350.3h1.1v1.1h-1.1zM198.9 350.7h1.1v1.1h-1.1zM213.9 349.3h1.1v1.1h-1.1zM241.3 342.3h1.1v1.1h-1.1zM235.2 360.7h1.1v1.1h-1.1zM217.2 358.3h1.1v1.1h-1.1zM237.5 332.1h1.1v1.1h-1.1zM246.1 346.4h1.1v1.1h-1.1zM236.1 332.1h1.1v1.1h-1.1zM234.4 330.6h1.1v1.1h-1.1zM215.6 358.5h1.1v1.1h-1.1zM224.1 338.9h1.1v1.1h-1.1zM217.3 354.2h1.1v1.1h-1.1zM239.2 351.5h1.1v1.1h-1.1zM236.3 340.3h1.1v1.1h-1.1zM214.1 352.4h1.1v1.1h-1.1zM209.4 354.2h1.1v1.1h-1.1zM215.8 361.1h1.1v1.1h-1.1zM246.1 350.2h1.1v1.1h-1.1zM198.0 353.5h1.1v1.1h-1.1zM236.6 335.6h1.1v1.1h-1.1zM211.9 356.4h1.1v1.1h-1.1zM211.2 360.5h1.1v1.1h-1.1zM209.7 356.2h1.1v1.1h-1.1zM219.5 346.2h1.1v1.1h-1.1zM212.5 352.3h1.1v1.1h-1.1zM226.2 340.6h1.1v1.1h-1.1zM219.5 352.8h1.1v1.1h-1.1zM227.9 345.3h1.1v1.1h-1.1zM220.6 353.7h1.1v1.1h-1.1zM212.8 350.0h1.1v1.1h-1.1zM228.4 334.0h1.1v1.1h-1.1zM216.9 358.2h1.1v1.1h-1.1zM225.1 336.1h1.1v1.1h-1.1zM200.1 351.8h1.1v1.1h-1.1zM221.4 359.9h1.1v1.1h-1.1zM220.4 345.9h1.1v1.1h-1.1zM233.7 359.4h1.1v1.1h-1.1zM243.7 345.3h1.1v1.1h-1.1zM231.3 330.4h1.1v1.1h-1.1zM233.3 331.6h1.1v1.1h-1.1zM230.1 333.0h1.1v1.1h-1.1zM221.0 343.9h1.1v1.1h-1.1zM227.5 354.7h1.1v1.1h-1.1zM229.3 335.6h1.1v1.1h-1.1zM210.9 358.0h1.1v1.1h-1.1zM209.5 351.5h1.1v1.1h-1.1zM205.1 349.3h1.1v1.1h-1.1zM228.7 336.2h1.1v1.1h-1.1zM217.4 342.9h1.1v1.1h-1.1zM229.8 341.0h1.1v1.1h-1.1zM199.5 351.8h1.1v1.1h-1.1zM211.4 357.7h1.1v1.1h-1.1zM237.9 337.6h1.1v1.1h-1.1zM214.7 349.3h1.1v1.1h-1.1zM222.9 360.3h1.1v1.1h-1.1zM214.3 357.5h1.1v1.1h-1.1zM206.7 354.1h1.1v1.1h-1.1zM199.8 353.3h1.1v1.1h-1.1zM229.9 342.9h1.1v1.1h-1.1zM221.9 348.4h1.1v1.1h-1.1zM210.6 346.3h1.1v1.1h-1.1zM212.2 355.1h1.1v1.1h-1.1zM212.0 346.3h1.1v1.1h-1.1zM216.5 345.4h1.1v1.1h-1.1zM217.1 346.6h1.1v1.1h-1.1zM208.6 357.2h1.1v1.1h-1.1zM222.0 354.8h1.1v1.1h-1.1zM217.7 342.2h1.1v1.1h-1.1zM225.6 348.0h1.1v1.1h-1.1zM237.7 333.9h1.1v1.1h-1.1zM223.5 351.4h1.1v1.1h-1.1zM212.0 353.6h1.1v1.1h-1.1z"/>
<path fill="#FBE3DC" d="M212.3 354.1h1.1v1.1h-1.1zM214.4 350.0h1.1v1.1h-1.1zM213.3 358.0h1.1v1.1h-1.1zM201.4 352.1h1.1v1.1h-1.1zM225.8 335.8h1.1v1.1h-1.1zM217.9 353.2h1.1v1.1h-1.1zM213.2 358.4h1.1v1.1h-1.1zM218.0 359.5h1.1v1.1h-1.1zM206.0 355.1h1.1v1.1h-1.1zM215.7 350.2h1.1v1.1h-1.1zM205.8 355.7h1.1v1.1h-1.1zM217.8 351.5h1.1v1.1h-1.1zM227.2 357.1h1.1v1.1h-1.1zM212.4 356.7h1.1v1.1h-1.1zM209.3 357.2h1.1v1.1h-1.1zM220.3 360.2h1.1v1.1h-1.1zM205.0 351.3h1.1v1.1h-1.1zM222.8 339.2h1.1v1.1h-1.1zM229.7 333.7h1.1v1.1h-1.1zM206.8 349.3h1.1v1.1h-1.1zM211.7 354.6h1.1v1.1h-1.1zM212.0 357.8h1.1v1.1h-1.1zM233.0 330.0h1.1v1.1h-1.1zM217.2 351.5h1.1v1.1h-1.1zM215.2 351.2h1.1v1.1h-1.1zM220.8 361.7h1.1v1.1h-1.1zM201.2 354.3h1.1v1.1h-1.1zM217.4 359.1h1.1v1.1h-1.1zM202.3 352.4h1.1v1.1h-1.1zM203.6 349.7h1.1v1.1h-1.1zM206.8 348.1h1.1v1.1h-1.1zM215.9 352.0h1.1v1.1h-1.1zM248.4 351.8h1.1v1.1h-1.1zM216.6 354.0h1.1v1.1h-1.1zM215.0 346.7h1.1v1.1h-1.1zM200.3 353.3h1.1v1.1h-1.1zM212.8 344.3h1.1v1.1h-1.1zM210.3 353.9h1.1v1.1h-1.1zM235.3 358.5h1.1v1.1h-1.1zM225.5 357.8h1.1v1.1h-1.1zM212.7 351.6h1.1v1.1h-1.1zM227.3 334.3h1.1v1.1h-1.1zM231.4 329.6h1.1v1.1h-1.1zM208.2 356.7h1.1v1.1h-1.1zM208.4 357.2h1.1v1.1h-1.1zM213.4 356.5h1.1v1.1h-1.1zM201.6 351.1h1.1v1.1h-1.1zM215.4 361.0h1.1v1.1h-1.1zM219.8 361.2h1.1v1.1h-1.1zM201.5 352.3h1.1v1.1h-1.1zM217.7 352.6h1.1v1.1h-1.1zM201.4 353.5h1.1v1.1h-1.1zM226.1 338.8h1.1v1.1h-1.1zM216.1 356.1h1.1v1.1h-1.1zM228.0 333.0h1.1v1.1h-1.1zM223.2 357.0h1.1v1.1h-1.1zM213.0 360.0h1.1v1.1h-1.1zM209.9 354.6h1.1v1.1h-1.1zM204.5 355.3h1.1v1.1h-1.1zM232.9 333.7h1.1v1.1h-1.1zM216.5 360.9h1.1v1.1h-1.1zM210.8 355.4h1.1v1.1h-1.1zM216.0 357.5h1.1v1.1h-1.1zM227.9 356.2h1.1v1.1h-1.1zM212.7 350.0h1.1v1.1h-1.1zM218.2 361.6h1.1v1.1h-1.1zM212.0 351.8h1.1v1.1h-1.1zM219.7 347.6h1.1v1.1h-1.1zM207.7 352.7h1.1v1.1h-1.1zM213.7 359.2h1.1v1.1h-1.1zM213.3 359.9h1.1v1.1h-1.1zM194.6 353.2h1.1v1.1h-1.1zM208.2 345.3h1.1v1.1h-1.1zM207.8 354.5h1.1v1.1h-1.1zM210.2 350.0h1.1v1.1h-1.1zM218.8 349.6h1.1v1.1h-1.1zM215.8 349.8h1.1v1.1h-1.1zM218.5 359.9h1.1v1.1h-1.1zM234.6 333.4h1.1v1.1h-1.1zM200.0 348.4h1.1v1.1h-1.1zM218.1 361.4h1.1v1.1h-1.1zM203.6 355.9h1.1v1.1h-1.1zM211.6 349.8h1.1v1.1h-1.1zM214.4 358.1h1.1v1.1h-1.1zM214.5 347.8h1.1v1.1h-1.1z"/>
<line x1="45.3" y1="384.3" x2="50.8" y2="381.4" stroke="#F4CDC3" stroke-width="1.1" stroke-dasharray="1 0.6"/>
<line x1="160.3" y1="384.3" x2="165.8" y2="381.4" stroke="#F4CDC3" stroke-width="1.1" stroke-dasharray="1 0.6"/>
<rect x="41.50" y="326.70" width="97.50" height="66.60" fill="none" stroke="#000" stroke-width="1.3"/>
<rect x="156.50" y="326.70" width="97.50" height="66.50" fill="none" stroke="#000" stroke-width="1.3"/>
<text x="43.8" y="403.6" font-size="8.80" text-anchor="middle" fill="#1a1a1a" stroke="#1a1a1a" stroke-width="0.22">1</text>
<text x="55.9" y="403.6" font-size="8.80" text-anchor="middle" fill="#1a1a1a" stroke="#1a1a1a" stroke-width="0.22">2</text>
<text x="68.0" y="403.6" font-size="8.80" text-anchor="middle" fill="#1a1a1a" stroke="#1a1a1a" stroke-width="0.22">3</text>
<text x="80.1" y="403.6" font-size="8.80" text-anchor="middle" fill="#1a1a1a" stroke="#1a1a1a" stroke-width="0.22">4</text>
<text x="92.2" y="403.6" font-size="8.80" text-anchor="middle" fill="#1a1a1a" stroke="#1a1a1a" stroke-width="0.22">5</text>
<text x="104.3" y="403.6" font-size="8.80" text-anchor="middle" fill="#1a1a1a" stroke="#1a1a1a" stroke-width="0.22">6</text>
<text x="116.4" y="403.6" font-size="8.80" text-anchor="middle" fill="#1a1a1a" stroke="#1a1a1a" stroke-width="0.22">7</text>
<text x="128.5" y="403.6" font-size="8.80" text-anchor="middle" fill="#1a1a1a" stroke="#1a1a1a" stroke-width="0.22">8</text>
<text x="38.3" y="390.5" font-size="8.80" text-anchor="end" fill="#1a1a1a" stroke="#1a1a1a" stroke-width="0.22">0</text>
<text x="38.3" y="381.6" font-size="8.80" text-anchor="end" fill="#1a1a1a" stroke="#1a1a1a" stroke-width="0.22">1</text>
<text x="38.3" y="372.8" font-size="8.80" text-anchor="end" fill="#1a1a1a" stroke="#1a1a1a" stroke-width="0.22">2</text>
<text x="38.3" y="363.9" font-size="8.80" text-anchor="end" fill="#1a1a1a" stroke="#1a1a1a" stroke-width="0.22">3</text>
<text x="38.3" y="355.1" font-size="8.80" text-anchor="end" fill="#1a1a1a" stroke="#1a1a1a" stroke-width="0.22">4</text>
<text x="38.3" y="346.2" font-size="8.80" text-anchor="end" fill="#1a1a1a" stroke="#1a1a1a" stroke-width="0.22">5</text>
<text x="38.3" y="337.4" font-size="8.80" text-anchor="end" fill="#1a1a1a" stroke="#1a1a1a" stroke-width="0.22">6</text>
<text x="158.8" y="403.6" font-size="8.80" text-anchor="middle" fill="#1a1a1a" stroke="#1a1a1a" stroke-width="0.22">1</text>
<text x="170.9" y="403.6" font-size="8.80" text-anchor="middle" fill="#1a1a1a" stroke="#1a1a1a" stroke-width="0.22">2</text>
<text x="183.0" y="403.6" font-size="8.80" text-anchor="middle" fill="#1a1a1a" stroke="#1a1a1a" stroke-width="0.22">3</text>
<text x="195.1" y="403.6" font-size="8.80" text-anchor="middle" fill="#1a1a1a" stroke="#1a1a1a" stroke-width="0.22">4</text>
<text x="207.2" y="403.6" font-size="8.80" text-anchor="middle" fill="#1a1a1a" stroke="#1a1a1a" stroke-width="0.22">5</text>
<text x="219.3" y="403.6" font-size="8.80" text-anchor="middle" fill="#1a1a1a" stroke="#1a1a1a" stroke-width="0.22">6</text>
<text x="231.4" y="403.6" font-size="8.80" text-anchor="middle" fill="#1a1a1a" stroke="#1a1a1a" stroke-width="0.22">7</text>
<text x="243.5" y="403.6" font-size="8.80" text-anchor="middle" fill="#1a1a1a" stroke="#1a1a1a" stroke-width="0.22">8</text>
<text x="153.3" y="390.5" font-size="8.80" text-anchor="end" fill="#1a1a1a" stroke="#1a1a1a" stroke-width="0.22">0</text>
<text x="153.3" y="381.6" font-size="8.80" text-anchor="end" fill="#1a1a1a" stroke="#1a1a1a" stroke-width="0.22">1</text>
<text x="153.3" y="372.8" font-size="8.80" text-anchor="end" fill="#1a1a1a" stroke="#1a1a1a" stroke-width="0.22">2</text>
<text x="153.3" y="363.9" font-size="8.80" text-anchor="end" fill="#1a1a1a" stroke="#1a1a1a" stroke-width="0.22">3</text>
<text x="153.3" y="355.1" font-size="8.80" text-anchor="end" fill="#1a1a1a" stroke="#1a1a1a" stroke-width="0.22">4</text>
<text x="153.3" y="346.2" font-size="8.80" text-anchor="end" fill="#1a1a1a" stroke="#1a1a1a" stroke-width="0.22">5</text>
<text x="153.3" y="337.4" font-size="8.80" text-anchor="end" fill="#1a1a1a" stroke="#1a1a1a" stroke-width="0.22">6</text>
<path d="M24.2,387 L24.2,414.1 L202,414.1" fill="none" stroke="#000" stroke-width="1.2"/>
<path d="M24.2,380.8 L27.6,388.5 L24.2,387.2 L20.8,388.5 Z" fill="#000"/>
<path d="M209.1,414.1 L201.4,417.5 L202.7,414.1 L201.4,410.7 Z" fill="#000"/>
<text x="212.6" y="417.2" font-size="10.50" textLength="27.9" lengthAdjust="spacingAndGlyphs" fill="#1a1a1a" stroke="#1a1a1a" stroke-width="0.22">UMAP-1</text>
<text x="28.2" y="377.4" font-size="10.50" textLength="28.4" lengthAdjust="spacingAndGlyphs" transform="rotate(-90 28.2 377.4)" fill="#1a1a1a" stroke="#1a1a1a" stroke-width="0.22">UMAP-2</text>
<text x="356.0" y="33.1" font-size="10.60" text-anchor="middle" textLength="22.7" lengthAdjust="spacingAndGlyphs" fill="#1a1a1a" stroke="#1a1a1a" stroke-width="0.22">Set 2</text>
<polygon points="305.5,80.8 307.0,78.2 309.5,76.0 315.1,73.6 322.4,72.2 329.7,71.0 337.0,69.8 346.8,69.1 356.0,69.3 362.3,69.8 369.6,70.4 377.0,71.6 384.3,73.4 390.4,75.9 396.5,78.3 401.3,81.3 405.0,84.4 408.0,88.0 409.5,91.7 408.0,96.6 405.5,99.8 400.0,100.8 395.0,103.3 390.0,106.0 385.5,107.2 378.2,107.6 370.9,107.0 362.3,105.7 355.0,104.5 345.6,101.5 338.2,99.0 332.1,95.4 327.3,91.7 322.4,89.9 316.3,88.0 311.4,86.2 308.5,85.0 306.3,83.0" fill="#939DC2"/>
<path fill="#939DC2" d="M317.2 71.6h1v1h-1zM312.7 72.7h1v1h-1zM317.1 72.3h1v1h-1zM355.1 104.3h1v1h-1zM321.6 89.8h1v1h-1zM372.5 70.2h1v1h-1zM305.0 80.3h1v1h-1zM326.8 92.4h1v1h-1zM388.9 105.9h1v1h-1zM397.7 102.0h1v1h-1zM334.2 97.0h1v1h-1zM372.5 108.6h1v1h-1zM344.9 101.3h1v1h-1zM308.9 72.7h1v1h-1zM338.2 66.9h1v1h-1zM348.4 104.1h1v1h-1zM327.4 93.5h1v1h-1zM378.0 71.2h1v1h-1zM410.2 94.0h1v1h-1zM366.7 68.3h1v1h-1zM338.5 67.7h1v1h-1zM358.1 105.7h1v1h-1zM338.9 100.0h1v1h-1zM303.6 80.7h1v1h-1zM395.9 76.9h1v1h-1zM404.5 101.2h1v1h-1zM397.0 76.8h1v1h-1zM380.9 107.5h1v1h-1zM357.1 107.3h1v1h-1zM321.0 89.7h1v1h-1zM366.6 106.6h1v1h-1zM393.7 76.8h1v1h-1zM316.8 88.2h1v1h-1zM338.6 68.1h1v1h-1zM355.1 106.4h1v1h-1zM366.3 106.3h1v1h-1zM315.2 88.6h1v1h-1zM383.2 72.3h1v1h-1zM400.6 101.2h1v1h-1zM372.2 106.7h1v1h-1zM304.6 80.4h1v1h-1zM412.2 94.2h1v1h-1zM408.4 87.9h1v1h-1zM324.9 92.5h1v1h-1zM376.6 69.4h1v1h-1zM354.7 104.1h1v1h-1zM341.8 101.0h1v1h-1zM382.6 107.3h1v1h-1zM409.0 91.5h1v1h-1zM368.1 68.9h1v1h-1zM364.0 105.6h1v1h-1zM306.1 84.2h1v1h-1zM308.5 75.9h1v1h-1zM311.9 88.7h1v1h-1zM318.8 89.3h1v1h-1zM395.1 103.3h1v1h-1zM334.7 69.4h1v1h-1zM305.9 76.8h1v1h-1zM305.6 79.2h1v1h-1zM365.1 106.7h1v1h-1zM309.6 74.5h1v1h-1zM307.7 86.1h1v1h-1zM409.2 90.5h1v1h-1zM345.1 103.5h1v1h-1zM374.4 108.9h1v1h-1zM402.0 81.0h1v1h-1zM407.0 96.9h1v1h-1zM360.8 108.8h1v1h-1zM320.9 90.0h1v1h-1zM395.6 102.7h1v1h-1zM369.4 106.9h1v1h-1zM378.0 107.6h1v1h-1zM402.1 79.3h1v1h-1zM398.1 103.1h1v1h-1zM390.8 74.6h1v1h-1zM406.5 100.2h1v1h-1zM328.0 92.2h1v1h-1zM379.1 107.4h1v1h-1zM349.7 102.9h1v1h-1zM341.3 67.2h1v1h-1z"/>
<path fill="#ffffff" d="M402.7 84.4h1v1h-1zM405.9 87.4h1v1h-1zM404.5 99.3h1v1h-1zM376.1 104.3h1v1h-1zM350.3 101.6h1v1h-1zM328.0 91.0h1v1h-1zM339.8 98.7h1v1h-1zM388.9 102.9h1v1h-1zM339.2 97.9h1v1h-1zM337.8 98.5h1v1h-1zM332.2 70.8h1v1h-1zM356.7 102.5h1v1h-1zM358.8 102.9h1v1h-1zM383.6 106.2h1v1h-1zM325.2 71.2h1v1h-1zM383.0 106.6h1v1h-1zM395.3 100.4h1v1h-1zM373.2 71.3h1v1h-1zM344.0 97.0h1v1h-1zM321.9 72.0h1v1h-1zM315.6 85.7h1v1h-1zM407.5 89.0h1v1h-1zM388.9 76.4h1v1h-1zM365.8 70.0h1v1h-1zM311.9 75.7h1v1h-1zM311.5 74.8h1v1h-1zM394.4 102.3h1v1h-1zM347.3 99.1h1v1h-1zM405.5 92.7h1v1h-1zM356.5 70.9h1v1h-1zM337.3 98.0h1v1h-1zM312.2 74.8h1v1h-1zM399.3 99.5h1v1h-1zM359.8 104.7h1v1h-1zM355.8 102.4h1v1h-1zM354.8 70.9h1v1h-1zM392.6 76.8h1v1h-1zM336.7 97.4h1v1h-1zM316.4 73.5h1v1h-1zM311.3 75.5h1v1h-1zM325.7 72.6h1v1h-1zM308.5 77.7h1v1h-1zM333.3 95.7h1v1h-1zM390.3 78.0h1v1h-1zM392.7 78.5h1v1h-1zM340.1 97.1h1v1h-1zM321.9 75.0h1v1h-1zM367.4 105.9h1v1h-1zM393.2 77.2h1v1h-1zM334.4 94.1h1v1h-1zM383.7 103.7h1v1h-1zM352.4 103.0h1v1h-1zM388.0 105.5h1v1h-1zM359.7 69.9h1v1h-1zM349.1 101.5h1v1h-1zM360.8 72.3h1v1h-1zM389.3 104.9h1v1h-1zM371.3 105.8h1v1h-1zM361.7 69.6h1v1h-1zM339.4 98.5h1v1h-1zM345.3 100.1h1v1h-1zM405.4 96.3h1v1h-1zM351.3 102.4h1v1h-1zM348.9 69.8h1v1h-1zM355.4 99.7h1v1h-1zM350.8 102.8h1v1h-1zM395.6 102.2h1v1h-1zM388.1 75.5h1v1h-1zM320.2 72.5h1v1h-1zM317.6 87.5h1v1h-1zM321.1 73.0h1v1h-1zM357.7 101.8h1v1h-1zM406.4 96.9h1v1h-1zM347.3 70.1h1v1h-1zM356.0 103.6h1v1h-1zM399.9 80.6h1v1h-1zM378.5 72.7h1v1h-1zM403.9 93.7h1v1h-1zM379.5 73.7h1v1h-1zM390.1 76.0h1v1h-1zM319.5 73.2h1v1h-1zM313.6 77.0h1v1h-1zM312.8 75.9h1v1h-1zM373.6 106.2h1v1h-1zM378.0 105.8h1v1h-1zM332.3 71.2h1v1h-1zM365.4 102.4h1v1h-1zM336.9 69.8h1v1h-1zM328.2 86.4h1v1h-1zM391.2 104.3h1v1h-1zM374.6 71.7h1v1h-1zM399.9 82.0h1v1h-1zM331.2 93.9h1v1h-1zM312.9 76.2h1v1h-1zM342.8 97.6h1v1h-1zM406.1 95.8h1v1h-1zM395.9 78.9h1v1h-1zM353.0 101.0h1v1h-1zM401.8 81.7h1v1h-1zM382.2 106.2h1v1h-1zM332.8 95.4h1v1h-1zM326.2 71.5h1v1h-1zM320.9 72.9h1v1h-1zM327.3 91.5h1v1h-1zM349.5 102.3h1v1h-1zM366.9 105.8h1v1h-1zM399.2 99.4h1v1h-1zM359.8 70.2h1v1h-1zM349.1 101.6h1v1h-1zM395.2 77.5h1v1h-1zM389.5 76.3h1v1h-1zM350.5 74.5h1v1h-1zM338.8 69.7h1v1h-1zM324.5 89.9h1v1h-1zM333.2 95.4h1v1h-1zM404.8 86.9h1v1h-1zM354.7 103.6h1v1h-1zM335.6 69.9h1v1h-1zM332.1 94.2h1v1h-1zM334.0 96.2h1v1h-1zM379.6 72.1h1v1h-1zM377.3 71.9h1v1h-1zM310.0 76.9h1v1h-1zM404.7 85.7h1v1h-1zM377.4 72.8h1v1h-1zM307.1 80.7h1v1h-1zM318.5 76.2h1v1h-1zM336.2 95.9h1v1h-1zM361.7 104.6h1v1h-1zM388.1 74.8h1v1h-1zM369.2 70.6h1v1h-1zM309.1 77.4h1v1h-1zM313.1 74.0h1v1h-1zM369.8 72.7h1v1h-1zM353.5 69.0h1v1h-1zM311.4 75.0h1v1h-1zM378.6 106.9h1v1h-1zM309.0 77.3h1v1h-1zM329.5 91.4h1v1h-1zM329.1 89.2h1v1h-1zM333.4 94.6h1v1h-1z"/>
<polygon points="311.1,120.1 312.3,118.3 314.8,116.8 317.8,116.2 320.9,114.9 322.7,114.3 324.5,116.5 327.0,118.9 325.7,121.3 323.3,122.9 319.6,123.5 315.4,123.5 312.3,122.3" fill="#DB8A62"/>
<path fill="#DB8A62" d="M319.6 124.1h1v1h-1zM322.6 112.9h1v1h-1zM319.2 114.0h1v1h-1zM323.8 115.5h1v1h-1zM316.6 123.3h1v1h-1z"/>
<path fill="#ffffff" d="M314.8 118.5h1v1h-1zM314.5 116.5h1v1h-1zM314.0 117.5h1v1h-1z"/>
<polygon points="338.8,41.8 340.7,42.0 343.0,42.2 344.5,42.8 346.1,44.3 345.7,45.5 344.5,46.4 342.6,45.7 341.1,44.3 339.2,43.0" fill="#72B08F"/>
<path fill="#72B08F" d="M340.7 44.8h1v1h-1zM342.0 45.3h1v1h-1zM339.5 43.9h1v1h-1zM345.4 43.5h1v1h-1zM343.0 45.6h1v1h-1z"/>
<path fill="#DB8A62" d="M328.8 113.0h1.3v1.3h-1.3zM328.2 116.1h1.3v1.3h-1.3zM334.2 109.1h1.3v1.3h-1.3zM334.4 111.6h1.3v1.3h-1.3z"/>
<path fill="#939DC2" d="M330.6 102.1h1.3v1.3h-1.3z M339.3 66.3h1.2v1.2h-1.2z M354.2 64h1.2v1.2h-1.2z"/>
<rect x="297.20" y="38.20" width="118.20" height="88.40" fill="none" stroke="#000" stroke-width="1.3"/>
<text x="307.4" y="137.0" font-size="8.80" text-anchor="middle" fill="#1a1a1a" stroke="#1a1a1a" stroke-width="0.22">−2</text>
<text x="328.8" y="137.0" font-size="8.80" text-anchor="middle" fill="#1a1a1a" stroke="#1a1a1a" stroke-width="0.22">−1</text>
<text x="350.5" y="137.0" font-size="8.80" text-anchor="middle" fill="#1a1a1a" stroke="#1a1a1a" stroke-width="0.22">0</text>
<text x="372.0" y="137.0" font-size="8.80" text-anchor="middle" fill="#1a1a1a" stroke="#1a1a1a" stroke-width="0.22">1</text>
<text x="393.7" y="137.0" font-size="8.80" text-anchor="middle" fill="#1a1a1a" stroke="#1a1a1a" stroke-width="0.22">2</text>
<text x="294.0" y="53.4" font-size="8.80" text-anchor="end" fill="#1a1a1a" stroke="#1a1a1a" stroke-width="0.22">6</text>
<text x="294.0" y="68.7" font-size="8.80" text-anchor="end" fill="#1a1a1a" stroke="#1a1a1a" stroke-width="0.22">4</text>
<text x="294.0" y="84.0" font-size="8.80" text-anchor="end" fill="#1a1a1a" stroke="#1a1a1a" stroke-width="0.22">2</text>
<text x="294.0" y="99.3" font-size="8.80" text-anchor="end" fill="#1a1a1a" stroke="#1a1a1a" stroke-width="0.22">0</text>
<text x="294.0" y="114.6" font-size="8.80" text-anchor="end" fill="#1a1a1a" stroke="#1a1a1a" stroke-width="0.22">−2</text>
<text x="294.0" y="129.9" font-size="8.80" text-anchor="end" fill="#1a1a1a" stroke="#1a1a1a" stroke-width="0.22">−4</text>
<text x="342.0" y="150.4" font-size="10.50" textLength="27.7" lengthAdjust="spacingAndGlyphs" fill="#1a1a1a" stroke="#1a1a1a" stroke-width="0.22">UMAP-1</text>
<text x="281.3" y="95.8" font-size="10.50" textLength="27.4" lengthAdjust="spacingAndGlyphs" transform="rotate(-90 281.3 95.8)" fill="#1a1a1a" stroke="#1a1a1a" stroke-width="0.22">UMAP-2</text>
<circle cx="421.0" cy="44.1" r="3.05" fill="#7DBB9B"/>
<text x="427.2" y="47.6" font-size="8.20" fill="#1a1a1a" stroke="#1a1a1a" stroke-width="0.22">Cluster 0: 269 cells</text>
<circle cx="421.0" cy="54.5" r="3.05" fill="#DB8A62"/>
<text x="427.2" y="58.0" font-size="8.20" fill="#1a1a1a" stroke="#1a1a1a" stroke-width="0.22">Cluster 1: 734 cells</text>
<circle cx="421.0" cy="64.8" r="3.05" fill="#939DC2"/>
<text x="427.2" y="68.3" font-size="8.20" fill="#1a1a1a" stroke="#1a1a1a" stroke-width="0.22">Cluster 2: 10194 cells</text>
<polygon points="305.5,219.2 307.0,216.8 309.5,214.8 315.1,212.7 322.4,211.4 329.7,210.3 337.0,209.2 346.8,208.6 356.0,208.8 362.3,209.2 369.6,209.8 377.0,210.8 384.3,212.5 390.4,214.7 396.5,216.9 401.3,219.7 405.0,222.5 408.0,225.7 409.5,229.1 408.0,233.6 405.5,236.5 400.0,237.4 395.0,239.6 390.0,242.1 385.5,243.2 378.2,243.5 370.9,243.0 362.3,241.8 355.0,240.7 345.6,238.0 338.2,235.7 332.1,232.5 327.3,229.1 322.4,227.5 316.3,225.7 311.4,224.1 308.5,223.0 306.3,221.2" fill="#C62224"/>
<path fill="#C62224" d="M409.0 227.7h1v1h-1zM402.0 219.2h1v1h-1zM398.6 214.6h1v1h-1zM342.5 208.2h1v1h-1zM401.0 218.5h1v1h-1zM375.6 210.1h1v1h-1zM385.1 212.2h1v1h-1zM392.9 214.3h1v1h-1zM359.7 206.9h1v1h-1zM308.7 211.1h1v1h-1zM367.7 208.8h1v1h-1zM323.2 228.2h1v1h-1zM408.0 232.3h1v1h-1zM394.9 215.4h1v1h-1zM380.0 210.1h1v1h-1zM305.3 220.0h1v1h-1zM329.3 208.2h1v1h-1zM360.9 207.4h1v1h-1zM318.1 227.2h1v1h-1zM323.6 210.5h1v1h-1zM389.7 213.4h1v1h-1zM316.5 211.2h1v1h-1zM373.9 209.2h1v1h-1zM407.5 225.0h1v1h-1zM320.3 226.6h1v1h-1zM358.9 208.2h1v1h-1zM408.0 225.6h1v1h-1zM320.0 210.9h1v1h-1zM335.6 208.6h1v1h-1zM312.9 207.9h1v1h-1zM305.3 220.7h1v1h-1zM307.9 222.4h1v1h-1zM391.9 214.6h1v1h-1zM338.0 206.7h1v1h-1zM311.3 212.0h1v1h-1zM381.4 210.9h1v1h-1zM319.1 211.0h1v1h-1zM324.8 206.4h1v1h-1zM349.2 206.4h1v1h-1zM404.1 220.2h1v1h-1zM327.6 204.9h1v1h-1zM409.3 233.7h1v1h-1zM385.0 211.9h1v1h-1zM403.2 237.6h1v1h-1zM411.2 225.8h1v1h-1zM310.4 225.4h1v1h-1zM353.5 207.5h1v1h-1z"/>
<path fill="#ffffff" d="M328.9 210.0h1v1h-1zM345.9 210.2h1v1h-1zM405.2 234.6h1v1h-1zM406.7 233.7h1v1h-1zM320.0 225.1h1v1h-1zM307.9 216.4h1v1h-1zM388.0 214.9h1v1h-1zM406.0 223.8h1v1h-1zM353.2 208.4h1v1h-1zM390.3 214.6h1v1h-1zM308.2 221.1h1v1h-1zM398.3 218.6h1v1h-1zM345.6 209.2h1v1h-1zM383.7 215.6h1v1h-1zM324.0 210.9h1v1h-1zM396.6 218.0h1v1h-1zM368.3 209.2h1v1h-1zM334.1 210.3h1v1h-1zM368.7 209.4h1v1h-1zM349.4 209.3h1v1h-1zM307.4 217.6h1v1h-1zM345.2 209.8h1v1h-1zM407.6 226.9h1v1h-1zM407.7 228.9h1v1h-1zM339.4 208.8h1v1h-1zM310.9 220.9h1v1h-1zM394.5 216.0h1v1h-1zM331.1 211.4h1v1h-1zM395.2 217.1h1v1h-1zM311.9 213.6h1v1h-1zM314.2 212.4h1v1h-1zM317.3 211.7h1v1h-1zM408.7 228.7h1v1h-1zM382.3 212.8h1v1h-1zM339.6 209.6h1v1h-1zM352.8 208.5h1v1h-1zM406.8 233.8h1v1h-1zM367.5 210.6h1v1h-1zM343.2 209.4h1v1h-1zM346.3 208.1h1v1h-1zM369.6 211.2h1v1h-1zM314.6 213.6h1v1h-1zM358.5 213.6h1v1h-1zM393.9 216.7h1v1h-1zM319.8 213.4h1v1h-1zM343.7 208.8h1v1h-1zM357.6 209.1h1v1h-1zM331.1 210.3h1v1h-1zM340.9 210.0h1v1h-1zM379.0 215.2h1v1h-1zM322.3 213.8h1v1h-1zM358.7 208.9h1v1h-1zM319.9 212.3h1v1h-1zM343.5 213.3h1v1h-1zM385.8 217.8h1v1h-1zM401.3 222.0h1v1h-1zM355.2 208.3h1v1h-1zM317.8 225.2h1v1h-1zM320.6 212.3h1v1h-1zM338.4 227.1h1v1h-1zM337.9 209.3h1v1h-1zM328.2 210.1h1v1h-1zM329.8 209.8h1v1h-1zM372.5 211.5h1v1h-1zM326.9 212.2h1v1h-1zM403.1 235.6h1v1h-1zM326.6 210.3h1v1h-1zM354.7 209.2h1v1h-1zM402.9 222.6h1v1h-1zM390.2 214.6h1v1h-1zM358.3 208.5h1v1h-1zM403.8 235.2h1v1h-1zM316.5 212.1h1v1h-1zM343.8 208.5h1v1h-1zM318.0 212.1h1v1h-1zM396.5 217.9h1v1h-1zM370.4 209.6h1v1h-1zM319.3 226.1h1v1h-1zM316.5 225.3h1v1h-1zM391.4 219.6h1v1h-1zM407.3 233.2h1v1h-1zM319.1 225.9h1v1h-1zM388.3 214.0h1v1h-1zM310.4 215.4h1v1h-1zM355.1 208.5h1v1h-1zM312.3 223.9h1v1h-1zM365.0 212.0h1v1h-1zM316.0 225.1h1v1h-1zM408.2 228.6h1v1h-1zM309.7 215.2h1v1h-1zM315.5 212.5h1v1h-1zM355.6 208.9h1v1h-1zM311.3 223.5h1v1h-1zM368.9 209.5h1v1h-1zM377.4 211.6h1v1h-1zM399.5 220.2h1v1h-1zM307.5 218.7h1v1h-1zM383.8 215.4h1v1h-1zM354.0 208.4h1v1h-1zM392.1 215.2h1v1h-1zM321.3 225.7h1v1h-1zM399.9 219.5h1v1h-1zM330.8 209.8h1v1h-1zM405.2 223.4h1v1h-1zM356.2 208.9h1v1h-1zM314.4 212.5h1v1h-1zM307.1 215.9h1v1h-1zM324.9 210.5h1v1h-1zM400.0 218.8h1v1h-1zM391.8 217.2h1v1h-1zM383.0 214.2h1v1h-1zM350.1 209.1h1v1h-1z"/>
<polygon points="328.3,229.9 328.2,230.0 328.2,230.0 328.2,230.1 328.2,230.1 328.2,230.2 328.2,231.9 328.2,232.0 328.2,232.0 328.2,232.1 328.2,232.1 328.3,232.2 328.3,232.2 328.3,232.3 328.4,232.3 328.4,232.4 328.5,232.4 328.5,232.4 328.6,232.4 328.6,232.5 334.0,234.3 341.0,237.0 349.9,240.5 349.9,240.5 360.5,243.7 360.6,243.7 360.6,243.7 373.0,245.5 373.1,245.5 373.1,245.5 385.5,244.9 385.6,244.9 393.9,243.3 393.9,243.3 394.0,243.3 394.0,243.2 396.1,242.2 396.1,242.2 399.1,240.4 399.2,240.4 399.2,240.3 399.2,240.3 399.3,240.3 399.3,240.2 399.3,240.2 399.4,240.1 399.4,240.0 399.4,240.0 399.4,239.9 399.4,239.9 399.4,239.8 399.4,239.7 399.4,239.7 399.3,239.6 398.7,238.4 399.1,238.2 399.2,238.2 399.2,238.1 399.2,238.1 399.3,238.1 399.3,238.0 399.3,238.0 399.4,237.9 399.4,237.8 399.4,237.8 399.4,237.7 399.4,237.7 399.4,237.6 399.4,237.5 399.4,237.5 399.3,237.4 398.4,235.6 398.4,235.6 398.4,235.5 398.3,235.5 398.3,235.4 398.3,235.4 394.7,232.8 394.6,232.8 394.6,232.8 394.5,232.7 387.5,230.0 387.5,230.0 387.4,230.0 373.2,227.4 373.1,227.4 355.4,226.1 355.4,226.1 337.7,226.5 337.6,226.5 328.7,227.4 328.7,227.4 328.6,227.4 328.6,227.4 328.5,227.5 328.5,227.5 328.4,227.5 328.4,227.6 328.3,227.6 328.3,227.7 328.3,227.7 328.2,227.8 328.2,227.8 328.2,227.9 328.2,227.9 328.2,228.0 328.2,229.7 328.2,229.8 328.2,229.8 328.2,229.9 328.2,229.9" fill="#5580B8"/>
<path fill="#5580B8" d="M339.6 236.7h1v1h-1zM366.9 244.2h1v1h-1zM334.9 225.9h1v1h-1zM387.2 245.1h1v1h-1zM342.4 238.3h1v1h-1zM398.7 235.6h1v1h-1zM329.1 233.5h1v1h-1zM363.3 225.9h1v1h-1zM376.1 245.8h1v1h-1zM339.6 236.3h1v1h-1zM333.3 226.4h1v1h-1zM373.8 226.5h1v1h-1zM343.9 225.8h1v1h-1zM336.0 225.6h1v1h-1zM358.5 244.4h1v1h-1zM364.3 224.7h1v1h-1zM394.6 231.2h1v1h-1zM370.3 244.7h1v1h-1zM365.0 225.5h1v1h-1zM396.2 233.5h1v1h-1zM326.4 228.0h1v1h-1zM354.2 224.1h1v1h-1zM329.9 233.3h1v1h-1zM346.3 225.8h1v1h-1zM363.0 225.6h1v1h-1zM393.4 230.9h1v1h-1zM395.5 233.0h1v1h-1zM372.1 226.2h1v1h-1zM348.8 241.0h1v1h-1zM399.3 238.3h1v1h-1zM398.6 234.4h1v1h-1zM333.4 235.1h1v1h-1zM344.7 239.3h1v1h-1zM359.5 225.4h1v1h-1zM355.8 223.0h1v1h-1zM374.2 245.0h1v1h-1zM397.2 233.8h1v1h-1zM330.1 233.4h1v1h-1zM361.4 244.1h1v1h-1zM336.6 225.6h1v1h-1zM353.2 241.6h1v1h-1zM380.9 244.7h1v1h-1zM391.8 231.2h1v1h-1zM401.6 234.2h1v1h-1zM324.1 227.5h1v1h-1zM386.8 229.3h1v1h-1zM342.7 225.7h1v1h-1zM360.5 245.1h1v1h-1zM355.5 242.1h1v1h-1zM334.3 225.1h1v1h-1zM348.0 241.0h1v1h-1zM400.0 238.0h1v1h-1zM384.7 227.4h1v1h-1zM345.4 239.0h1v1h-1zM341.8 225.3h1v1h-1zM358.1 225.3h1v1h-1zM345.1 239.8h1v1h-1zM373.0 245.0h1v1h-1zM384.4 245.2h1v1h-1zM359.9 243.6h1v1h-1zM363.1 225.9h1v1h-1zM326.6 227.0h1v1h-1zM328.6 234.4h1v1h-1zM367.4 244.3h1v1h-1zM353.2 242.5h1v1h-1zM390.7 227.7h1v1h-1zM375.7 247.9h1v1h-1zM372.4 226.7h1v1h-1zM359.7 244.4h1v1h-1zM393.7 232.0h1v1h-1zM332.9 234.0h1v1h-1zM381.1 245.7h1v1h-1zM329.2 232.9h1v1h-1zM355.5 242.0h1v1h-1zM388.9 230.1h1v1h-1zM336.0 225.4h1v1h-1zM398.7 234.7h1v1h-1zM384.5 245.6h1v1h-1zM395.1 232.7h1v1h-1zM380.1 226.8h1v1h-1zM351.5 225.6h1v1h-1zM387.3 229.6h1v1h-1zM388.1 226.5h1v1h-1zM352.0 225.0h1v1h-1zM398.7 242.0h1v1h-1zM396.2 232.6h1v1h-1zM345.6 240.4h1v1h-1zM346.4 225.7h1v1h-1zM365.5 225.4h1v1h-1z"/>
<path fill="#ffffff" d="M332.1 226.8h1v1h-1zM364.7 243.6h1v1h-1zM386.0 243.6h1v1h-1zM348.6 228.6h1v1h-1zM356.4 225.9h1v1h-1zM392.4 242.5h1v1h-1zM377.2 230.1h1v1h-1zM328.2 229.7h1v1h-1zM331.1 232.5h1v1h-1zM343.8 237.7h1v1h-1zM343.5 227.0h1v1h-1zM383.1 230.8h1v1h-1zM381.5 229.9h1v1h-1zM384.0 241.2h1v1h-1zM391.2 231.2h1v1h-1zM365.3 226.6h1v1h-1zM348.4 226.1h1v1h-1zM390.0 241.6h1v1h-1zM374.4 242.4h1v1h-1zM393.8 242.3h1v1h-1zM359.2 242.7h1v1h-1zM329.8 227.7h1v1h-1zM332.8 227.1h1v1h-1zM346.5 234.9h1v1h-1zM394.5 235.2h1v1h-1zM360.4 241.3h1v1h-1zM373.7 244.5h1v1h-1zM347.6 225.9h1v1h-1zM328.6 229.8h1v1h-1zM338.4 227.3h1v1h-1zM331.9 232.1h1v1h-1zM373.4 227.5h1v1h-1zM355.2 226.0h1v1h-1zM358.6 225.9h1v1h-1zM341.3 226.4h1v1h-1zM331.1 228.4h1v1h-1zM375.3 244.8h1v1h-1zM392.4 231.6h1v1h-1zM395.4 241.2h1v1h-1zM366.1 226.7h1v1h-1zM335.1 227.1h1v1h-1zM363.2 226.4h1v1h-1zM357.9 225.8h1v1h-1zM362.2 227.8h1v1h-1zM365.8 228.0h1v1h-1zM334.0 226.6h1v1h-1zM390.6 240.7h1v1h-1zM378.8 228.3h1v1h-1zM344.2 236.8h1v1h-1zM330.4 231.8h1v1h-1zM376.1 244.5h1v1h-1zM366.2 226.6h1v1h-1zM382.7 243.5h1v1h-1zM392.3 232.2h1v1h-1zM338.4 229.2h1v1h-1zM388.1 230.1h1v1h-1zM332.6 226.9h1v1h-1zM369.8 239.5h1v1h-1zM375.0 244.8h1v1h-1zM397.4 238.3h1v1h-1zM379.6 228.8h1v1h-1zM383.2 243.6h1v1h-1zM348.5 238.5h1v1h-1zM384.4 229.2h1v1h-1zM376.1 228.4h1v1h-1zM338.1 234.9h1v1h-1zM350.2 228.0h1v1h-1zM344.3 237.5h1v1h-1zM352.4 239.3h1v1h-1zM332.3 232.1h1v1h-1zM336.3 234.1h1v1h-1zM388.6 242.8h1v1h-1zM335.3 227.2h1v1h-1zM348.2 229.0h1v1h-1zM384.0 229.9h1v1h-1zM349.2 239.0h1v1h-1zM384.6 243.7h1v1h-1zM350.6 226.6h1v1h-1zM390.4 232.8h1v1h-1zM362.0 242.8h1v1h-1zM365.2 243.8h1v1h-1zM346.1 227.7h1v1h-1zM337.4 235.0h1v1h-1zM341.5 234.8h1v1h-1zM331.6 232.4h1v1h-1zM359.5 229.6h1v1h-1zM329.0 228.2h1v1h-1zM383.4 242.5h1v1h-1zM397.5 239.1h1v1h-1zM388.7 230.3h1v1h-1zM328.7 229.8h1v1h-1zM349.5 235.0h1v1h-1zM373.5 227.4h1v1h-1zM385.7 231.6h1v1h-1zM333.6 229.7h1v1h-1zM364.6 242.7h1v1h-1zM352.1 240.1h1v1h-1zM359.1 241.8h1v1h-1zM381.8 230.8h1v1h-1zM337.2 234.1h1v1h-1zM341.2 234.8h1v1h-1zM332.6 231.8h1v1h-1zM369.0 227.3h1v1h-1zM394.0 233.4h1v1h-1zM353.2 225.8h1v1h-1zM367.8 229.9h1v1h-1zM379.8 228.4h1v1h-1zM342.4 236.7h1v1h-1zM396.8 238.2h1v1h-1zM341.1 236.6h1v1h-1zM367.7 244.3h1v1h-1zM370.6 229.0h1v1h-1zM340.1 232.0h1v1h-1zM393.3 232.5h1v1h-1zM390.2 241.0h1v1h-1zM373.5 244.6h1v1h-1zM355.6 241.0h1v1h-1zM397.8 240.3h1v1h-1zM381.7 243.5h1v1h-1zM335.7 228.0h1v1h-1zM367.4 230.0h1v1h-1zM374.9 244.2h1v1h-1zM358.9 241.3h1v1h-1zM382.3 243.0h1v1h-1zM362.9 228.2h1v1h-1zM366.4 243.9h1v1h-1zM338.6 234.6h1v1h-1zM353.6 227.6h1v1h-1zM373.3 244.5h1v1h-1zM348.9 227.0h1v1h-1zM330.0 231.7h1v1h-1zM337.7 234.2h1v1h-1zM349.8 226.4h1v1h-1zM358.4 242.5h1v1h-1zM341.1 233.7h1v1h-1zM364.9 243.5h1v1h-1zM364.9 227.9h1v1h-1zM329.3 231.8h1v1h-1zM357.3 242.0h1v1h-1zM333.7 233.9h1v1h-1zM347.4 239.1h1v1h-1zM369.6 227.5h1v1h-1zM355.5 240.1h1v1h-1zM378.7 242.8h1v1h-1zM349.3 238.7h1v1h-1zM337.9 235.4h1v1h-1zM384.9 241.0h1v1h-1zM392.4 233.2h1v1h-1z"/>
<polygon points="311.1,254.9 312.3,253.3 314.8,251.9 317.8,251.4 320.9,250.2 322.7,249.6 324.5,251.6 327.0,253.8 325.7,256.0 323.3,257.4 319.6,258.0 315.4,258.0 312.3,256.9" fill="#5580B8"/>
<path fill="#5580B8" d="M325.2 256.4h1v1h-1zM321.7 248.3h1v1h-1zM314.6 249.8h1v1h-1zM314.1 259.2h1v1h-1z"/>
<path fill="#ffffff" d="M321.0 257.0h1v1h-1zM322.1 251.1h1v1h-1zM314.5 252.6h1v1h-1zM314.1 251.8h1v1h-1z"/>
<path fill="#5580B8" d="M329.8 237.8h1.3v1.3h-1.3zM332.4 234.8h1.3v1.3h-1.3zM334.4 244.8h1.3v1.3h-1.3zM334.4 246.7h1.3v1.3h-1.3zM329.0 247.7h1.3v1.3h-1.3zM328.2 250.3h1.3v1.3h-1.3zM337.4 232.3h1.3v1.3h-1.3z"/>
<polygon points="338.8,183.8 340.7,184.0 343.0,184.1 344.5,184.7 346.1,186.0 345.7,187.1 344.5,187.9 342.6,187.3 341.1,186.0 339.2,184.9" fill="#C62224"/>
<path fill="#C62224" d="M346.4 188.7h1v1h-1zM344.9 187.5h1v1h-1zM343.2 182.8h1v1h-1zM334.7 182.7h1v1h-1z"/>
<rect x="297.20" y="180.20" width="117.80" height="80.20" fill="none" stroke="#000" stroke-width="1.3"/>
<text x="307.4" y="270.7" font-size="8.80" text-anchor="middle" fill="#1a1a1a" stroke="#1a1a1a" stroke-width="0.22">−2</text>
<text x="328.8" y="270.7" font-size="8.80" text-anchor="middle" fill="#1a1a1a" stroke="#1a1a1a" stroke-width="0.22">−1</text>
<text x="350.5" y="270.7" font-size="8.80" text-anchor="middle" fill="#1a1a1a" stroke="#1a1a1a" stroke-width="0.22">0</text>
<text x="372.0" y="270.7" font-size="8.80" text-anchor="middle" fill="#1a1a1a" stroke="#1a1a1a" stroke-width="0.22">1</text>
<text x="393.7" y="270.7" font-size="8.80" text-anchor="middle" fill="#1a1a1a" stroke="#1a1a1a" stroke-width="0.22">2</text>
<text x="294.0" y="194.6" font-size="8.80" text-anchor="end" fill="#1a1a1a" stroke="#1a1a1a" stroke-width="0.22">6</text>
<text x="294.0" y="208.5" font-size="8.80" text-anchor="end" fill="#1a1a1a" stroke="#1a1a1a" stroke-width="0.22">4</text>
<text x="294.0" y="222.4" font-size="8.80" text-anchor="end" fill="#1a1a1a" stroke="#1a1a1a" stroke-width="0.22">2</text>
<text x="294.0" y="236.3" font-size="8.80" text-anchor="end" fill="#1a1a1a" stroke="#1a1a1a" stroke-width="0.22">0</text>
<text x="294.0" y="250.2" font-size="8.80" text-anchor="end" fill="#1a1a1a" stroke="#1a1a1a" stroke-width="0.22">−2</text>
<text x="294.0" y="264.1" font-size="8.80" text-anchor="end" fill="#1a1a1a" stroke="#1a1a1a" stroke-width="0.22">−4</text>
<text x="342.0" y="284.5" font-size="10.50" textLength="27.7" lengthAdjust="spacingAndGlyphs" fill="#1a1a1a" stroke="#1a1a1a" stroke-width="0.22">UMAP-1</text>
<text x="282.0" y="233.9" font-size="10.50" textLength="27.9" lengthAdjust="spacingAndGlyphs" transform="rotate(-90 282.0 233.9)" fill="#1a1a1a" stroke="#1a1a1a" stroke-width="0.22">UMAP-2</text>
<text x="300.6" y="321.3" font-size="10.00" font-style="italic" textLength="20.6" lengthAdjust="spacingAndGlyphs" fill="#1a1a1a" stroke="#1a1a1a" stroke-width="0.22">Car1</text>
<text x="418.5" y="321.4" font-size="10.00" font-style="italic" textLength="50.8" lengthAdjust="spacingAndGlyphs" fill="#1a1a1a" stroke="#1a1a1a" stroke-width="0.22">C1QTNF12</text>
<polygon points="305.1,358.9 305.5,360.0 307.1,361.2 309.4,362.1 313.4,363.4 318.4,364.8 318.4,364.8 322.5,366.1 322.5,366.1 322.6,366.2 322.7,366.2 326.6,368.9 331.5,371.5 337.6,373.3 345.3,375.5 351.3,376.4 358.3,377.3 364.3,377.8 370.2,377.5 373.8,376.6 377.8,374.7 377.8,374.7 382.0,372.8 382.0,372.8 382.1,372.8 382.2,372.8 386.4,372.1 388.2,370.1 389.3,366.9 388.2,364.6 385.9,362.1 382.9,359.9 379.1,357.7 374.1,356.0 374.1,356.0 369.1,354.2 363.2,352.9 357.1,352.0 351.1,351.5 345.9,351.2 338.4,351.0 330.3,351.5 324.3,352.4 318.3,353.3 312.4,354.3 307.9,356.0 306.1,357.5" fill="#FEF7F5"/>
<path fill="#E2735C" d="M370.4 355.1h1.1v1.1h-1.1zM363.4 360.3h1.1v1.1h-1.1zM329.9 358.1h1.1v1.1h-1.1zM365.4 366.8h1.1v1.1h-1.1zM362.1 354.7h1.1v1.1h-1.1zM329.9 368.1h1.1v1.1h-1.1zM328.0 362.0h1.1v1.1h-1.1zM319.5 361.4h1.1v1.1h-1.1zM310.6 360.1h1.1v1.1h-1.1zM348.1 367.4h1.1v1.1h-1.1zM353.0 360.9h1.1v1.1h-1.1zM359.4 371.5h1.1v1.1h-1.1zM331.8 357.4h1.1v1.1h-1.1zM338.0 371.5h1.1v1.1h-1.1zM361.5 359.4h1.1v1.1h-1.1zM307.4 358.4h1.1v1.1h-1.1zM357.5 371.6h1.1v1.1h-1.1zM335.4 359.7h1.1v1.1h-1.1zM352.9 367.1h1.1v1.1h-1.1zM356.6 354.3h1.1v1.1h-1.1zM324.1 360.5h1.1v1.1h-1.1zM336.5 372.0h1.1v1.1h-1.1zM317.5 351.7h1.1v1.1h-1.1zM362.6 372.3h1.1v1.1h-1.1zM334.9 372.8h1.1v1.1h-1.1zM320.1 352.1h1.1v1.1h-1.1zM375.1 365.5h1.1v1.1h-1.1zM321.5 358.8h1.1v1.1h-1.1zM308.6 355.2h1.1v1.1h-1.1zM339.6 354.2h1.1v1.1h-1.1zM328.5 368.8h1.1v1.1h-1.1z"/>
<path fill="#F2AE9C" d="M351.5 366.2h1.1v1.1h-1.1zM370.9 375.6h1.1v1.1h-1.1zM359.2 369.0h1.1v1.1h-1.1zM321.2 357.3h1.1v1.1h-1.1zM329.6 362.1h1.1v1.1h-1.1zM329.6 357.5h1.1v1.1h-1.1zM331.4 351.4h1.1v1.1h-1.1zM379.4 360.6h1.1v1.1h-1.1zM359.5 364.3h1.1v1.1h-1.1zM322.1 366.6h1.1v1.1h-1.1zM318.1 359.8h1.1v1.1h-1.1zM311.6 353.7h1.1v1.1h-1.1zM325.1 355.9h1.1v1.1h-1.1zM364.2 375.7h1.1v1.1h-1.1zM349.9 363.5h1.1v1.1h-1.1zM329.7 355.8h1.1v1.1h-1.1zM339.2 350.9h1.1v1.1h-1.1zM359.1 375.0h1.1v1.1h-1.1zM323.7 355.4h1.1v1.1h-1.1zM380.3 361.1h1.1v1.1h-1.1zM336.8 365.0h1.1v1.1h-1.1zM312.7 358.5h1.1v1.1h-1.1zM320.4 354.5h1.1v1.1h-1.1zM336.8 349.1h1.1v1.1h-1.1zM350.7 367.1h1.1v1.1h-1.1zM335.9 360.5h1.1v1.1h-1.1zM325.6 358.1h1.1v1.1h-1.1zM341.9 351.0h1.1v1.1h-1.1zM354.8 357.6h1.1v1.1h-1.1zM334.1 358.5h1.1v1.1h-1.1zM349.0 358.9h1.1v1.1h-1.1zM348.4 367.9h1.1v1.1h-1.1zM367.3 376.5h1.1v1.1h-1.1zM319.8 352.6h1.1v1.1h-1.1zM325.6 364.6h1.1v1.1h-1.1zM315.6 359.5h1.1v1.1h-1.1zM349.5 363.7h1.1v1.1h-1.1zM320.9 361.4h1.1v1.1h-1.1zM354.3 350.4h1.1v1.1h-1.1zM357.0 363.4h1.1v1.1h-1.1zM370.8 372.7h1.1v1.1h-1.1zM336.3 351.1h1.1v1.1h-1.1zM326.6 351.2h1.1v1.1h-1.1zM319.4 364.6h1.1v1.1h-1.1zM319.1 366.2h1.1v1.1h-1.1zM364.5 375.9h1.1v1.1h-1.1zM369.1 362.9h1.1v1.1h-1.1zM361.9 354.0h1.1v1.1h-1.1zM375.9 355.9h1.1v1.1h-1.1zM314.1 355.9h1.1v1.1h-1.1zM350.8 371.3h1.1v1.1h-1.1zM369.5 355.1h1.1v1.1h-1.1zM365.0 373.8h1.1v1.1h-1.1zM382.9 371.9h1.1v1.1h-1.1zM382.7 370.7h1.1v1.1h-1.1zM349.5 360.5h1.1v1.1h-1.1zM344.0 361.0h1.1v1.1h-1.1zM372.4 376.6h1.1v1.1h-1.1zM387.5 363.9h1.1v1.1h-1.1zM311.4 355.9h1.1v1.1h-1.1zM351.9 373.1h1.1v1.1h-1.1zM337.7 354.0h1.1v1.1h-1.1zM321.0 353.7h1.1v1.1h-1.1zM368.7 359.7h1.1v1.1h-1.1zM342.2 355.9h1.1v1.1h-1.1zM318.0 358.7h1.1v1.1h-1.1zM335.2 365.8h1.1v1.1h-1.1zM336.1 363.6h1.1v1.1h-1.1zM320.8 361.6h1.1v1.1h-1.1zM309.2 355.7h1.1v1.1h-1.1zM313.5 354.8h1.1v1.1h-1.1zM318.6 353.8h1.1v1.1h-1.1zM326.4 353.9h1.1v1.1h-1.1zM328.2 358.9h1.1v1.1h-1.1zM369.0 358.3h1.1v1.1h-1.1zM354.4 373.0h1.1v1.1h-1.1zM306.7 361.7h1.1v1.1h-1.1zM371.0 359.3h1.1v1.1h-1.1zM352.4 354.6h1.1v1.1h-1.1zM303.7 357.6h1.1v1.1h-1.1zM340.7 373.6h1.1v1.1h-1.1zM331.7 356.3h1.1v1.1h-1.1zM335.9 366.4h1.1v1.1h-1.1zM370.4 356.2h1.1v1.1h-1.1zM362.0 361.8h1.1v1.1h-1.1zM334.1 362.3h1.1v1.1h-1.1zM321.5 363.9h1.1v1.1h-1.1zM347.8 351.1h1.1v1.1h-1.1zM384.2 360.4h1.1v1.1h-1.1zM309.1 360.9h1.1v1.1h-1.1zM370.0 362.5h1.1v1.1h-1.1zM350.8 374.4h1.1v1.1h-1.1zM346.3 351.3h1.1v1.1h-1.1zM353.3 364.4h1.1v1.1h-1.1zM323.8 357.7h1.1v1.1h-1.1zM358.0 364.5h1.1v1.1h-1.1zM383.4 369.7h1.1v1.1h-1.1zM346.4 356.9h1.1v1.1h-1.1zM318.3 355.0h1.1v1.1h-1.1zM351.3 372.1h1.1v1.1h-1.1zM315.6 355.6h1.1v1.1h-1.1zM308.5 355.5h1.1v1.1h-1.1zM374.8 373.1h1.1v1.1h-1.1zM330.1 351.7h1.1v1.1h-1.1zM330.5 363.3h1.1v1.1h-1.1zM383.8 361.4h1.1v1.1h-1.1zM355.0 360.5h1.1v1.1h-1.1zM355.2 371.7h1.1v1.1h-1.1zM369.9 373.2h1.1v1.1h-1.1zM356.9 356.1h1.1v1.1h-1.1zM362.8 358.0h1.1v1.1h-1.1zM348.1 373.3h1.1v1.1h-1.1zM373.0 368.8h1.1v1.1h-1.1zM359.1 363.9h1.1v1.1h-1.1zM330.1 366.2h1.1v1.1h-1.1zM309.3 355.6h1.1v1.1h-1.1zM327.3 366.4h1.1v1.1h-1.1zM313.5 361.7h1.1v1.1h-1.1zM365.8 372.3h1.1v1.1h-1.1zM344.1 361.0h1.1v1.1h-1.1zM365.2 374.6h1.1v1.1h-1.1zM345.0 353.6h1.1v1.1h-1.1zM336.1 368.7h1.1v1.1h-1.1zM347.8 354.8h1.1v1.1h-1.1zM376.4 371.0h1.1v1.1h-1.1zM335.9 366.3h1.1v1.1h-1.1zM377.0 361.0h1.1v1.1h-1.1zM346.5 359.0h1.1v1.1h-1.1zM352.0 358.6h1.1v1.1h-1.1zM365.3 377.8h1.1v1.1h-1.1zM330.1 363.4h1.1v1.1h-1.1zM336.2 363.7h1.1v1.1h-1.1zM340.6 352.5h1.1v1.1h-1.1zM355.8 376.7h1.1v1.1h-1.1zM327.4 364.4h1.1v1.1h-1.1zM357.3 356.9h1.1v1.1h-1.1zM357.3 366.2h1.1v1.1h-1.1zM314.9 363.0h1.1v1.1h-1.1zM323.9 355.7h1.1v1.1h-1.1zM319.4 364.1h1.1v1.1h-1.1zM370.5 362.9h1.1v1.1h-1.1zM350.2 353.3h1.1v1.1h-1.1zM339.1 367.2h1.1v1.1h-1.1zM374.1 357.3h1.1v1.1h-1.1zM357.6 361.0h1.1v1.1h-1.1zM328.2 357.5h1.1v1.1h-1.1zM362.2 375.2h1.1v1.1h-1.1zM325.1 359.6h1.1v1.1h-1.1zM356.2 357.2h1.1v1.1h-1.1zM345.0 356.0h1.1v1.1h-1.1zM359.9 374.7h1.1v1.1h-1.1zM373.0 355.4h1.1v1.1h-1.1zM312.0 357.6h1.1v1.1h-1.1zM360.3 361.2h1.1v1.1h-1.1zM364.0 368.0h1.1v1.1h-1.1zM337.1 353.6h1.1v1.1h-1.1zM314.0 353.2h1.1v1.1h-1.1zM387.8 367.6h1.1v1.1h-1.1zM335.6 371.1h1.1v1.1h-1.1zM368.4 356.5h1.1v1.1h-1.1zM355.5 369.0h1.1v1.1h-1.1zM326.3 364.5h1.1v1.1h-1.1zM371.6 362.6h1.1v1.1h-1.1zM338.1 367.7h1.1v1.1h-1.1zM340.5 360.5h1.1v1.1h-1.1zM334.6 371.9h1.1v1.1h-1.1zM367.7 374.0h1.1v1.1h-1.1zM349.3 358.4h1.1v1.1h-1.1zM320.3 364.6h1.1v1.1h-1.1zM344.0 359.3h1.1v1.1h-1.1zM337.4 362.8h1.1v1.1h-1.1zM330.3 353.4h1.1v1.1h-1.1zM334.2 361.0h1.1v1.1h-1.1zM360.5 372.1h1.1v1.1h-1.1zM340.6 350.0h1.1v1.1h-1.1zM372.4 370.8h1.1v1.1h-1.1zM348.6 371.1h1.1v1.1h-1.1zM332.0 360.6h1.1v1.1h-1.1zM321.9 364.9h1.1v1.1h-1.1zM357.3 367.9h1.1v1.1h-1.1zM375.5 356.3h1.1v1.1h-1.1zM349.4 353.7h1.1v1.1h-1.1zM348.0 370.2h1.1v1.1h-1.1zM319.3 351.2h1.1v1.1h-1.1zM321.0 357.4h1.1v1.1h-1.1zM348.7 369.4h1.1v1.1h-1.1zM354.4 376.7h1.1v1.1h-1.1zM308.3 357.9h1.1v1.1h-1.1zM317.9 360.1h1.1v1.1h-1.1zM363.8 366.1h1.1v1.1h-1.1zM308.0 358.2h1.1v1.1h-1.1zM337.8 361.5h1.1v1.1h-1.1zM349.7 365.4h1.1v1.1h-1.1zM340.4 352.6h1.1v1.1h-1.1zM352.3 353.5h1.1v1.1h-1.1zM326.5 351.2h1.1v1.1h-1.1zM305.6 356.9h1.1v1.1h-1.1zM347.5 362.0h1.1v1.1h-1.1zM309.5 359.6h1.1v1.1h-1.1zM310.1 356.5h1.1v1.1h-1.1zM378.0 370.4h1.1v1.1h-1.1z"/>
<path fill="#FBE3DC" d="M372.0 364.0h1.1v1.1h-1.1zM382.1 363.6h1.1v1.1h-1.1zM342.1 365.4h1.1v1.1h-1.1zM370.7 364.3h1.1v1.1h-1.1zM368.5 359.9h1.1v1.1h-1.1zM348.2 352.5h1.1v1.1h-1.1zM368.6 377.1h1.1v1.1h-1.1zM357.3 361.0h1.1v1.1h-1.1zM352.1 372.7h1.1v1.1h-1.1zM319.9 360.9h1.1v1.1h-1.1zM370.2 365.6h1.1v1.1h-1.1zM361.5 370.3h1.1v1.1h-1.1zM352.2 364.6h1.1v1.1h-1.1zM355.2 362.4h1.1v1.1h-1.1zM346.5 373.6h1.1v1.1h-1.1zM347.9 358.0h1.1v1.1h-1.1zM311.2 357.5h1.1v1.1h-1.1zM368.0 353.4h1.1v1.1h-1.1zM377.0 359.3h1.1v1.1h-1.1zM337.8 352.6h1.1v1.1h-1.1zM307.1 357.5h1.1v1.1h-1.1zM331.2 349.9h1.1v1.1h-1.1zM357.1 366.3h1.1v1.1h-1.1zM362.0 371.5h1.1v1.1h-1.1zM365.1 362.8h1.1v1.1h-1.1zM340.0 355.3h1.1v1.1h-1.1zM355.3 358.3h1.1v1.1h-1.1zM367.3 364.5h1.1v1.1h-1.1zM359.0 359.2h1.1v1.1h-1.1zM368.6 370.5h1.1v1.1h-1.1zM368.4 361.5h1.1v1.1h-1.1zM332.4 358.0h1.1v1.1h-1.1zM355.8 365.0h1.1v1.1h-1.1zM360.2 375.4h1.1v1.1h-1.1zM322.8 363.6h1.1v1.1h-1.1zM381.0 373.1h1.1v1.1h-1.1zM339.2 372.4h1.1v1.1h-1.1zM378.7 356.3h1.1v1.1h-1.1zM317.3 358.2h1.1v1.1h-1.1zM363.1 377.5h1.1v1.1h-1.1zM370.2 361.9h1.1v1.1h-1.1zM368.4 377.1h1.1v1.1h-1.1zM352.3 363.6h1.1v1.1h-1.1zM350.6 360.6h1.1v1.1h-1.1zM346.9 371.0h1.1v1.1h-1.1zM341.1 353.3h1.1v1.1h-1.1zM342.8 361.6h1.1v1.1h-1.1zM352.5 367.7h1.1v1.1h-1.1zM353.9 358.4h1.1v1.1h-1.1zM380.2 359.1h1.1v1.1h-1.1zM346.2 354.3h1.1v1.1h-1.1zM364.6 363.9h1.1v1.1h-1.1zM373.2 360.2h1.1v1.1h-1.1zM381.2 371.8h1.1v1.1h-1.1zM341.0 364.4h1.1v1.1h-1.1zM332.4 358.5h1.1v1.1h-1.1zM353.4 365.6h1.1v1.1h-1.1zM389.5 368.8h1.1v1.1h-1.1zM323.0 361.8h1.1v1.1h-1.1zM370.6 370.1h1.1v1.1h-1.1zM373.6 371.8h1.1v1.1h-1.1zM340.5 363.8h1.1v1.1h-1.1zM381.4 370.1h1.1v1.1h-1.1zM329.0 361.6h1.1v1.1h-1.1zM313.8 356.1h1.1v1.1h-1.1zM346.6 350.7h1.1v1.1h-1.1zM315.1 363.3h1.1v1.1h-1.1zM389.5 366.8h1.1v1.1h-1.1zM358.0 361.1h1.1v1.1h-1.1zM327.7 366.3h1.1v1.1h-1.1zM354.7 376.2h1.1v1.1h-1.1zM377.2 365.2h1.1v1.1h-1.1zM357.1 375.3h1.1v1.1h-1.1zM376.4 364.3h1.1v1.1h-1.1zM361.3 370.0h1.1v1.1h-1.1zM352.0 361.8h1.1v1.1h-1.1zM368.7 354.7h1.1v1.1h-1.1zM355.6 368.9h1.1v1.1h-1.1zM364.2 368.2h1.1v1.1h-1.1zM342.8 363.9h1.1v1.1h-1.1zM362.1 357.5h1.1v1.1h-1.1zM344.3 369.6h1.1v1.1h-1.1zM356.0 364.2h1.1v1.1h-1.1zM373.5 360.6h1.1v1.1h-1.1zM340.9 354.1h1.1v1.1h-1.1zM360.0 358.6h1.1v1.1h-1.1zM348.9 360.1h1.1v1.1h-1.1zM305.6 358.4h1.1v1.1h-1.1zM364.6 358.0h1.1v1.1h-1.1zM354.2 354.0h1.1v1.1h-1.1zM313.8 360.5h1.1v1.1h-1.1zM310.7 355.7h1.1v1.1h-1.1zM358.4 367.6h1.1v1.1h-1.1zM379.3 374.0h1.1v1.1h-1.1zM380.5 365.8h1.1v1.1h-1.1zM361.1 352.6h1.1v1.1h-1.1zM373.0 371.6h1.1v1.1h-1.1zM321.3 354.8h1.1v1.1h-1.1zM311.4 362.5h1.1v1.1h-1.1zM340.3 372.4h1.1v1.1h-1.1zM351.3 357.4h1.1v1.1h-1.1zM367.4 355.9h1.1v1.1h-1.1zM329.2 349.6h1.1v1.1h-1.1zM346.4 355.8h1.1v1.1h-1.1zM372.1 354.7h1.1v1.1h-1.1zM377.0 374.3h1.1v1.1h-1.1zM355.8 365.0h1.1v1.1h-1.1zM334.8 367.6h1.1v1.1h-1.1zM356.0 359.5h1.1v1.1h-1.1zM357.5 372.8h1.1v1.1h-1.1zM383.0 372.1h1.1v1.1h-1.1zM355.2 365.3h1.1v1.1h-1.1zM340.4 350.7h1.1v1.1h-1.1zM356.1 376.2h1.1v1.1h-1.1zM387.5 367.0h1.1v1.1h-1.1zM378.4 367.1h1.1v1.1h-1.1zM357.8 363.8h1.1v1.1h-1.1zM330.1 370.8h1.1v1.1h-1.1zM350.5 362.1h1.1v1.1h-1.1zM364.6 362.2h1.1v1.1h-1.1zM327.4 365.2h1.1v1.1h-1.1zM370.3 364.6h1.1v1.1h-1.1zM306.7 356.8h1.1v1.1h-1.1zM372.2 377.8h1.1v1.1h-1.1zM361.2 359.3h1.1v1.1h-1.1zM362.0 353.0h1.1v1.1h-1.1zM330.4 362.2h1.1v1.1h-1.1zM361.8 369.1h1.1v1.1h-1.1zM335.2 362.7h1.1v1.1h-1.1zM323.9 358.5h1.1v1.1h-1.1zM370.0 370.6h1.1v1.1h-1.1zM371.2 354.9h1.1v1.1h-1.1zM371.5 361.8h1.1v1.1h-1.1zM325.4 352.1h1.1v1.1h-1.1zM362.3 361.4h1.1v1.1h-1.1zM361.2 364.9h1.1v1.1h-1.1zM327.9 362.0h1.1v1.1h-1.1zM372.5 363.6h1.1v1.1h-1.1zM378.8 364.0h1.1v1.1h-1.1zM333.7 349.5h1.1v1.1h-1.1zM338.5 369.8h1.1v1.1h-1.1zM367.5 373.5h1.1v1.1h-1.1zM358.9 356.7h1.1v1.1h-1.1zM385.8 361.5h1.1v1.1h-1.1zM356.6 368.3h1.1v1.1h-1.1zM324.3 363.8h1.1v1.1h-1.1zM368.0 362.9h1.1v1.1h-1.1zM322.6 350.8h1.1v1.1h-1.1zM358.9 362.8h1.1v1.1h-1.1zM356.5 359.1h1.1v1.1h-1.1zM335.1 358.8h1.1v1.1h-1.1zM361.3 364.2h1.1v1.1h-1.1zM370.3 370.7h1.1v1.1h-1.1zM350.2 365.8h1.1v1.1h-1.1zM356.0 353.6h1.1v1.1h-1.1zM350.4 370.3h1.1v1.1h-1.1zM353.2 363.5h1.1v1.1h-1.1zM360.4 375.6h1.1v1.1h-1.1zM353.1 362.8h1.1v1.1h-1.1zM355.4 352.0h1.1v1.1h-1.1zM369.4 363.3h1.1v1.1h-1.1zM364.5 362.1h1.1v1.1h-1.1zM370.4 367.3h1.1v1.1h-1.1zM371.7 366.5h1.1v1.1h-1.1zM331.6 351.8h1.1v1.1h-1.1zM364.6 373.7h1.1v1.1h-1.1zM330.6 362.1h1.1v1.1h-1.1zM359.4 371.6h1.1v1.1h-1.1zM347.8 366.0h1.1v1.1h-1.1zM374.6 375.0h1.1v1.1h-1.1zM361.5 371.6h1.1v1.1h-1.1zM336.5 356.9h1.1v1.1h-1.1zM365.3 362.5h1.1v1.1h-1.1zM355.0 357.1h1.1v1.1h-1.1zM371.3 358.5h1.1v1.1h-1.1zM357.2 370.6h1.1v1.1h-1.1zM365.9 371.1h1.1v1.1h-1.1zM372.4 375.5h1.1v1.1h-1.1zM372.2 361.6h1.1v1.1h-1.1zM308.7 357.1h1.1v1.1h-1.1zM368.4 371.5h1.1v1.1h-1.1zM350.0 365.7h1.1v1.1h-1.1zM336.0 360.4h1.1v1.1h-1.1zM383.8 369.7h1.1v1.1h-1.1zM382.6 368.2h1.1v1.1h-1.1zM371.0 375.8h1.1v1.1h-1.1zM328.5 353.4h1.1v1.1h-1.1zM349.5 356.0h1.1v1.1h-1.1zM384.2 365.9h1.1v1.1h-1.1zM312.7 358.5h1.1v1.1h-1.1zM354.4 368.5h1.1v1.1h-1.1zM378.2 360.0h1.1v1.1h-1.1zM361.1 377.5h1.1v1.1h-1.1zM325.9 362.7h1.1v1.1h-1.1zM328.8 353.2h1.1v1.1h-1.1zM362.4 375.8h1.1v1.1h-1.1zM343.8 356.3h1.1v1.1h-1.1zM336.1 351.3h1.1v1.1h-1.1zM353.7 357.0h1.1v1.1h-1.1zM343.4 375.5h1.1v1.1h-1.1zM337.8 365.2h1.1v1.1h-1.1zM371.2 375.7h1.1v1.1h-1.1zM383.8 362.9h1.1v1.1h-1.1zM330.3 365.9h1.1v1.1h-1.1zM382.4 360.7h1.1v1.1h-1.1zM312.9 352.8h1.1v1.1h-1.1zM360.4 367.6h1.1v1.1h-1.1zM366.5 376.1h1.1v1.1h-1.1zM336.9 357.7h1.1v1.1h-1.1zM334.3 370.1h1.1v1.1h-1.1zM363.1 374.9h1.1v1.1h-1.1zM355.4 363.7h1.1v1.1h-1.1zM351.7 376.4h1.1v1.1h-1.1zM382.0 363.5h1.1v1.1h-1.1zM384.2 368.6h1.1v1.1h-1.1zM327.7 366.6h1.1v1.1h-1.1zM353.8 350.5h1.1v1.1h-1.1zM374.8 371.1h1.1v1.1h-1.1zM368.7 371.5h1.1v1.1h-1.1zM335.3 363.2h1.1v1.1h-1.1zM345.0 360.4h1.1v1.1h-1.1zM358.8 352.5h1.1v1.1h-1.1zM324.3 366.1h1.1v1.1h-1.1zM370.0 359.2h1.1v1.1h-1.1zM381.6 359.2h1.1v1.1h-1.1zM361.2 357.9h1.1v1.1h-1.1zM332.9 358.4h1.1v1.1h-1.1zM385.9 360.5h1.1v1.1h-1.1zM352.3 355.0h1.1v1.1h-1.1zM345.2 371.1h1.1v1.1h-1.1zM352.2 358.4h1.1v1.1h-1.1zM331.3 357.3h1.1v1.1h-1.1zM364.1 368.9h1.1v1.1h-1.1zM379.0 357.5h1.1v1.1h-1.1zM311.8 358.8h1.1v1.1h-1.1zM327.3 362.9h1.1v1.1h-1.1zM340.8 361.0h1.1v1.1h-1.1zM361.2 377.6h1.1v1.1h-1.1zM346.1 365.4h1.1v1.1h-1.1zM321.2 358.9h1.1v1.1h-1.1zM336.3 360.6h1.1v1.1h-1.1zM309.6 360.2h1.1v1.1h-1.1zM360.0 375.5h1.1v1.1h-1.1zM379.2 362.6h1.1v1.1h-1.1zM388.6 368.0h1.1v1.1h-1.1zM367.3 360.8h1.1v1.1h-1.1zM367.3 356.3h1.1v1.1h-1.1zM344.0 370.2h1.1v1.1h-1.1zM355.0 372.2h1.1v1.1h-1.1zM371.5 372.1h1.1v1.1h-1.1zM350.8 356.8h1.1v1.1h-1.1zM312.7 354.4h1.1v1.1h-1.1zM381.9 364.3h1.1v1.1h-1.1zM354.5 377.1h1.1v1.1h-1.1zM361.2 357.2h1.1v1.1h-1.1zM364.0 353.0h1.1v1.1h-1.1zM352.3 364.6h1.1v1.1h-1.1zM345.1 367.9h1.1v1.1h-1.1zM378.5 362.0h1.1v1.1h-1.1zM377.8 368.8h1.1v1.1h-1.1zM362.2 369.3h1.1v1.1h-1.1zM378.1 362.3h1.1v1.1h-1.1zM345.8 363.4h1.1v1.1h-1.1zM344.4 357.6h1.1v1.1h-1.1zM360.4 376.9h1.1v1.1h-1.1zM344.9 370.1h1.1v1.1h-1.1zM330.2 366.9h1.1v1.1h-1.1zM355.6 374.6h1.1v1.1h-1.1zM344.1 359.4h1.1v1.1h-1.1zM351.0 376.0h1.1v1.1h-1.1zM350.7 374.9h1.1v1.1h-1.1zM373.3 371.3h1.1v1.1h-1.1zM346.5 365.3h1.1v1.1h-1.1zM355.9 374.5h1.1v1.1h-1.1zM356.3 370.5h1.1v1.1h-1.1zM346.4 361.8h1.1v1.1h-1.1zM387.7 371.8h1.1v1.1h-1.1zM369.0 363.4h1.1v1.1h-1.1zM358.8 366.2h1.1v1.1h-1.1zM346.4 357.4h1.1v1.1h-1.1zM310.3 362.0h1.1v1.1h-1.1zM389.8 365.6h1.1v1.1h-1.1zM367.6 368.2h1.1v1.1h-1.1zM369.0 376.4h1.1v1.1h-1.1zM366.9 369.3h1.1v1.1h-1.1zM333.1 369.0h1.1v1.1h-1.1zM351.1 359.0h1.1v1.1h-1.1zM347.0 366.5h1.1v1.1h-1.1zM334.6 358.7h1.1v1.1h-1.1zM329.3 355.9h1.1v1.1h-1.1zM351.4 367.0h1.1v1.1h-1.1zM361.1 368.1h1.1v1.1h-1.1zM344.6 363.0h1.1v1.1h-1.1zM326.1 359.4h1.1v1.1h-1.1zM354.4 370.7h1.1v1.1h-1.1zM367.0 357.8h1.1v1.1h-1.1zM372.4 361.6h1.1v1.1h-1.1zM375.2 371.3h1.1v1.1h-1.1zM352.0 351.7h1.1v1.1h-1.1zM344.0 368.5h1.1v1.1h-1.1zM378.4 365.3h1.1v1.1h-1.1zM358.9 372.2h1.1v1.1h-1.1zM360.5 359.6h1.1v1.1h-1.1zM375.6 369.8h1.1v1.1h-1.1zM345.1 360.7h1.1v1.1h-1.1zM330.3 366.6h1.1v1.1h-1.1zM369.8 354.6h1.1v1.1h-1.1zM335.1 366.1h1.1v1.1h-1.1zM364.3 375.0h1.1v1.1h-1.1zM323.0 354.3h1.1v1.1h-1.1zM357.4 354.0h1.1v1.1h-1.1zM315.4 355.2h1.1v1.1h-1.1zM367.8 364.7h1.1v1.1h-1.1zM378.0 358.0h1.1v1.1h-1.1zM358.3 358.4h1.1v1.1h-1.1zM382.7 362.2h1.1v1.1h-1.1zM346.2 365.4h1.1v1.1h-1.1zM349.7 356.7h1.1v1.1h-1.1zM340.9 354.2h1.1v1.1h-1.1zM339.3 367.7h1.1v1.1h-1.1zM345.6 352.5h1.1v1.1h-1.1zM347.9 352.3h1.1v1.1h-1.1zM363.3 369.7h1.1v1.1h-1.1zM364.7 368.0h1.1v1.1h-1.1zM359.2 364.1h1.1v1.1h-1.1zM321.3 359.6h1.1v1.1h-1.1zM336.2 360.3h1.1v1.1h-1.1zM358.4 364.8h1.1v1.1h-1.1zM352.5 369.2h1.1v1.1h-1.1zM374.5 359.4h1.1v1.1h-1.1zM350.8 356.3h1.1v1.1h-1.1zM368.7 378.0h1.1v1.1h-1.1zM362.4 356.0h1.1v1.1h-1.1zM385.5 368.1h1.1v1.1h-1.1zM365.0 368.7h1.1v1.1h-1.1zM347.8 356.6h1.1v1.1h-1.1zM318.7 361.1h1.1v1.1h-1.1zM377.8 357.7h1.1v1.1h-1.1zM377.9 365.9h1.1v1.1h-1.1zM319.1 351.6h1.1v1.1h-1.1zM342.2 361.7h1.1v1.1h-1.1zM351.3 363.1h1.1v1.1h-1.1zM335.0 362.8h1.1v1.1h-1.1zM349.7 358.7h1.1v1.1h-1.1zM346.9 354.2h1.1v1.1h-1.1zM361.9 363.7h1.1v1.1h-1.1zM367.9 371.5h1.1v1.1h-1.1zM333.5 350.9h1.1v1.1h-1.1zM345.1 351.7h1.1v1.1h-1.1zM318.9 363.3h1.1v1.1h-1.1zM327.8 366.9h1.1v1.1h-1.1zM349.2 375.1h1.1v1.1h-1.1zM369.4 355.1h1.1v1.1h-1.1zM343.6 369.2h1.1v1.1h-1.1zM347.1 355.0h1.1v1.1h-1.1zM363.7 372.2h1.1v1.1h-1.1zM368.3 356.5h1.1v1.1h-1.1zM366.5 367.8h1.1v1.1h-1.1zM335.2 370.1h1.1v1.1h-1.1zM368.6 374.9h1.1v1.1h-1.1zM368.1 353.5h1.1v1.1h-1.1zM340.6 359.4h1.1v1.1h-1.1zM362.1 360.3h1.1v1.1h-1.1zM313.3 363.5h1.1v1.1h-1.1zM355.1 374.1h1.1v1.1h-1.1zM315.1 362.0h1.1v1.1h-1.1zM330.6 355.9h1.1v1.1h-1.1zM355.2 376.9h1.1v1.1h-1.1z"/>
<polygon points="308.8,387.8 309.8,386.4 311.9,385.3 314.4,384.9 316.9,383.9 318.4,383.5 319.9,385.1 322.0,386.9 320.9,388.6 318.9,389.8 315.9,390.3 312.4,390.3 309.8,389.4" fill="#FBEEEA"/>
<path fill="#E2735C" d="M319.4 388.5h1.1v1.1h-1.1zM319.1 388.7h1.1v1.1h-1.1zM315.9 389.8h1.1v1.1h-1.1z"/>
<path fill="#F2AE9C" d="M315.2 385.8h1.1v1.1h-1.1zM318.9 384.3h1.1v1.1h-1.1zM309.2 388.0h1.1v1.1h-1.1zM311.7 386.3h1.1v1.1h-1.1zM317.0 388.1h1.1v1.1h-1.1zM314.8 388.0h1.1v1.1h-1.1zM315.2 386.3h1.1v1.1h-1.1zM318.7 383.6h1.1v1.1h-1.1zM309.4 388.4h1.1v1.1h-1.1zM313.2 389.9h1.1v1.1h-1.1zM315.3 385.7h1.1v1.1h-1.1zM315.3 384.3h1.1v1.1h-1.1z"/>
<path fill="#FBE3DC" d="M319.0 388.3h1.1v1.1h-1.1zM312.2 389.1h1.1v1.1h-1.1zM319.5 387.0h1.1v1.1h-1.1zM314.8 384.8h1.1v1.1h-1.1zM320.7 385.5h1.1v1.1h-1.1zM316.7 388.8h1.1v1.1h-1.1zM318.0 385.2h1.1v1.1h-1.1zM317.3 389.4h1.1v1.1h-1.1zM311.8 385.8h1.1v1.1h-1.1zM318.7 384.2h1.1v1.1h-1.1zM319.5 384.5h1.1v1.1h-1.1zM310.8 389.3h1.1v1.1h-1.1z"/>
<path fill="#F2AE9C" d="M337.0 331.1h1.1v1.1h-1.1zM331.6 330.0h1.1v1.1h-1.1z"/>
<path fill="#FBE3DC" d="M336.9 332.8h1.1v1.1h-1.1z"/>
<polygon points="325.2,365.4 325.8,367.3 329.5,369.6 336.4,373.1 345.3,376.5 354.1,378.0 363.0,378.2 372.8,377.3 378.5,375.6 380.7,373.4 379.4,371.8 373.7,369.2 364.8,367.0 344.9,363.0 335.0,362.5 328.4,363.5" fill="#F4CFC4"/>
<path fill="#B82A22" d="M361.6 366.3h1.1v1.1h-1.1zM357.1 370.6h1.1v1.1h-1.1zM365.5 374.4h1.1v1.1h-1.1zM361.6 375.8h1.1v1.1h-1.1zM346.6 367.6h1.1v1.1h-1.1zM354.2 375.1h1.1v1.1h-1.1zM353.7 365.9h1.1v1.1h-1.1zM365.0 368.0h1.1v1.1h-1.1zM356.1 369.5h1.1v1.1h-1.1zM354.5 368.3h1.1v1.1h-1.1zM362.2 369.7h1.1v1.1h-1.1zM339.1 373.3h1.1v1.1h-1.1zM364.1 373.3h1.1v1.1h-1.1zM335.1 367.1h1.1v1.1h-1.1zM353.8 372.4h1.1v1.1h-1.1zM363.2 372.0h1.1v1.1h-1.1zM360.5 369.1h1.1v1.1h-1.1zM341.1 368.2h1.1v1.1h-1.1zM351.9 369.9h1.1v1.1h-1.1zM360.2 375.3h1.1v1.1h-1.1zM366.5 367.0h1.1v1.1h-1.1zM343.9 366.5h1.1v1.1h-1.1zM346.4 369.4h1.1v1.1h-1.1zM365.0 370.4h1.1v1.1h-1.1zM336.3 368.6h1.1v1.1h-1.1zM331.5 367.1h1.1v1.1h-1.1zM363.2 373.5h1.1v1.1h-1.1zM338.3 373.2h1.1v1.1h-1.1zM329.0 366.2h1.1v1.1h-1.1zM355.1 374.3h1.1v1.1h-1.1zM339.9 366.1h1.1v1.1h-1.1zM349.6 364.7h1.1v1.1h-1.1zM343.8 371.0h1.1v1.1h-1.1zM350.5 371.8h1.1v1.1h-1.1zM359.0 375.8h1.1v1.1h-1.1zM351.7 370.7h1.1v1.1h-1.1zM350.1 370.7h1.1v1.1h-1.1zM339.8 370.6h1.1v1.1h-1.1zM365.7 366.6h1.1v1.1h-1.1zM355.7 375.5h1.1v1.1h-1.1zM374.0 371.5h1.1v1.1h-1.1zM364.6 368.4h1.1v1.1h-1.1zM372.9 371.0h1.1v1.1h-1.1zM347.3 369.3h1.1v1.1h-1.1zM345.0 375.7h1.1v1.1h-1.1zM364.3 375.7h1.1v1.1h-1.1zM363.2 372.1h1.1v1.1h-1.1zM342.9 373.3h1.1v1.1h-1.1zM371.7 369.6h1.1v1.1h-1.1zM362.8 371.6h1.1v1.1h-1.1zM345.7 371.3h1.1v1.1h-1.1zM339.8 367.9h1.1v1.1h-1.1zM362.7 371.3h1.1v1.1h-1.1zM358.8 365.0h1.1v1.1h-1.1zM352.7 369.2h1.1v1.1h-1.1zM348.0 373.7h1.1v1.1h-1.1zM349.6 371.2h1.1v1.1h-1.1zM361.0 373.1h1.1v1.1h-1.1zM349.5 370.4h1.1v1.1h-1.1zM331.0 371.0h1.1v1.1h-1.1zM345.8 370.4h1.1v1.1h-1.1zM352.9 373.3h1.1v1.1h-1.1zM337.2 365.6h1.1v1.1h-1.1zM359.4 365.3h1.1v1.1h-1.1zM344.9 364.0h1.1v1.1h-1.1zM348.2 362.8h1.1v1.1h-1.1zM331.7 367.6h1.1v1.1h-1.1zM334.4 370.0h1.1v1.1h-1.1zM354.2 367.3h1.1v1.1h-1.1zM336.7 372.3h1.1v1.1h-1.1zM341.6 370.2h1.1v1.1h-1.1zM356.0 368.6h1.1v1.1h-1.1zM361.5 369.7h1.1v1.1h-1.1zM337.0 369.8h1.1v1.1h-1.1zM366.8 372.5h1.1v1.1h-1.1zM347.0 364.6h1.1v1.1h-1.1zM353.9 369.7h1.1v1.1h-1.1zM353.2 365.0h1.1v1.1h-1.1zM354.0 369.6h1.1v1.1h-1.1zM341.2 363.4h1.1v1.1h-1.1zM359.2 372.8h1.1v1.1h-1.1zM352.8 368.1h1.1v1.1h-1.1zM374.6 375.9h1.1v1.1h-1.1zM336.1 365.2h1.1v1.1h-1.1zM352.5 374.1h1.1v1.1h-1.1zM373.3 370.5h1.1v1.1h-1.1zM346.8 374.9h1.1v1.1h-1.1zM363.9 370.6h1.1v1.1h-1.1zM355.9 372.9h1.1v1.1h-1.1zM361.3 367.2h1.1v1.1h-1.1zM338.4 363.0h1.1v1.1h-1.1zM347.5 375.6h1.1v1.1h-1.1zM364.7 366.4h1.1v1.1h-1.1zM355.3 374.1h1.1v1.1h-1.1zM354.8 368.3h1.1v1.1h-1.1zM359.7 374.9h1.1v1.1h-1.1zM358.1 368.3h1.1v1.1h-1.1zM358.7 373.5h1.1v1.1h-1.1zM340.7 366.8h1.1v1.1h-1.1zM351.0 375.7h1.1v1.1h-1.1z"/>
<path fill="#CC4433" d="M338.6 368.5h1.1v1.1h-1.1zM369.9 372.8h1.1v1.1h-1.1zM345.9 368.0h1.1v1.1h-1.1zM333.7 370.4h1.1v1.1h-1.1zM352.0 368.4h1.1v1.1h-1.1zM334.4 369.7h1.1v1.1h-1.1zM366.0 367.7h1.1v1.1h-1.1zM352.5 371.8h1.1v1.1h-1.1zM357.6 371.3h1.1v1.1h-1.1zM360.9 367.4h1.1v1.1h-1.1zM356.9 364.5h1.1v1.1h-1.1zM344.9 366.5h1.1v1.1h-1.1zM370.3 366.1h1.1v1.1h-1.1zM349.6 371.2h1.1v1.1h-1.1zM360.6 374.6h1.1v1.1h-1.1zM356.8 364.0h1.1v1.1h-1.1zM334.4 369.1h1.1v1.1h-1.1zM341.7 367.7h1.1v1.1h-1.1zM331.9 366.7h1.1v1.1h-1.1zM341.4 367.1h1.1v1.1h-1.1zM343.1 373.2h1.1v1.1h-1.1zM339.6 369.7h1.1v1.1h-1.1zM355.1 374.2h1.1v1.1h-1.1zM355.8 375.4h1.1v1.1h-1.1zM363.5 375.7h1.1v1.1h-1.1zM345.8 363.4h1.1v1.1h-1.1zM350.3 376.5h1.1v1.1h-1.1zM340.8 364.2h1.1v1.1h-1.1zM371.5 377.3h1.1v1.1h-1.1zM370.7 371.5h1.1v1.1h-1.1zM349.8 375.1h1.1v1.1h-1.1zM331.0 369.2h1.1v1.1h-1.1zM351.4 376.0h1.1v1.1h-1.1zM348.0 368.6h1.1v1.1h-1.1zM367.5 369.4h1.1v1.1h-1.1zM374.6 376.2h1.1v1.1h-1.1zM374.3 367.3h1.1v1.1h-1.1zM348.1 369.5h1.1v1.1h-1.1zM323.9 365.2h1.1v1.1h-1.1zM347.2 373.6h1.1v1.1h-1.1zM349.4 366.4h1.1v1.1h-1.1zM327.7 366.3h1.1v1.1h-1.1zM335.9 372.5h1.1v1.1h-1.1zM367.4 377.0h1.1v1.1h-1.1zM347.9 363.8h1.1v1.1h-1.1zM338.9 363.5h1.1v1.1h-1.1zM351.9 369.2h1.1v1.1h-1.1zM350.5 376.6h1.1v1.1h-1.1zM329.8 368.2h1.1v1.1h-1.1zM356.5 367.2h1.1v1.1h-1.1zM364.1 377.2h1.1v1.1h-1.1zM364.9 368.8h1.1v1.1h-1.1zM361.0 374.1h1.1v1.1h-1.1zM336.4 363.3h1.1v1.1h-1.1zM345.6 373.4h1.1v1.1h-1.1zM333.8 366.7h1.1v1.1h-1.1zM352.1 374.8h1.1v1.1h-1.1zM355.0 374.0h1.1v1.1h-1.1zM333.6 366.6h1.1v1.1h-1.1zM359.8 369.8h1.1v1.1h-1.1zM348.4 374.6h1.1v1.1h-1.1zM360.9 367.6h1.1v1.1h-1.1zM343.4 371.1h1.1v1.1h-1.1zM346.7 364.6h1.1v1.1h-1.1zM366.3 366.9h1.1v1.1h-1.1zM347.1 367.3h1.1v1.1h-1.1zM355.1 366.9h1.1v1.1h-1.1zM334.6 365.6h1.1v1.1h-1.1zM357.3 372.2h1.1v1.1h-1.1zM367.0 367.5h1.1v1.1h-1.1zM359.6 370.6h1.1v1.1h-1.1zM373.1 369.3h1.1v1.1h-1.1zM359.5 372.8h1.1v1.1h-1.1zM360.1 373.2h1.1v1.1h-1.1zM335.0 367.0h1.1v1.1h-1.1zM351.6 364.9h1.1v1.1h-1.1zM344.1 364.5h1.1v1.1h-1.1zM350.9 371.4h1.1v1.1h-1.1zM333.7 370.5h1.1v1.1h-1.1zM353.7 373.0h1.1v1.1h-1.1zM363.0 369.3h1.1v1.1h-1.1zM371.0 372.3h1.1v1.1h-1.1zM375.7 369.9h1.1v1.1h-1.1zM344.7 365.0h1.1v1.1h-1.1zM343.2 361.1h1.1v1.1h-1.1zM363.0 377.3h1.1v1.1h-1.1zM351.8 366.8h1.1v1.1h-1.1zM334.5 369.4h1.1v1.1h-1.1zM376.0 368.9h1.1v1.1h-1.1zM345.5 369.8h1.1v1.1h-1.1zM337.6 367.8h1.1v1.1h-1.1zM345.4 368.0h1.1v1.1h-1.1zM335.8 363.2h1.1v1.1h-1.1zM363.9 377.2h1.1v1.1h-1.1zM343.0 374.2h1.1v1.1h-1.1zM346.4 367.3h1.1v1.1h-1.1zM357.9 369.3h1.1v1.1h-1.1zM366.7 376.3h1.1v1.1h-1.1zM346.4 370.3h1.1v1.1h-1.1zM371.4 367.7h1.1v1.1h-1.1zM357.6 370.1h1.1v1.1h-1.1zM354.9 375.2h1.1v1.1h-1.1zM337.7 370.5h1.1v1.1h-1.1zM375.1 375.6h1.1v1.1h-1.1zM347.3 366.0h1.1v1.1h-1.1zM339.4 365.0h1.1v1.1h-1.1zM368.0 367.5h1.1v1.1h-1.1zM360.0 367.2h1.1v1.1h-1.1zM360.6 367.5h1.1v1.1h-1.1zM324.4 366.6h1.1v1.1h-1.1zM367.3 372.5h1.1v1.1h-1.1zM349.4 367.4h1.1v1.1h-1.1zM354.1 373.6h1.1v1.1h-1.1zM355.0 373.3h1.1v1.1h-1.1zM361.5 373.6h1.1v1.1h-1.1zM333.8 365.8h1.1v1.1h-1.1zM359.5 367.7h1.1v1.1h-1.1zM372.8 369.1h1.1v1.1h-1.1zM364.0 372.5h1.1v1.1h-1.1zM351.1 369.0h1.1v1.1h-1.1zM352.3 369.8h1.1v1.1h-1.1zM337.6 371.9h1.1v1.1h-1.1zM358.9 371.5h1.1v1.1h-1.1zM350.6 366.7h1.1v1.1h-1.1zM358.6 374.8h1.1v1.1h-1.1zM330.8 368.6h1.1v1.1h-1.1zM346.8 364.3h1.1v1.1h-1.1zM349.3 367.0h1.1v1.1h-1.1zM346.7 367.0h1.1v1.1h-1.1zM351.4 375.3h1.1v1.1h-1.1zM356.3 367.8h1.1v1.1h-1.1zM364.6 372.0h1.1v1.1h-1.1zM373.9 373.0h1.1v1.1h-1.1zM359.2 375.9h1.1v1.1h-1.1zM342.7 365.3h1.1v1.1h-1.1zM345.2 373.4h1.1v1.1h-1.1zM364.0 366.1h1.1v1.1h-1.1zM344.4 365.9h1.1v1.1h-1.1zM374.6 374.9h1.1v1.1h-1.1zM340.5 366.4h1.1v1.1h-1.1zM341.6 370.3h1.1v1.1h-1.1zM350.1 369.5h1.1v1.1h-1.1zM351.6 363.6h1.1v1.1h-1.1zM368.1 368.3h1.1v1.1h-1.1zM370.2 369.3h1.1v1.1h-1.1zM347.6 368.4h1.1v1.1h-1.1zM358.5 369.5h1.1v1.1h-1.1zM323.9 364.0h1.1v1.1h-1.1zM362.5 365.5h1.1v1.1h-1.1zM353.8 370.7h1.1v1.1h-1.1zM347.8 365.8h1.1v1.1h-1.1zM351.9 365.8h1.1v1.1h-1.1zM341.4 364.7h1.1v1.1h-1.1zM365.9 371.2h1.1v1.1h-1.1zM343.9 368.7h1.1v1.1h-1.1zM334.7 371.5h1.1v1.1h-1.1zM361.3 370.8h1.1v1.1h-1.1zM358.2 370.2h1.1v1.1h-1.1zM363.5 374.5h1.1v1.1h-1.1zM345.0 366.1h1.1v1.1h-1.1zM333.4 368.7h1.1v1.1h-1.1zM365.2 373.0h1.1v1.1h-1.1zM344.1 364.5h1.1v1.1h-1.1zM377.7 374.4h1.1v1.1h-1.1zM367.0 370.4h1.1v1.1h-1.1zM348.1 374.5h1.1v1.1h-1.1zM355.2 371.0h1.1v1.1h-1.1zM335.7 362.1h1.1v1.1h-1.1zM330.7 365.5h1.1v1.1h-1.1zM364.1 370.5h1.1v1.1h-1.1zM334.5 370.4h1.1v1.1h-1.1zM367.0 366.2h1.1v1.1h-1.1zM362.6 370.3h1.1v1.1h-1.1zM348.1 369.6h1.1v1.1h-1.1zM341.9 368.0h1.1v1.1h-1.1zM355.2 364.8h1.1v1.1h-1.1zM356.3 366.5h1.1v1.1h-1.1zM342.4 364.5h1.1v1.1h-1.1zM342.0 363.4h1.1v1.1h-1.1zM342.2 372.9h1.1v1.1h-1.1zM356.1 368.8h1.1v1.1h-1.1zM350.6 373.6h1.1v1.1h-1.1zM351.0 369.7h1.1v1.1h-1.1zM374.2 371.0h1.1v1.1h-1.1zM364.1 368.8h1.1v1.1h-1.1zM366.5 369.0h1.1v1.1h-1.1zM347.2 374.2h1.1v1.1h-1.1zM346.6 365.7h1.1v1.1h-1.1zM345.8 364.8h1.1v1.1h-1.1zM367.1 374.7h1.1v1.1h-1.1zM347.3 373.0h1.1v1.1h-1.1zM358.0 376.1h1.1v1.1h-1.1zM358.1 372.3h1.1v1.1h-1.1zM354.0 373.6h1.1v1.1h-1.1zM355.3 364.6h1.1v1.1h-1.1zM354.3 368.8h1.1v1.1h-1.1zM343.4 362.2h1.1v1.1h-1.1zM346.5 372.1h1.1v1.1h-1.1zM335.5 369.9h1.1v1.1h-1.1zM361.9 370.7h1.1v1.1h-1.1zM358.5 369.7h1.1v1.1h-1.1zM342.3 361.7h1.1v1.1h-1.1zM367.5 370.0h1.1v1.1h-1.1zM351.6 369.5h1.1v1.1h-1.1zM375.2 370.9h1.1v1.1h-1.1zM345.9 363.5h1.1v1.1h-1.1zM339.7 367.7h1.1v1.1h-1.1zM354.7 367.9h1.1v1.1h-1.1zM345.2 367.4h1.1v1.1h-1.1zM368.5 371.9h1.1v1.1h-1.1zM363.8 369.1h1.1v1.1h-1.1zM341.6 372.3h1.1v1.1h-1.1zM368.8 373.0h1.1v1.1h-1.1zM331.7 366.2h1.1v1.1h-1.1zM373.3 376.3h1.1v1.1h-1.1zM337.8 367.1h1.1v1.1h-1.1zM372.7 373.2h1.1v1.1h-1.1zM363.4 370.9h1.1v1.1h-1.1zM358.1 371.1h1.1v1.1h-1.1zM353.3 370.3h1.1v1.1h-1.1zM370.9 373.4h1.1v1.1h-1.1zM341.1 366.6h1.1v1.1h-1.1zM347.2 370.5h1.1v1.1h-1.1zM335.9 371.5h1.1v1.1h-1.1zM346.1 368.0h1.1v1.1h-1.1zM366.0 367.1h1.1v1.1h-1.1zM346.7 362.9h1.1v1.1h-1.1zM340.5 362.5h1.1v1.1h-1.1zM370.5 373.4h1.1v1.1h-1.1zM342.2 368.2h1.1v1.1h-1.1zM349.0 366.0h1.1v1.1h-1.1zM372.4 375.7h1.1v1.1h-1.1zM360.2 367.7h1.1v1.1h-1.1zM374.2 373.5h1.1v1.1h-1.1zM365.5 374.1h1.1v1.1h-1.1zM342.2 363.2h1.1v1.1h-1.1zM347.1 369.9h1.1v1.1h-1.1zM350.9 368.9h1.1v1.1h-1.1zM368.5 375.4h1.1v1.1h-1.1zM350.6 368.5h1.1v1.1h-1.1zM355.6 364.5h1.1v1.1h-1.1zM334.8 363.5h1.1v1.1h-1.1zM327.8 365.8h1.1v1.1h-1.1zM354.2 368.9h1.1v1.1h-1.1zM342.8 372.6h1.1v1.1h-1.1zM358.6 370.4h1.1v1.1h-1.1zM342.4 366.2h1.1v1.1h-1.1zM373.1 371.5h1.1v1.1h-1.1zM346.6 374.0h1.1v1.1h-1.1zM354.7 371.4h1.1v1.1h-1.1zM344.7 364.2h1.1v1.1h-1.1zM333.9 365.3h1.1v1.1h-1.1zM365.5 378.1h1.1v1.1h-1.1zM372.7 375.2h1.1v1.1h-1.1zM360.6 366.3h1.1v1.1h-1.1zM361.9 368.9h1.1v1.1h-1.1zM338.2 368.5h1.1v1.1h-1.1zM360.8 366.6h1.1v1.1h-1.1zM347.2 374.5h1.1v1.1h-1.1zM370.3 372.6h1.1v1.1h-1.1zM351.8 368.3h1.1v1.1h-1.1zM375.2 372.1h1.1v1.1h-1.1zM368.4 376.2h1.1v1.1h-1.1zM355.2 377.6h1.1v1.1h-1.1zM353.6 375.1h1.1v1.1h-1.1zM325.4 365.5h1.1v1.1h-1.1zM367.7 372.1h1.1v1.1h-1.1z"/>
<path fill="#E2735C" d="M378.8 371.6h1.1v1.1h-1.1zM330.8 363.7h1.1v1.1h-1.1zM349.6 375.5h1.1v1.1h-1.1zM351.3 363.3h1.1v1.1h-1.1zM361.0 377.9h1.1v1.1h-1.1zM358.5 375.2h1.1v1.1h-1.1zM333.7 371.8h1.1v1.1h-1.1zM364.1 373.6h1.1v1.1h-1.1zM353.2 377.9h1.1v1.1h-1.1zM334.4 368.7h1.1v1.1h-1.1zM359.5 364.2h1.1v1.1h-1.1zM365.1 373.9h1.1v1.1h-1.1zM348.6 375.2h1.1v1.1h-1.1zM370.5 372.5h1.1v1.1h-1.1zM355.5 369.2h1.1v1.1h-1.1zM357.2 366.6h1.1v1.1h-1.1zM366.1 377.0h1.1v1.1h-1.1zM347.8 363.8h1.1v1.1h-1.1zM339.9 371.9h1.1v1.1h-1.1zM370.7 370.4h1.1v1.1h-1.1zM363.1 367.6h1.1v1.1h-1.1zM351.3 375.8h1.1v1.1h-1.1zM349.6 364.0h1.1v1.1h-1.1zM330.2 370.2h1.1v1.1h-1.1zM346.1 363.3h1.1v1.1h-1.1zM359.6 365.0h1.1v1.1h-1.1zM361.4 377.3h1.1v1.1h-1.1zM377.0 372.8h1.1v1.1h-1.1zM374.6 374.5h1.1v1.1h-1.1zM344.0 364.6h1.1v1.1h-1.1zM337.1 370.0h1.1v1.1h-1.1zM341.7 362.9h1.1v1.1h-1.1zM337.1 373.0h1.1v1.1h-1.1zM341.0 376.3h1.1v1.1h-1.1zM349.3 374.1h1.1v1.1h-1.1zM345.1 361.7h1.1v1.1h-1.1zM344.0 375.6h1.1v1.1h-1.1zM373.3 375.6h1.1v1.1h-1.1zM371.3 368.8h1.1v1.1h-1.1zM355.0 374.1h1.1v1.1h-1.1zM351.9 369.2h1.1v1.1h-1.1zM331.0 364.2h1.1v1.1h-1.1zM378.0 375.0h1.1v1.1h-1.1zM361.1 374.9h1.1v1.1h-1.1zM342.6 375.0h1.1v1.1h-1.1zM332.9 366.5h1.1v1.1h-1.1zM377.2 370.8h1.1v1.1h-1.1zM380.1 373.0h1.1v1.1h-1.1zM353.0 365.3h1.1v1.1h-1.1zM329.7 365.6h1.1v1.1h-1.1zM363.1 370.7h1.1v1.1h-1.1zM342.9 369.0h1.1v1.1h-1.1zM356.8 370.3h1.1v1.1h-1.1zM370.9 370.8h1.1v1.1h-1.1zM342.1 374.9h1.1v1.1h-1.1zM366.5 373.5h1.1v1.1h-1.1zM334.1 363.2h1.1v1.1h-1.1zM340.0 372.4h1.1v1.1h-1.1zM358.1 379.5h1.1v1.1h-1.1zM364.0 377.5h1.1v1.1h-1.1zM338.2 368.2h1.1v1.1h-1.1zM344.6 362.5h1.1v1.1h-1.1zM369.5 371.7h1.1v1.1h-1.1zM347.5 365.2h1.1v1.1h-1.1zM343.3 365.0h1.1v1.1h-1.1zM353.8 375.0h1.1v1.1h-1.1zM352.7 376.1h1.1v1.1h-1.1zM342.2 372.3h1.1v1.1h-1.1zM343.6 370.6h1.1v1.1h-1.1zM339.9 366.9h1.1v1.1h-1.1zM340.1 367.3h1.1v1.1h-1.1zM360.0 367.7h1.1v1.1h-1.1zM340.7 366.1h1.1v1.1h-1.1zM356.1 375.1h1.1v1.1h-1.1zM340.7 374.9h1.1v1.1h-1.1zM345.8 369.4h1.1v1.1h-1.1zM350.9 364.4h1.1v1.1h-1.1zM326.0 366.0h1.1v1.1h-1.1zM327.4 364.9h1.1v1.1h-1.1zM362.4 369.0h1.1v1.1h-1.1zM350.6 369.7h1.1v1.1h-1.1zM365.7 369.8h1.1v1.1h-1.1zM378.1 372.2h1.1v1.1h-1.1zM357.7 365.2h1.1v1.1h-1.1zM341.5 369.3h1.1v1.1h-1.1zM372.2 372.4h1.1v1.1h-1.1zM367.2 372.9h1.1v1.1h-1.1zM350.1 365.5h1.1v1.1h-1.1zM352.4 375.1h1.1v1.1h-1.1zM349.8 363.7h1.1v1.1h-1.1zM357.7 365.5h1.1v1.1h-1.1zM342.1 366.0h1.1v1.1h-1.1zM327.3 365.6h1.1v1.1h-1.1zM341.7 366.6h1.1v1.1h-1.1zM345.3 369.8h1.1v1.1h-1.1zM360.1 368.0h1.1v1.1h-1.1zM332.5 360.3h1.1v1.1h-1.1zM346.6 375.4h1.1v1.1h-1.1zM348.6 371.5h1.1v1.1h-1.1zM371.1 372.5h1.1v1.1h-1.1zM328.6 370.6h1.1v1.1h-1.1zM328.5 369.4h1.1v1.1h-1.1zM367.7 368.7h1.1v1.1h-1.1zM346.5 370.4h1.1v1.1h-1.1zM327.3 367.3h1.1v1.1h-1.1zM333.2 369.7h1.1v1.1h-1.1zM360.9 373.7h1.1v1.1h-1.1zM332.5 367.6h1.1v1.1h-1.1zM363.4 365.9h1.1v1.1h-1.1zM350.5 372.7h1.1v1.1h-1.1zM353.1 375.8h1.1v1.1h-1.1zM357.4 365.5h1.1v1.1h-1.1zM333.0 368.3h1.1v1.1h-1.1zM360.8 375.5h1.1v1.1h-1.1zM340.0 371.6h1.1v1.1h-1.1zM372.8 375.4h1.1v1.1h-1.1zM338.7 366.3h1.1v1.1h-1.1zM363.4 366.2h1.1v1.1h-1.1zM344.3 364.8h1.1v1.1h-1.1zM373.7 374.1h1.1v1.1h-1.1zM356.2 370.7h1.1v1.1h-1.1zM361.2 377.8h1.1v1.1h-1.1zM373.8 377.4h1.1v1.1h-1.1zM355.2 367.3h1.1v1.1h-1.1zM348.9 372.4h1.1v1.1h-1.1zM338.3 371.7h1.1v1.1h-1.1zM367.5 368.7h1.1v1.1h-1.1zM358.3 377.3h1.1v1.1h-1.1zM358.1 375.4h1.1v1.1h-1.1zM355.7 370.5h1.1v1.1h-1.1zM354.4 371.4h1.1v1.1h-1.1zM324.3 364.6h1.1v1.1h-1.1zM368.9 374.1h1.1v1.1h-1.1zM348.6 374.1h1.1v1.1h-1.1zM340.0 369.2h1.1v1.1h-1.1zM336.2 364.4h1.1v1.1h-1.1zM371.1 376.7h1.1v1.1h-1.1zM376.3 369.1h1.1v1.1h-1.1zM371.0 372.7h1.1v1.1h-1.1zM337.0 365.5h1.1v1.1h-1.1zM333.7 370.6h1.1v1.1h-1.1zM356.2 378.6h1.1v1.1h-1.1zM340.5 372.5h1.1v1.1h-1.1zM355.5 370.8h1.1v1.1h-1.1zM370.4 368.6h1.1v1.1h-1.1zM339.7 369.9h1.1v1.1h-1.1zM357.3 375.8h1.1v1.1h-1.1zM347.7 366.9h1.1v1.1h-1.1zM373.7 370.0h1.1v1.1h-1.1zM372.1 373.8h1.1v1.1h-1.1zM344.0 375.2h1.1v1.1h-1.1zM368.7 375.2h1.1v1.1h-1.1zM337.3 373.2h1.1v1.1h-1.1zM338.0 365.8h1.1v1.1h-1.1zM353.9 373.1h1.1v1.1h-1.1zM378.6 375.6h1.1v1.1h-1.1zM363.8 375.1h1.1v1.1h-1.1zM339.8 368.4h1.1v1.1h-1.1zM365.6 369.3h1.1v1.1h-1.1zM368.8 371.6h1.1v1.1h-1.1zM370.9 369.5h1.1v1.1h-1.1zM362.3 366.5h1.1v1.1h-1.1zM347.9 376.2h1.1v1.1h-1.1zM369.0 376.8h1.1v1.1h-1.1zM352.9 365.0h1.1v1.1h-1.1zM365.1 366.4h1.1v1.1h-1.1zM359.4 369.6h1.1v1.1h-1.1zM365.4 377.7h1.1v1.1h-1.1zM369.3 377.5h1.1v1.1h-1.1zM337.6 370.3h1.1v1.1h-1.1zM363.1 370.3h1.1v1.1h-1.1zM365.0 376.8h1.1v1.1h-1.1zM365.8 369.6h1.1v1.1h-1.1zM378.7 372.9h1.1v1.1h-1.1zM341.8 361.9h1.1v1.1h-1.1zM362.3 373.5h1.1v1.1h-1.1zM336.7 362.3h1.1v1.1h-1.1zM342.3 367.6h1.1v1.1h-1.1zM352.9 374.4h1.1v1.1h-1.1zM342.5 366.4h1.1v1.1h-1.1zM340.6 370.3h1.1v1.1h-1.1zM382.0 373.8h1.1v1.1h-1.1zM367.0 369.9h1.1v1.1h-1.1zM360.6 372.2h1.1v1.1h-1.1zM346.1 374.1h1.1v1.1h-1.1zM373.6 369.6h1.1v1.1h-1.1zM353.1 376.2h1.1v1.1h-1.1zM360.1 374.7h1.1v1.1h-1.1zM341.4 362.6h1.1v1.1h-1.1zM354.8 376.8h1.1v1.1h-1.1zM346.4 372.3h1.1v1.1h-1.1zM374.9 372.5h1.1v1.1h-1.1zM324.8 363.7h1.1v1.1h-1.1zM357.0 368.8h1.1v1.1h-1.1zM365.9 370.6h1.1v1.1h-1.1zM350.6 373.0h1.1v1.1h-1.1zM362.8 372.9h1.1v1.1h-1.1zM368.0 371.5h1.1v1.1h-1.1zM362.2 373.4h1.1v1.1h-1.1zM360.2 369.1h1.1v1.1h-1.1zM337.2 368.0h1.1v1.1h-1.1zM333.1 364.1h1.1v1.1h-1.1zM364.7 371.1h1.1v1.1h-1.1zM375.7 373.0h1.1v1.1h-1.1zM376.7 374.4h1.1v1.1h-1.1zM364.4 368.4h1.1v1.1h-1.1zM371.2 371.4h1.1v1.1h-1.1zM353.9 375.6h1.1v1.1h-1.1zM369.6 375.2h1.1v1.1h-1.1zM341.9 364.4h1.1v1.1h-1.1zM364.3 374.3h1.1v1.1h-1.1zM368.1 367.2h1.1v1.1h-1.1zM364.1 365.6h1.1v1.1h-1.1zM336.4 368.6h1.1v1.1h-1.1zM345.4 373.8h1.1v1.1h-1.1zM367.7 366.9h1.1v1.1h-1.1zM366.0 369.9h1.1v1.1h-1.1zM333.7 371.9h1.1v1.1h-1.1zM360.4 372.9h1.1v1.1h-1.1zM375.7 372.5h1.1v1.1h-1.1zM345.4 371.3h1.1v1.1h-1.1zM348.4 364.3h1.1v1.1h-1.1zM353.0 378.4h1.1v1.1h-1.1zM336.0 367.5h1.1v1.1h-1.1zM376.6 373.4h1.1v1.1h-1.1zM361.1 373.6h1.1v1.1h-1.1zM373.8 370.7h1.1v1.1h-1.1zM337.6 363.0h1.1v1.1h-1.1zM334.5 361.5h1.1v1.1h-1.1zM361.1 367.2h1.1v1.1h-1.1zM374.8 369.0h1.1v1.1h-1.1zM350.7 366.4h1.1v1.1h-1.1zM366.0 364.8h1.1v1.1h-1.1zM333.7 362.6h1.1v1.1h-1.1zM365.5 375.0h1.1v1.1h-1.1zM335.1 369.5h1.1v1.1h-1.1zM369.7 371.5h1.1v1.1h-1.1zM339.2 364.8h1.1v1.1h-1.1zM342.7 366.4h1.1v1.1h-1.1zM338.1 362.3h1.1v1.1h-1.1zM350.7 366.9h1.1v1.1h-1.1zM332.2 370.7h1.1v1.1h-1.1zM346.3 369.4h1.1v1.1h-1.1zM356.1 374.7h1.1v1.1h-1.1zM348.3 376.2h1.1v1.1h-1.1zM365.6 370.0h1.1v1.1h-1.1zM358.6 373.5h1.1v1.1h-1.1zM352.5 366.5h1.1v1.1h-1.1zM356.2 365.5h1.1v1.1h-1.1zM368.7 373.6h1.1v1.1h-1.1zM351.9 374.1h1.1v1.1h-1.1zM347.3 372.8h1.1v1.1h-1.1zM379.1 373.1h1.1v1.1h-1.1zM357.5 370.4h1.1v1.1h-1.1zM369.9 376.8h1.1v1.1h-1.1zM346.3 366.6h1.1v1.1h-1.1zM326.7 367.2h1.1v1.1h-1.1zM333.6 362.6h1.1v1.1h-1.1zM368.3 368.7h1.1v1.1h-1.1zM327.4 368.1h1.1v1.1h-1.1zM367.0 368.4h1.1v1.1h-1.1zM363.1 376.5h1.1v1.1h-1.1zM334.4 362.6h1.1v1.1h-1.1zM356.5 366.0h1.1v1.1h-1.1zM325.8 365.3h1.1v1.1h-1.1zM371.2 370.4h1.1v1.1h-1.1zM340.4 364.6h1.1v1.1h-1.1zM367.6 367.6h1.1v1.1h-1.1zM336.7 363.5h1.1v1.1h-1.1zM348.4 361.8h1.1v1.1h-1.1zM350.6 363.8h1.1v1.1h-1.1zM354.3 364.4h1.1v1.1h-1.1zM374.3 370.4h1.1v1.1h-1.1zM370.9 370.4h1.1v1.1h-1.1zM334.6 372.0h1.1v1.1h-1.1zM375.3 372.1h1.1v1.1h-1.1zM333.5 367.8h1.1v1.1h-1.1zM328.7 368.1h1.1v1.1h-1.1zM378.4 369.3h1.1v1.1h-1.1zM358.0 373.8h1.1v1.1h-1.1zM333.9 369.1h1.1v1.1h-1.1zM339.3 370.9h1.1v1.1h-1.1zM361.6 374.9h1.1v1.1h-1.1zM376.5 374.4h1.1v1.1h-1.1zM335.3 372.3h1.1v1.1h-1.1zM372.8 376.6h1.1v1.1h-1.1zM367.6 376.3h1.1v1.1h-1.1zM346.9 363.0h1.1v1.1h-1.1zM376.5 375.5h1.1v1.1h-1.1zM347.5 364.5h1.1v1.1h-1.1zM333.5 363.6h1.1v1.1h-1.1zM338.8 365.0h1.1v1.1h-1.1zM344.9 372.4h1.1v1.1h-1.1zM350.1 373.4h1.1v1.1h-1.1zM341.2 368.9h1.1v1.1h-1.1zM371.8 376.8h1.1v1.1h-1.1zM355.8 366.9h1.1v1.1h-1.1zM350.7 364.5h1.1v1.1h-1.1zM375.7 373.8h1.1v1.1h-1.1zM372.9 375.2h1.1v1.1h-1.1zM374.2 377.0h1.1v1.1h-1.1zM328.7 366.0h1.1v1.1h-1.1zM370.8 371.3h1.1v1.1h-1.1zM359.3 370.3h1.1v1.1h-1.1zM374.5 369.0h1.1v1.1h-1.1zM378.4 370.7h1.1v1.1h-1.1zM335.9 363.6h1.1v1.1h-1.1zM357.0 371.0h1.1v1.1h-1.1zM353.7 372.2h1.1v1.1h-1.1zM379.1 373.0h1.1v1.1h-1.1zM349.3 374.9h1.1v1.1h-1.1zM369.3 369.0h1.1v1.1h-1.1zM342.8 369.8h1.1v1.1h-1.1zM378.4 374.1h1.1v1.1h-1.1zM362.3 374.8h1.1v1.1h-1.1zM371.4 376.7h1.1v1.1h-1.1zM352.0 375.4h1.1v1.1h-1.1zM347.5 372.1h1.1v1.1h-1.1zM353.9 369.9h1.1v1.1h-1.1zM361.6 366.4h1.1v1.1h-1.1zM330.3 362.0h1.1v1.1h-1.1zM352.8 366.1h1.1v1.1h-1.1zM331.2 362.7h1.1v1.1h-1.1zM347.9 377.5h1.1v1.1h-1.1zM379.3 371.3h1.1v1.1h-1.1zM343.1 362.8h1.1v1.1h-1.1zM345.6 375.4h1.1v1.1h-1.1zM353.8 379.0h1.1v1.1h-1.1zM342.8 364.0h1.1v1.1h-1.1zM340.1 362.5h1.1v1.1h-1.1zM366.5 374.3h1.1v1.1h-1.1zM339.4 366.5h1.1v1.1h-1.1zM341.8 373.8h1.1v1.1h-1.1z"/>
<path fill="#F2AE9C" d="M371.2 369.8h1.1v1.1h-1.1zM355.6 377.4h1.1v1.1h-1.1zM373.9 376.5h1.1v1.1h-1.1zM359.1 378.8h1.1v1.1h-1.1zM339.0 368.9h1.1v1.1h-1.1zM379.3 373.7h1.1v1.1h-1.1zM372.0 372.1h1.1v1.1h-1.1zM349.7 373.8h1.1v1.1h-1.1zM326.8 364.4h1.1v1.1h-1.1zM371.8 374.4h1.1v1.1h-1.1zM373.6 366.9h1.1v1.1h-1.1zM366.6 369.0h1.1v1.1h-1.1zM333.9 361.1h1.1v1.1h-1.1zM361.6 370.5h1.1v1.1h-1.1zM372.2 369.0h1.1v1.1h-1.1zM379.5 372.8h1.1v1.1h-1.1zM347.5 371.6h1.1v1.1h-1.1zM374.6 372.7h1.1v1.1h-1.1zM346.5 364.9h1.1v1.1h-1.1zM371.0 374.9h1.1v1.1h-1.1zM370.0 368.2h1.1v1.1h-1.1zM328.9 363.5h1.1v1.1h-1.1zM344.4 370.4h1.1v1.1h-1.1zM356.8 375.0h1.1v1.1h-1.1zM338.3 365.6h1.1v1.1h-1.1zM347.9 367.8h1.1v1.1h-1.1zM376.9 370.1h1.1v1.1h-1.1zM370.5 376.2h1.1v1.1h-1.1zM367.0 368.2h1.1v1.1h-1.1zM327.2 363.1h1.1v1.1h-1.1zM331.6 362.6h1.1v1.1h-1.1zM363.0 369.3h1.1v1.1h-1.1zM342.9 375.5h1.1v1.1h-1.1zM338.8 362.6h1.1v1.1h-1.1zM362.5 378.2h1.1v1.1h-1.1zM377.8 373.8h1.1v1.1h-1.1zM363.1 375.7h1.1v1.1h-1.1zM376.8 372.7h1.1v1.1h-1.1zM357.8 371.4h1.1v1.1h-1.1zM353.7 374.9h1.1v1.1h-1.1zM375.0 375.2h1.1v1.1h-1.1zM365.3 366.0h1.1v1.1h-1.1zM348.0 368.6h1.1v1.1h-1.1zM339.8 372.3h1.1v1.1h-1.1zM341.2 362.9h1.1v1.1h-1.1zM367.3 377.5h1.1v1.1h-1.1zM355.1 364.9h1.1v1.1h-1.1zM358.1 377.8h1.1v1.1h-1.1zM328.7 364.1h1.1v1.1h-1.1zM372.8 375.7h1.1v1.1h-1.1zM375.6 370.9h1.1v1.1h-1.1zM373.4 375.1h1.1v1.1h-1.1zM332.8 361.4h1.1v1.1h-1.1zM373.5 375.0h1.1v1.1h-1.1zM375.0 372.8h1.1v1.1h-1.1zM374.5 376.8h1.1v1.1h-1.1zM361.1 374.2h1.1v1.1h-1.1zM369.6 376.9h1.1v1.1h-1.1zM355.2 368.8h1.1v1.1h-1.1zM358.7 376.6h1.1v1.1h-1.1zM336.6 366.6h1.1v1.1h-1.1zM359.0 379.1h1.1v1.1h-1.1zM363.5 376.3h1.1v1.1h-1.1zM342.4 375.0h1.1v1.1h-1.1zM353.4 370.8h1.1v1.1h-1.1zM371.0 376.5h1.1v1.1h-1.1zM324.3 364.8h1.1v1.1h-1.1zM341.5 365.0h1.1v1.1h-1.1zM352.5 376.8h1.1v1.1h-1.1zM338.6 374.8h1.1v1.1h-1.1zM361.1 367.0h1.1v1.1h-1.1zM333.2 363.8h1.1v1.1h-1.1zM364.5 378.4h1.1v1.1h-1.1zM347.2 364.3h1.1v1.1h-1.1zM373.9 374.5h1.1v1.1h-1.1zM349.6 370.9h1.1v1.1h-1.1zM374.0 373.4h1.1v1.1h-1.1zM328.4 364.2h1.1v1.1h-1.1zM353.4 374.5h1.1v1.1h-1.1zM336.3 363.4h1.1v1.1h-1.1zM339.6 362.2h1.1v1.1h-1.1zM371.6 375.3h1.1v1.1h-1.1zM348.4 376.5h1.1v1.1h-1.1zM365.3 373.8h1.1v1.1h-1.1zM374.4 368.9h1.1v1.1h-1.1zM333.8 370.8h1.1v1.1h-1.1zM367.5 377.4h1.1v1.1h-1.1zM333.3 360.1h1.1v1.1h-1.1zM364.2 374.7h1.1v1.1h-1.1zM359.5 374.1h1.1v1.1h-1.1zM327.9 362.0h1.1v1.1h-1.1zM337.7 363.2h1.1v1.1h-1.1zM338.9 362.4h1.1v1.1h-1.1zM372.8 368.5h1.1v1.1h-1.1zM362.3 375.9h1.1v1.1h-1.1zM379.6 370.8h1.1v1.1h-1.1zM352.5 365.2h1.1v1.1h-1.1zM381.0 371.6h1.1v1.1h-1.1zM336.0 364.0h1.1v1.1h-1.1zM351.4 375.5h1.1v1.1h-1.1zM363.3 373.9h1.1v1.1h-1.1zM340.9 368.7h1.1v1.1h-1.1zM366.5 367.7h1.1v1.1h-1.1zM367.5 372.5h1.1v1.1h-1.1zM328.8 366.6h1.1v1.1h-1.1zM364.1 374.3h1.1v1.1h-1.1zM363.1 374.1h1.1v1.1h-1.1zM372.6 369.1h1.1v1.1h-1.1zM332.1 370.3h1.1v1.1h-1.1zM372.2 377.3h1.1v1.1h-1.1zM330.6 363.9h1.1v1.1h-1.1zM360.2 377.5h1.1v1.1h-1.1zM327.3 363.5h1.1v1.1h-1.1zM378.4 372.4h1.1v1.1h-1.1zM378.3 373.1h1.1v1.1h-1.1zM324.8 366.3h1.1v1.1h-1.1zM356.2 374.4h1.1v1.1h-1.1zM363.6 378.0h1.1v1.1h-1.1zM345.4 374.7h1.1v1.1h-1.1zM348.6 371.4h1.1v1.1h-1.1zM374.1 370.9h1.1v1.1h-1.1zM339.9 372.6h1.1v1.1h-1.1zM378.8 372.4h1.1v1.1h-1.1zM364.9 378.8h1.1v1.1h-1.1zM329.9 365.3h1.1v1.1h-1.1zM339.5 375.0h1.1v1.1h-1.1zM369.5 372.2h1.1v1.1h-1.1zM370.3 371.8h1.1v1.1h-1.1zM359.8 365.9h1.1v1.1h-1.1zM346.0 377.0h1.1v1.1h-1.1zM360.2 365.2h1.1v1.1h-1.1zM327.8 366.0h1.1v1.1h-1.1zM335.8 366.6h1.1v1.1h-1.1zM350.5 372.0h1.1v1.1h-1.1zM373.1 371.5h1.1v1.1h-1.1zM328.3 362.3h1.1v1.1h-1.1zM379.7 372.2h1.1v1.1h-1.1zM378.6 370.2h1.1v1.1h-1.1zM362.0 374.2h1.1v1.1h-1.1zM331.3 372.3h1.1v1.1h-1.1zM359.5 375.6h1.1v1.1h-1.1zM368.5 377.6h1.1v1.1h-1.1zM363.1 378.7h1.1v1.1h-1.1zM330.8 367.6h1.1v1.1h-1.1zM370.7 371.8h1.1v1.1h-1.1zM337.3 364.5h1.1v1.1h-1.1zM369.1 368.1h1.1v1.1h-1.1zM348.2 364.8h1.1v1.1h-1.1zM334.9 366.2h1.1v1.1h-1.1zM345.2 364.1h1.1v1.1h-1.1zM373.1 375.4h1.1v1.1h-1.1zM344.0 365.5h1.1v1.1h-1.1zM343.2 362.4h1.1v1.1h-1.1zM350.8 367.5h1.1v1.1h-1.1zM351.1 362.1h1.1v1.1h-1.1zM333.6 362.4h1.1v1.1h-1.1zM360.9 379.0h1.1v1.1h-1.1zM333.8 370.6h1.1v1.1h-1.1zM369.3 371.0h1.1v1.1h-1.1zM354.9 373.8h1.1v1.1h-1.1z"/>
<path fill="#FBE3DC" d="M363.5 373.8h1.1v1.1h-1.1zM329.3 363.4h1.1v1.1h-1.1zM330.2 366.2h1.1v1.1h-1.1zM334.4 362.3h1.1v1.1h-1.1zM375.1 371.7h1.1v1.1h-1.1zM359.2 373.8h1.1v1.1h-1.1zM366.1 373.3h1.1v1.1h-1.1zM364.7 371.5h1.1v1.1h-1.1zM370.5 374.3h1.1v1.1h-1.1zM380.4 372.0h1.1v1.1h-1.1zM377.4 374.5h1.1v1.1h-1.1zM368.8 375.1h1.1v1.1h-1.1zM370.5 376.6h1.1v1.1h-1.1zM328.8 362.8h1.1v1.1h-1.1zM332.6 364.2h1.1v1.1h-1.1zM363.7 368.4h1.1v1.1h-1.1zM325.4 366.2h1.1v1.1h-1.1zM332.2 362.7h1.1v1.1h-1.1zM332.5 362.0h1.1v1.1h-1.1zM324.3 363.8h1.1v1.1h-1.1zM344.9 365.9h1.1v1.1h-1.1zM352.9 376.6h1.1v1.1h-1.1zM377.2 374.1h1.1v1.1h-1.1zM341.0 364.7h1.1v1.1h-1.1zM372.7 374.3h1.1v1.1h-1.1zM356.2 377.8h1.1v1.1h-1.1zM366.1 375.9h1.1v1.1h-1.1zM367.3 377.4h1.1v1.1h-1.1zM366.4 377.5h1.1v1.1h-1.1zM326.6 362.9h1.1v1.1h-1.1zM334.7 361.3h1.1v1.1h-1.1zM371.7 375.8h1.1v1.1h-1.1zM326.4 365.7h1.1v1.1h-1.1zM329.7 363.7h1.1v1.1h-1.1zM332.0 372.0h1.1v1.1h-1.1zM359.5 378.2h1.1v1.1h-1.1zM377.8 371.9h1.1v1.1h-1.1zM340.6 374.5h1.1v1.1h-1.1zM379.4 374.0h1.1v1.1h-1.1zM355.6 377.9h1.1v1.1h-1.1z"/>
<polygon points="422.9,358.9 423.4,360.1 425.0,361.4 427.3,362.2 431.3,363.6 436.3,365.0 436.4,365.0 440.4,366.3 440.5,366.3 440.5,366.3 440.6,366.4 444.5,369.1 449.5,371.7 455.5,373.5 463.2,375.7 469.2,376.6 476.3,377.5 482.3,378.0 488.2,377.7 491.8,376.8 495.9,374.9 495.9,374.9 500.1,373.0 500.1,373.0 500.2,373.0 500.2,373.0 504.5,372.3 506.4,370.2 507.5,366.9 506.4,364.5 504.0,361.9 501.1,359.7 497.2,357.5 492.2,355.8 492.2,355.8 487.2,354.0 481.2,352.7 475.1,351.8 469.1,351.3 463.9,351.0 456.4,350.8 448.3,351.3 442.3,352.2 436.3,353.1 430.3,354.1 425.8,355.8 423.9,357.3" fill="#F7D6CC"/>
<path fill="#B82A22" d="M452.0 355.3h1v1h-1zM480.9 352.0h1v1h-1zM473.4 357.7h1v1h-1zM470.2 356.8h1v1h-1zM449.0 357.5h1v1h-1zM439.2 358.5h1v1h-1zM467.2 352.7h1v1h-1zM457.1 358.2h1v1h-1zM472.0 356.3h1v1h-1zM435.5 356.0h1v1h-1zM452.0 361.3h1v1h-1zM443.3 358.5h1v1h-1zM471.0 350.9h1v1h-1zM441.8 359.3h1v1h-1zM431.3 357.9h1v1h-1zM471.8 353.7h1v1h-1zM494.8 357.3h1v1h-1zM475.6 360.8h1v1h-1zM430.1 355.8h1v1h-1zM434.6 355.2h1v1h-1zM468.7 352.7h1v1h-1zM451.0 358.9h1v1h-1zM439.8 355.8h1v1h-1zM457.5 351.9h1v1h-1zM460.4 350.0h1v1h-1zM487.5 356.4h1v1h-1zM462.2 357.8h1v1h-1zM477.1 362.9h1v1h-1zM430.6 354.1h1v1h-1zM442.9 361.2h1v1h-1zM477.8 364.3h1v1h-1zM474.9 357.9h1v1h-1zM452.9 360.7h1v1h-1zM467.9 355.8h1v1h-1zM468.7 353.1h1v1h-1zM472.8 354.0h1v1h-1zM446.0 350.7h1v1h-1zM488.5 355.7h1v1h-1zM487.0 364.5h1v1h-1zM441.2 356.1h1v1h-1zM498.0 358.9h1v1h-1zM451.7 349.9h1v1h-1zM465.0 358.5h1v1h-1zM477.6 358.9h1v1h-1zM447.0 356.6h1v1h-1zM441.3 359.4h1v1h-1zM495.3 358.9h1v1h-1zM460.2 351.3h1v1h-1zM451.5 358.4h1v1h-1z"/>
<path fill="#CC4433" d="M469.8 360.4h1v1h-1zM427.6 355.8h1v1h-1zM484.2 375.5h1v1h-1zM439.2 363.3h1v1h-1zM448.0 356.6h1v1h-1zM444.6 355.8h1v1h-1zM475.4 360.8h1v1h-1zM456.1 353.0h1v1h-1zM490.1 357.4h1v1h-1zM495.7 358.2h1v1h-1zM447.6 351.3h1v1h-1zM452.7 360.5h1v1h-1zM491.9 359.9h1v1h-1zM440.0 358.8h1v1h-1zM439.0 355.6h1v1h-1zM438.2 353.6h1v1h-1zM469.9 352.9h1v1h-1zM450.7 354.0h1v1h-1zM488.7 356.6h1v1h-1zM426.4 359.9h1v1h-1zM429.4 357.9h1v1h-1zM441.1 360.6h1v1h-1zM451.0 353.5h1v1h-1zM480.2 366.1h1v1h-1zM427.2 354.9h1v1h-1zM489.6 355.1h1v1h-1zM492.8 357.2h1v1h-1zM479.9 356.8h1v1h-1zM447.9 364.0h1v1h-1zM452.1 352.1h1v1h-1zM449.8 354.4h1v1h-1zM484.5 359.9h1v1h-1zM438.1 356.6h1v1h-1zM431.5 358.5h1v1h-1zM469.8 355.4h1v1h-1zM434.2 356.3h1v1h-1zM432.8 354.1h1v1h-1zM460.7 352.3h1v1h-1zM429.6 355.9h1v1h-1zM438.1 358.9h1v1h-1zM483.2 357.8h1v1h-1zM467.0 370.1h1v1h-1zM476.4 356.5h1v1h-1zM436.6 353.9h1v1h-1zM443.8 353.3h1v1h-1zM439.7 359.9h1v1h-1zM455.6 359.3h1v1h-1zM479.9 356.0h1v1h-1zM483.1 354.9h1v1h-1zM495.1 359.1h1v1h-1zM489.0 363.8h1v1h-1zM490.9 375.9h1v1h-1zM498.0 361.9h1v1h-1zM462.2 361.1h1v1h-1zM480.0 368.5h1v1h-1zM460.2 361.1h1v1h-1zM476.2 357.2h1v1h-1zM441.7 354.5h1v1h-1zM470.1 355.1h1v1h-1zM453.3 360.6h1v1h-1zM442.6 351.4h1v1h-1zM426.1 358.3h1v1h-1zM470.0 360.3h1v1h-1zM484.5 357.2h1v1h-1zM473.0 357.0h1v1h-1zM439.8 362.2h1v1h-1zM491.5 357.6h1v1h-1zM484.0 363.1h1v1h-1zM462.5 355.3h1v1h-1zM463.1 357.0h1v1h-1zM435.2 353.1h1v1h-1zM482.1 353.8h1v1h-1zM466.5 360.8h1v1h-1zM463.2 356.5h1v1h-1zM473.3 352.5h1v1h-1zM442.1 356.6h1v1h-1zM498.4 360.8h1v1h-1zM444.4 360.6h1v1h-1zM451.9 356.2h1v1h-1zM442.4 355.4h1v1h-1zM501.3 372.7h1v1h-1zM433.8 358.1h1v1h-1zM468.4 356.4h1v1h-1zM423.8 359.2h1v1h-1zM441.6 354.1h1v1h-1zM501.6 358.9h1v1h-1zM457.7 355.2h1v1h-1zM454.9 352.7h1v1h-1zM430.9 355.0h1v1h-1zM441.2 362.2h1v1h-1zM458.6 351.2h1v1h-1zM491.1 358.4h1v1h-1zM491.6 357.6h1v1h-1zM452.7 358.0h1v1h-1zM447.8 361.9h1v1h-1zM460.0 353.3h1v1h-1zM490.0 365.1h1v1h-1zM486.7 356.1h1v1h-1zM483.1 355.2h1v1h-1zM473.7 355.3h1v1h-1zM452.3 355.8h1v1h-1zM431.3 354.5h1v1h-1zM454.7 360.0h1v1h-1zM452.1 358.0h1v1h-1zM483.1 374.7h1v1h-1zM436.6 365.1h1v1h-1zM452.3 364.2h1v1h-1zM486.2 352.1h1v1h-1zM437.0 353.0h1v1h-1zM432.9 359.4h1v1h-1zM483.9 360.1h1v1h-1zM479.4 351.7h1v1h-1zM442.8 358.8h1v1h-1zM502.1 361.8h1v1h-1zM476.6 361.1h1v1h-1zM429.7 356.4h1v1h-1zM483.1 354.8h1v1h-1zM466.1 355.7h1v1h-1zM449.8 363.2h1v1h-1zM473.0 359.4h1v1h-1zM470.7 351.4h1v1h-1zM494.2 359.1h1v1h-1zM444.6 364.2h1v1h-1zM493.8 360.9h1v1h-1zM423.7 357.2h1v1h-1zM458.2 360.9h1v1h-1zM490.9 359.9h1v1h-1zM459.7 357.1h1v1h-1zM477.7 352.7h1v1h-1zM461.8 375.3h1v1h-1zM457.7 353.3h1v1h-1zM448.2 363.1h1v1h-1zM480.0 351.9h1v1h-1zM435.7 355.5h1v1h-1zM452.1 359.2h1v1h-1zM492.4 361.3h1v1h-1zM500.5 358.2h1v1h-1zM429.5 357.1h1v1h-1zM493.6 357.4h1v1h-1zM490.9 353.9h1v1h-1zM433.5 353.3h1v1h-1zM485.9 363.2h1v1h-1zM478.8 357.0h1v1h-1zM471.2 349.9h1v1h-1zM487.1 355.4h1v1h-1zM502.2 369.9h1v1h-1zM457.7 349.4h1v1h-1zM486.7 354.9h1v1h-1zM483.4 353.3h1v1h-1zM449.3 365.1h1v1h-1zM461.1 351.7h1v1h-1zM458.9 360.3h1v1h-1zM475.3 357.9h1v1h-1zM474.1 352.6h1v1h-1zM453.3 350.6h1v1h-1zM431.0 358.9h1v1h-1zM476.5 353.7h1v1h-1zM487.4 359.3h1v1h-1zM440.3 360.5h1v1h-1zM453.3 362.6h1v1h-1zM490.3 360.4h1v1h-1zM470.1 353.5h1v1h-1zM491.3 354.1h1v1h-1zM459.4 361.6h1v1h-1zM442.1 363.8h1v1h-1zM423.2 357.2h1v1h-1zM437.6 364.4h1v1h-1zM464.7 360.5h1v1h-1zM455.6 352.4h1v1h-1zM443.9 357.0h1v1h-1zM449.2 350.1h1v1h-1zM447.0 355.8h1v1h-1zM473.7 355.6h1v1h-1zM458.5 361.3h1v1h-1zM471.0 353.5h1v1h-1zM460.7 363.2h1v1h-1zM490.2 359.6h1v1h-1zM468.2 356.9h1v1h-1zM428.8 359.6h1v1h-1zM443.0 361.9h1v1h-1zM482.4 370.6h1v1h-1zM427.9 355.2h1v1h-1zM430.3 356.6h1v1h-1zM425.1 355.9h1v1h-1zM482.9 352.6h1v1h-1zM473.0 352.1h1v1h-1zM478.2 363.4h1v1h-1zM457.7 358.0h1v1h-1zM462.5 355.7h1v1h-1zM476.7 356.8h1v1h-1zM428.5 358.7h1v1h-1zM489.9 363.9h1v1h-1zM442.7 357.0h1v1h-1zM470.2 354.6h1v1h-1zM462.1 355.5h1v1h-1zM451.5 357.5h1v1h-1zM443.0 356.7h1v1h-1zM479.3 362.6h1v1h-1zM446.5 355.3h1v1h-1zM479.7 355.7h1v1h-1zM438.5 352.9h1v1h-1zM425.1 354.2h1v1h-1zM479.7 355.1h1v1h-1zM482.0 355.2h1v1h-1zM437.8 359.4h1v1h-1zM457.2 370.2h1v1h-1zM466.5 353.6h1v1h-1zM463.9 355.4h1v1h-1zM436.0 360.2h1v1h-1zM430.0 356.6h1v1h-1zM442.6 353.9h1v1h-1zM466.1 353.8h1v1h-1zM467.4 354.1h1v1h-1zM455.7 365.6h1v1h-1zM445.3 351.9h1v1h-1zM428.1 353.8h1v1h-1zM430.3 360.2h1v1h-1zM469.0 354.4h1v1h-1zM488.9 372.8h1v1h-1zM477.4 355.0h1v1h-1zM430.6 362.3h1v1h-1zM462.4 361.8h1v1h-1zM453.8 355.9h1v1h-1zM445.4 356.4h1v1h-1zM472.1 356.5h1v1h-1zM454.0 359.1h1v1h-1zM442.4 352.6h1v1h-1zM424.6 356.5h1v1h-1zM454.0 354.7h1v1h-1zM466.7 359.2h1v1h-1zM444.5 363.9h1v1h-1zM483.1 353.1h1v1h-1zM451.6 358.8h1v1h-1zM454.3 355.2h1v1h-1zM426.2 358.9h1v1h-1zM465.9 360.2h1v1h-1zM497.5 370.4h1v1h-1zM484.8 355.7h1v1h-1zM460.8 360.8h1v1h-1zM453.7 358.1h1v1h-1zM478.4 362.3h1v1h-1zM433.8 353.6h1v1h-1zM423.7 357.1h1v1h-1zM478.7 351.8h1v1h-1zM460.9 349.6h1v1h-1zM486.7 360.4h1v1h-1zM491.4 362.7h1v1h-1zM424.3 359.4h1v1h-1zM449.6 369.1h1v1h-1zM451.0 355.5h1v1h-1zM450.3 357.2h1v1h-1zM425.4 357.7h1v1h-1zM434.5 359.9h1v1h-1z"/>
<path fill="#E2735C" d="M498.5 361.1h1v1h-1zM485.9 364.4h1v1h-1zM463.4 358.1h1v1h-1zM459.9 372.0h1v1h-1zM484.3 359.4h1v1h-1zM435.5 357.0h1v1h-1zM455.9 357.1h1v1h-1zM461.3 353.9h1v1h-1zM447.5 356.0h1v1h-1zM481.5 359.0h1v1h-1zM480.3 362.5h1v1h-1zM477.8 361.5h1v1h-1zM456.0 356.0h1v1h-1zM439.1 352.4h1v1h-1zM459.9 374.8h1v1h-1zM459.8 350.5h1v1h-1zM497.5 364.0h1v1h-1zM426.1 359.6h1v1h-1zM469.8 363.2h1v1h-1zM466.4 364.0h1v1h-1zM465.3 361.9h1v1h-1zM468.3 371.9h1v1h-1zM436.4 363.2h1v1h-1zM469.4 354.0h1v1h-1zM464.9 358.3h1v1h-1zM469.5 351.4h1v1h-1zM475.1 370.6h1v1h-1zM490.2 358.4h1v1h-1zM479.3 357.7h1v1h-1zM480.4 367.7h1v1h-1zM423.8 360.9h1v1h-1zM456.3 350.5h1v1h-1zM461.8 354.4h1v1h-1zM485.8 352.6h1v1h-1zM460.9 374.8h1v1h-1zM441.8 365.1h1v1h-1zM481.6 362.0h1v1h-1zM446.9 355.0h1v1h-1zM438.5 358.6h1v1h-1zM486.9 361.6h1v1h-1zM497.0 356.9h1v1h-1zM426.4 357.8h1v1h-1zM438.0 356.2h1v1h-1zM485.1 352.7h1v1h-1zM441.7 357.2h1v1h-1zM467.6 373.4h1v1h-1zM456.1 351.7h1v1h-1zM427.6 356.0h1v1h-1zM466.5 361.1h1v1h-1zM444.7 368.9h1v1h-1zM488.2 356.0h1v1h-1zM480.4 352.8h1v1h-1zM494.7 368.9h1v1h-1zM460.9 359.5h1v1h-1zM435.9 360.6h1v1h-1zM424.3 361.8h1v1h-1zM482.9 362.0h1v1h-1zM483.2 369.4h1v1h-1zM465.2 350.3h1v1h-1zM489.3 361.6h1v1h-1zM430.2 362.3h1v1h-1zM433.4 359.7h1v1h-1zM479.1 365.7h1v1h-1zM449.8 367.3h1v1h-1zM475.5 377.0h1v1h-1zM470.2 361.6h1v1h-1zM460.3 371.7h1v1h-1zM448.3 352.2h1v1h-1zM429.4 354.3h1v1h-1zM450.2 351.1h1v1h-1zM454.3 372.4h1v1h-1zM473.6 352.1h1v1h-1zM432.3 361.9h1v1h-1zM490.6 355.6h1v1h-1zM476.2 361.6h1v1h-1zM447.0 352.7h1v1h-1zM446.7 357.3h1v1h-1zM467.5 361.4h1v1h-1zM460.8 361.2h1v1h-1zM486.1 356.5h1v1h-1zM470.7 366.8h1v1h-1zM464.3 354.8h1v1h-1zM474.3 352.1h1v1h-1zM448.6 358.3h1v1h-1zM483.8 363.8h1v1h-1zM425.7 361.7h1v1h-1zM458.0 359.3h1v1h-1zM457.1 349.9h1v1h-1zM474.3 357.6h1v1h-1zM477.5 377.8h1v1h-1zM472.8 369.5h1v1h-1zM443.9 362.0h1v1h-1zM445.6 354.3h1v1h-1zM450.3 356.7h1v1h-1zM443.5 354.3h1v1h-1zM432.4 354.5h1v1h-1zM500.3 361.7h1v1h-1zM481.3 360.2h1v1h-1zM453.9 349.3h1v1h-1zM451.6 361.8h1v1h-1zM476.3 358.6h1v1h-1zM457.5 353.1h1v1h-1zM450.9 364.3h1v1h-1zM455.9 358.3h1v1h-1zM455.3 349.7h1v1h-1zM440.2 350.9h1v1h-1zM433.2 353.8h1v1h-1zM454.6 362.2h1v1h-1zM444.3 364.8h1v1h-1zM469.3 353.2h1v1h-1zM441.2 357.8h1v1h-1zM468.0 356.4h1v1h-1zM466.5 371.7h1v1h-1zM484.1 356.4h1v1h-1zM479.6 355.5h1v1h-1zM481.1 356.2h1v1h-1zM457.4 367.4h1v1h-1zM462.7 354.6h1v1h-1zM476.3 360.9h1v1h-1zM473.8 368.2h1v1h-1zM445.5 361.1h1v1h-1zM475.5 350.4h1v1h-1zM442.5 353.2h1v1h-1zM486.5 357.2h1v1h-1zM480.3 360.3h1v1h-1zM472.9 367.8h1v1h-1zM486.2 361.2h1v1h-1zM454.7 358.2h1v1h-1zM468.2 360.7h1v1h-1zM447.1 366.8h1v1h-1zM471.1 356.1h1v1h-1zM491.0 367.2h1v1h-1zM441.8 358.6h1v1h-1zM450.6 352.3h1v1h-1zM498.3 361.3h1v1h-1zM443.8 359.9h1v1h-1zM466.2 355.4h1v1h-1zM495.1 359.7h1v1h-1zM426.9 356.7h1v1h-1zM441.1 359.0h1v1h-1zM485.8 364.4h1v1h-1zM474.2 371.8h1v1h-1zM464.6 367.5h1v1h-1zM471.7 355.0h1v1h-1zM429.5 355.2h1v1h-1zM490.5 369.0h1v1h-1zM486.2 357.2h1v1h-1zM472.6 369.2h1v1h-1zM440.6 360.6h1v1h-1zM495.9 371.7h1v1h-1zM429.9 353.6h1v1h-1zM503.4 365.2h1v1h-1zM467.2 374.8h1v1h-1zM467.2 360.5h1v1h-1zM471.9 350.5h1v1h-1zM492.9 355.6h1v1h-1zM465.1 354.7h1v1h-1zM471.9 359.6h1v1h-1zM432.0 360.3h1v1h-1zM425.2 359.9h1v1h-1zM484.7 365.5h1v1h-1zM471.8 361.6h1v1h-1zM474.6 368.4h1v1h-1zM476.0 362.9h1v1h-1zM457.0 351.3h1v1h-1zM434.5 363.3h1v1h-1zM430.5 360.5h1v1h-1zM469.8 374.5h1v1h-1zM451.8 350.5h1v1h-1zM474.0 360.4h1v1h-1zM468.7 365.0h1v1h-1zM479.1 361.3h1v1h-1zM478.3 355.2h1v1h-1zM437.2 353.7h1v1h-1zM478.8 352.5h1v1h-1zM455.9 365.4h1v1h-1zM435.4 353.2h1v1h-1zM484.5 362.9h1v1h-1zM443.5 361.7h1v1h-1zM439.5 353.7h1v1h-1zM500.6 359.4h1v1h-1zM504.3 371.2h1v1h-1zM483.7 354.2h1v1h-1zM448.3 352.0h1v1h-1zM475.7 360.1h1v1h-1zM449.8 356.7h1v1h-1zM493.9 357.4h1v1h-1zM469.1 369.2h1v1h-1zM453.1 352.5h1v1h-1zM482.4 352.7h1v1h-1zM481.1 353.0h1v1h-1zM482.3 353.2h1v1h-1zM450.7 353.0h1v1h-1zM458.6 354.8h1v1h-1zM425.7 361.1h1v1h-1zM442.0 361.6h1v1h-1zM448.8 367.3h1v1h-1zM426.5 358.0h1v1h-1zM467.6 351.9h1v1h-1zM491.5 356.1h1v1h-1zM483.8 376.4h1v1h-1zM458.3 364.3h1v1h-1zM467.9 350.3h1v1h-1zM452.7 365.9h1v1h-1zM461.6 359.7h1v1h-1zM448.3 354.5h1v1h-1zM477.8 352.3h1v1h-1zM483.9 355.3h1v1h-1zM424.0 360.3h1v1h-1zM487.8 378.7h1v1h-1zM453.1 350.4h1v1h-1zM496.6 363.5h1v1h-1zM456.3 352.8h1v1h-1zM461.8 364.0h1v1h-1zM481.1 363.8h1v1h-1zM482.9 366.1h1v1h-1zM483.9 369.2h1v1h-1zM478.4 361.2h1v1h-1zM426.4 355.9h1v1h-1zM431.1 352.6h1v1h-1zM470.3 368.4h1v1h-1zM436.5 353.5h1v1h-1zM473.8 373.3h1v1h-1zM444.8 362.1h1v1h-1zM478.4 352.0h1v1h-1zM455.6 372.2h1v1h-1zM501.3 359.7h1v1h-1zM486.3 359.2h1v1h-1zM479.5 378.4h1v1h-1zM467.9 359.7h1v1h-1zM457.3 351.2h1v1h-1zM496.3 370.9h1v1h-1zM484.8 355.8h1v1h-1zM484.7 376.8h1v1h-1zM446.3 357.9h1v1h-1zM487.9 372.9h1v1h-1zM461.9 364.8h1v1h-1zM434.7 361.6h1v1h-1zM441.0 368.1h1v1h-1zM458.0 352.5h1v1h-1zM446.9 352.6h1v1h-1zM477.3 358.2h1v1h-1zM467.8 356.6h1v1h-1zM505.2 362.2h1v1h-1zM463.5 359.7h1v1h-1zM432.8 355.3h1v1h-1zM470.5 370.8h1v1h-1zM435.8 365.1h1v1h-1zM464.0 364.0h1v1h-1zM483.3 371.4h1v1h-1zM442.6 352.2h1v1h-1zM478.4 374.5h1v1h-1zM456.5 363.0h1v1h-1zM475.9 375.3h1v1h-1zM474.6 376.7h1v1h-1zM426.2 360.5h1v1h-1zM471.4 356.4h1v1h-1zM481.7 362.7h1v1h-1zM447.6 358.1h1v1h-1zM461.5 359.3h1v1h-1zM468.6 370.2h1v1h-1zM470.2 357.0h1v1h-1zM473.9 358.6h1v1h-1zM492.3 366.8h1v1h-1zM477.3 360.4h1v1h-1zM468.1 359.8h1v1h-1zM473.2 360.2h1v1h-1zM481.2 353.7h1v1h-1zM465.6 352.2h1v1h-1zM458.2 355.5h1v1h-1zM451.6 356.5h1v1h-1zM490.9 357.1h1v1h-1zM464.3 356.6h1v1h-1zM471.7 361.7h1v1h-1zM485.6 356.9h1v1h-1zM449.3 359.7h1v1h-1zM476.9 352.4h1v1h-1zM493.4 370.8h1v1h-1zM438.8 356.2h1v1h-1zM466.8 356.2h1v1h-1zM471.7 357.0h1v1h-1zM434.6 357.2h1v1h-1zM503.8 366.2h1v1h-1zM482.2 369.2h1v1h-1zM439.3 357.9h1v1h-1zM444.9 363.0h1v1h-1zM489.1 363.3h1v1h-1zM437.3 360.7h1v1h-1zM465.3 351.9h1v1h-1zM440.2 359.8h1v1h-1zM490.8 375.9h1v1h-1zM471.0 351.1h1v1h-1zM450.3 351.0h1v1h-1zM462.2 358.9h1v1h-1zM462.8 351.0h1v1h-1zM481.5 376.1h1v1h-1zM487.0 373.4h1v1h-1zM464.7 353.1h1v1h-1zM485.1 369.2h1v1h-1zM442.0 354.6h1v1h-1zM485.6 356.7h1v1h-1zM487.9 362.2h1v1h-1zM464.9 369.5h1v1h-1zM482.9 361.5h1v1h-1zM441.1 353.0h1v1h-1zM460.1 359.0h1v1h-1zM488.3 355.0h1v1h-1zM434.6 357.3h1v1h-1zM503.2 362.0h1v1h-1zM470.3 368.0h1v1h-1zM452.6 350.0h1v1h-1zM457.7 358.0h1v1h-1zM438.4 352.7h1v1h-1zM471.3 374.5h1v1h-1zM429.4 354.3h1v1h-1zM431.1 361.1h1v1h-1zM491.3 363.8h1v1h-1zM463.7 352.7h1v1h-1zM498.3 363.7h1v1h-1zM483.7 352.0h1v1h-1zM443.4 357.0h1v1h-1zM458.5 372.9h1v1h-1zM464.1 369.4h1v1h-1zM462.3 354.4h1v1h-1zM454.6 371.4h1v1h-1zM481.4 352.6h1v1h-1zM483.1 361.8h1v1h-1zM464.8 353.1h1v1h-1zM485.3 359.1h1v1h-1zM467.2 364.2h1v1h-1zM498.1 361.9h1v1h-1zM441.7 355.1h1v1h-1zM458.0 369.1h1v1h-1zM441.9 354.5h1v1h-1zM435.8 356.6h1v1h-1zM491.5 359.0h1v1h-1zM443.2 352.9h1v1h-1zM460.1 360.5h1v1h-1zM423.6 361.5h1v1h-1zM445.3 351.2h1v1h-1zM459.5 369.2h1v1h-1zM480.9 358.3h1v1h-1zM442.4 355.5h1v1h-1zM441.7 352.0h1v1h-1zM467.3 351.1h1v1h-1zM464.6 357.6h1v1h-1zM474.7 359.9h1v1h-1zM470.2 363.6h1v1h-1zM441.1 360.8h1v1h-1zM451.7 363.3h1v1h-1zM444.8 359.9h1v1h-1zM465.0 355.3h1v1h-1zM500.6 370.9h1v1h-1zM472.9 356.8h1v1h-1zM467.4 364.6h1v1h-1zM475.9 357.4h1v1h-1zM434.5 363.1h1v1h-1zM471.2 360.0h1v1h-1zM432.9 357.6h1v1h-1zM473.0 355.7h1v1h-1zM499.4 364.5h1v1h-1zM501.3 361.6h1v1h-1zM445.1 354.0h1v1h-1zM485.8 363.6h1v1h-1zM447.1 356.7h1v1h-1zM451.5 361.3h1v1h-1zM444.1 352.2h1v1h-1zM466.2 371.5h1v1h-1zM490.7 360.5h1v1h-1zM469.5 364.4h1v1h-1zM430.0 354.0h1v1h-1zM432.0 359.7h1v1h-1zM472.0 362.4h1v1h-1zM464.8 354.4h1v1h-1zM438.6 352.3h1v1h-1zM454.9 361.9h1v1h-1zM449.5 365.9h1v1h-1zM463.6 359.3h1v1h-1zM458.2 361.5h1v1h-1zM471.4 362.9h1v1h-1zM496.8 357.8h1v1h-1zM459.6 373.0h1v1h-1zM427.4 359.4h1v1h-1zM428.1 356.2h1v1h-1zM452.8 352.9h1v1h-1zM463.1 362.4h1v1h-1zM444.3 356.9h1v1h-1zM462.6 356.3h1v1h-1zM503.1 364.9h1v1h-1zM450.0 354.9h1v1h-1zM466.0 355.5h1v1h-1zM464.1 358.5h1v1h-1zM480.2 362.0h1v1h-1zM448.6 369.6h1v1h-1zM476.3 353.2h1v1h-1zM463.6 372.0h1v1h-1zM446.9 353.4h1v1h-1zM461.4 351.3h1v1h-1zM449.6 359.6h1v1h-1zM497.6 367.8h1v1h-1zM440.4 363.1h1v1h-1zM449.9 360.3h1v1h-1zM468.5 364.7h1v1h-1zM489.1 360.1h1v1h-1zM465.2 351.9h1v1h-1zM449.7 350.9h1v1h-1zM446.9 365.6h1v1h-1zM480.8 377.6h1v1h-1zM444.1 360.4h1v1h-1zM454.0 351.0h1v1h-1zM479.5 367.5h1v1h-1zM432.1 358.3h1v1h-1zM466.4 375.7h1v1h-1zM481.3 353.8h1v1h-1zM436.3 361.6h1v1h-1zM440.1 362.6h1v1h-1zM498.2 369.1h1v1h-1zM453.2 357.4h1v1h-1zM427.1 355.4h1v1h-1zM447.6 360.3h1v1h-1zM486.6 354.3h1v1h-1zM469.8 354.8h1v1h-1zM496.0 364.8h1v1h-1zM451.1 354.9h1v1h-1zM484.0 370.1h1v1h-1zM491.6 360.6h1v1h-1zM474.1 357.3h1v1h-1zM481.4 357.7h1v1h-1zM485.2 376.8h1v1h-1zM457.9 371.7h1v1h-1zM485.1 368.6h1v1h-1zM468.5 363.3h1v1h-1zM442.4 358.4h1v1h-1zM445.5 358.5h1v1h-1zM482.8 355.0h1v1h-1zM432.8 357.6h1v1h-1zM470.2 362.8h1v1h-1zM455.0 368.2h1v1h-1zM460.3 358.5h1v1h-1zM461.7 363.1h1v1h-1zM455.6 366.8h1v1h-1zM498.8 362.2h1v1h-1zM482.7 375.5h1v1h-1zM424.5 357.6h1v1h-1zM490.7 375.5h1v1h-1zM459.4 360.7h1v1h-1zM447.5 357.0h1v1h-1zM468.8 374.0h1v1h-1zM462.6 356.0h1v1h-1zM464.5 353.4h1v1h-1zM455.6 362.2h1v1h-1zM458.9 351.2h1v1h-1zM453.8 363.1h1v1h-1zM495.5 369.6h1v1h-1zM468.4 364.5h1v1h-1zM467.6 356.0h1v1h-1zM477.7 361.2h1v1h-1zM476.0 369.1h1v1h-1zM475.9 352.2h1v1h-1zM457.9 352.8h1v1h-1zM443.4 353.7h1v1h-1zM442.9 354.3h1v1h-1zM483.2 377.9h1v1h-1zM449.6 353.5h1v1h-1zM439.6 356.8h1v1h-1zM433.5 353.4h1v1h-1zM442.2 356.4h1v1h-1zM443.0 365.2h1v1h-1zM488.6 361.3h1v1h-1zM498.4 368.3h1v1h-1zM469.7 352.0h1v1h-1zM448.7 368.1h1v1h-1zM499.8 357.9h1v1h-1zM441.9 363.4h1v1h-1zM431.1 357.1h1v1h-1zM431.9 360.8h1v1h-1zM490.1 360.5h1v1h-1zM439.6 364.8h1v1h-1zM446.6 361.9h1v1h-1zM487.5 358.6h1v1h-1zM478.0 364.2h1v1h-1zM474.1 367.7h1v1h-1zM457.6 372.4h1v1h-1zM442.4 365.0h1v1h-1zM448.9 360.7h1v1h-1zM457.9 362.8h1v1h-1zM476.9 354.4h1v1h-1zM464.2 361.4h1v1h-1zM430.8 353.5h1v1h-1zM477.9 352.8h1v1h-1zM499.9 371.5h1v1h-1zM481.6 353.9h1v1h-1zM479.2 362.2h1v1h-1zM439.8 362.5h1v1h-1zM445.0 364.9h1v1h-1zM431.6 355.0h1v1h-1zM447.2 351.6h1v1h-1zM474.7 350.4h1v1h-1zM483.3 371.1h1v1h-1zM456.5 350.0h1v1h-1zM491.3 362.9h1v1h-1zM485.4 353.8h1v1h-1zM449.2 350.3h1v1h-1zM449.1 361.1h1v1h-1zM474.2 354.5h1v1h-1zM442.9 358.1h1v1h-1zM496.7 356.4h1v1h-1zM473.4 362.6h1v1h-1zM495.3 364.5h1v1h-1zM453.1 364.5h1v1h-1zM472.2 363.5h1v1h-1zM431.3 357.4h1v1h-1zM491.2 356.2h1v1h-1zM458.2 353.1h1v1h-1zM449.3 355.8h1v1h-1zM453.3 357.7h1v1h-1zM490.2 367.6h1v1h-1zM455.1 369.3h1v1h-1zM499.3 366.0h1v1h-1zM460.7 354.5h1v1h-1zM436.5 351.5h1v1h-1zM473.4 350.6h1v1h-1zM499.4 361.6h1v1h-1zM474.3 372.4h1v1h-1zM465.6 364.0h1v1h-1zM468.3 363.6h1v1h-1zM501.0 360.9h1v1h-1zM460.2 351.0h1v1h-1z"/>
<path fill="#F2AE9C" d="M455.8 367.6h1v1h-1zM504.2 363.6h1v1h-1zM429.3 362.0h1v1h-1zM483.9 370.1h1v1h-1zM477.8 360.5h1v1h-1zM470.4 355.1h1v1h-1zM442.1 363.3h1v1h-1zM462.2 357.4h1v1h-1zM479.0 357.3h1v1h-1zM442.1 352.6h1v1h-1zM445.3 364.2h1v1h-1zM483.1 367.4h1v1h-1zM486.9 372.9h1v1h-1zM466.8 367.2h1v1h-1zM483.7 357.0h1v1h-1zM447.4 363.4h1v1h-1zM492.2 368.8h1v1h-1zM500.2 364.7h1v1h-1zM453.1 369.0h1v1h-1zM494.8 369.6h1v1h-1zM497.3 363.7h1v1h-1zM454.0 372.2h1v1h-1zM439.2 363.2h1v1h-1zM441.3 363.7h1v1h-1zM461.9 361.1h1v1h-1zM446.3 368.9h1v1h-1zM456.2 355.2h1v1h-1zM478.2 363.1h1v1h-1zM462.8 352.0h1v1h-1zM486.3 370.0h1v1h-1zM436.8 364.7h1v1h-1zM458.1 369.3h1v1h-1zM468.3 361.4h1v1h-1zM436.9 361.2h1v1h-1zM425.3 361.6h1v1h-1zM479.0 363.8h1v1h-1zM465.3 366.9h1v1h-1zM484.4 376.1h1v1h-1zM472.9 371.7h1v1h-1zM447.8 355.8h1v1h-1zM487.9 370.2h1v1h-1zM476.0 375.7h1v1h-1zM484.0 373.7h1v1h-1zM457.5 361.9h1v1h-1zM470.9 371.9h1v1h-1zM474.8 353.2h1v1h-1zM487.8 358.7h1v1h-1zM498.4 373.1h1v1h-1zM472.9 363.6h1v1h-1zM491.7 377.0h1v1h-1zM490.3 362.1h1v1h-1zM494.7 371.8h1v1h-1zM491.5 369.8h1v1h-1zM430.0 361.5h1v1h-1zM491.1 370.0h1v1h-1zM501.3 359.6h1v1h-1zM456.3 368.3h1v1h-1zM481.5 352.8h1v1h-1zM486.6 363.4h1v1h-1zM502.2 368.8h1v1h-1zM491.1 365.0h1v1h-1zM447.8 369.4h1v1h-1zM487.0 372.6h1v1h-1zM436.4 360.6h1v1h-1zM472.8 375.4h1v1h-1zM504.7 369.4h1v1h-1zM424.9 355.5h1v1h-1zM488.1 374.5h1v1h-1zM467.0 372.6h1v1h-1zM496.7 368.3h1v1h-1zM460.1 365.4h1v1h-1zM447.9 369.8h1v1h-1zM445.7 361.8h1v1h-1zM487.2 360.1h1v1h-1zM464.8 363.1h1v1h-1zM439.9 363.9h1v1h-1zM477.4 375.6h1v1h-1zM471.0 363.0h1v1h-1zM455.1 355.7h1v1h-1zM477.9 375.3h1v1h-1zM466.5 372.0h1v1h-1zM438.0 365.8h1v1h-1zM456.4 362.9h1v1h-1zM490.4 355.7h1v1h-1zM493.0 365.3h1v1h-1zM434.7 361.8h1v1h-1zM459.7 356.8h1v1h-1zM449.5 363.3h1v1h-1zM437.6 361.4h1v1h-1zM472.9 369.4h1v1h-1zM460.2 371.2h1v1h-1zM496.8 372.2h1v1h-1zM495.6 375.1h1v1h-1zM466.0 355.0h1v1h-1zM428.4 354.0h1v1h-1zM452.8 367.7h1v1h-1zM451.7 359.2h1v1h-1zM466.5 370.7h1v1h-1zM499.8 369.1h1v1h-1zM483.4 362.2h1v1h-1zM471.7 372.3h1v1h-1zM472.8 354.6h1v1h-1zM442.7 355.1h1v1h-1zM443.8 355.8h1v1h-1zM448.2 366.5h1v1h-1zM467.9 359.2h1v1h-1zM478.6 376.2h1v1h-1zM495.8 372.2h1v1h-1zM437.9 361.0h1v1h-1zM503.2 362.7h1v1h-1zM462.3 365.4h1v1h-1zM505.3 367.1h1v1h-1zM460.8 370.6h1v1h-1zM480.4 373.7h1v1h-1zM483.4 366.2h1v1h-1zM500.2 371.7h1v1h-1zM473.8 360.6h1v1h-1zM502.9 366.5h1v1h-1zM441.6 362.8h1v1h-1zM484.6 369.8h1v1h-1zM428.5 357.2h1v1h-1zM491.5 374.0h1v1h-1zM475.2 375.2h1v1h-1zM485.6 368.8h1v1h-1zM489.9 374.0h1v1h-1zM489.8 358.1h1v1h-1zM495.9 372.8h1v1h-1zM487.2 376.8h1v1h-1zM494.1 363.0h1v1h-1zM498.7 373.0h1v1h-1zM464.0 362.4h1v1h-1zM503.0 364.6h1v1h-1zM427.5 354.6h1v1h-1zM478.5 376.5h1v1h-1zM451.1 364.3h1v1h-1zM481.3 365.8h1v1h-1zM476.6 367.2h1v1h-1zM497.5 372.0h1v1h-1zM463.5 372.6h1v1h-1zM467.9 360.8h1v1h-1zM483.6 364.3h1v1h-1zM469.4 374.9h1v1h-1zM500.9 362.1h1v1h-1zM498.3 369.6h1v1h-1zM478.6 362.0h1v1h-1zM452.1 366.0h1v1h-1zM486.4 358.0h1v1h-1zM492.7 357.3h1v1h-1zM492.6 369.3h1v1h-1zM481.3 373.6h1v1h-1zM493.4 373.3h1v1h-1zM473.8 377.6h1v1h-1zM477.0 362.2h1v1h-1zM462.8 369.1h1v1h-1zM489.9 369.6h1v1h-1zM438.0 362.3h1v1h-1zM448.6 366.2h1v1h-1zM447.3 355.5h1v1h-1zM491.7 376.6h1v1h-1zM443.7 361.5h1v1h-1zM463.4 369.4h1v1h-1zM501.4 371.9h1v1h-1zM460.5 361.2h1v1h-1zM454.5 366.0h1v1h-1zM485.4 375.6h1v1h-1zM491.4 374.1h1v1h-1zM474.8 371.9h1v1h-1zM486.2 376.4h1v1h-1zM500.9 362.9h1v1h-1zM458.1 374.0h1v1h-1zM473.7 371.8h1v1h-1zM476.5 358.0h1v1h-1zM498.9 357.8h1v1h-1zM491.2 370.6h1v1h-1zM462.8 365.3h1v1h-1zM492.2 371.8h1v1h-1zM446.7 360.6h1v1h-1zM494.4 364.9h1v1h-1zM490.0 359.5h1v1h-1zM490.7 362.8h1v1h-1zM498.0 367.9h1v1h-1zM474.1 358.3h1v1h-1zM443.8 367.4h1v1h-1zM487.8 375.5h1v1h-1zM479.5 355.7h1v1h-1zM471.0 373.7h1v1h-1zM470.4 369.0h1v1h-1zM460.3 372.0h1v1h-1zM452.5 369.6h1v1h-1zM451.7 368.6h1v1h-1zM499.3 359.5h1v1h-1zM501.3 366.7h1v1h-1zM470.3 375.5h1v1h-1zM439.4 360.2h1v1h-1zM424.2 359.0h1v1h-1zM496.2 366.7h1v1h-1zM461.5 371.2h1v1h-1zM465.5 351.5h1v1h-1zM449.8 368.9h1v1h-1zM464.5 357.1h1v1h-1zM476.3 367.0h1v1h-1zM492.6 370.4h1v1h-1zM499.1 372.3h1v1h-1zM489.8 368.6h1v1h-1zM452.7 370.1h1v1h-1zM456.2 373.1h1v1h-1zM497.0 361.8h1v1h-1zM487.1 370.1h1v1h-1zM447.0 353.3h1v1h-1zM489.4 364.9h1v1h-1zM484.8 374.6h1v1h-1zM504.9 364.7h1v1h-1zM444.6 363.3h1v1h-1zM455.9 362.1h1v1h-1zM438.1 365.5h1v1h-1zM459.2 364.1h1v1h-1zM493.4 373.5h1v1h-1zM501.8 367.4h1v1h-1zM451.6 350.8h1v1h-1zM428.7 359.6h1v1h-1zM447.1 365.8h1v1h-1zM506.4 365.0h1v1h-1zM436.7 363.8h1v1h-1zM485.8 363.1h1v1h-1zM445.9 364.1h1v1h-1zM448.5 364.4h1v1h-1zM448.4 367.2h1v1h-1zM443.0 361.2h1v1h-1zM457.6 360.8h1v1h-1zM440.3 362.7h1v1h-1zM465.2 356.9h1v1h-1zM490.5 361.6h1v1h-1zM469.5 375.2h1v1h-1zM505.2 363.2h1v1h-1zM446.5 365.9h1v1h-1zM471.9 367.8h1v1h-1zM494.6 374.9h1v1h-1zM477.0 371.6h1v1h-1zM463.5 373.1h1v1h-1zM494.0 362.6h1v1h-1zM501.7 372.1h1v1h-1zM474.4 365.2h1v1h-1zM481.7 375.6h1v1h-1zM473.6 368.7h1v1h-1zM465.4 365.6h1v1h-1zM464.6 371.3h1v1h-1zM461.4 372.2h1v1h-1zM486.0 377.4h1v1h-1zM481.6 369.4h1v1h-1zM497.2 371.3h1v1h-1zM434.3 363.7h1v1h-1zM452.0 362.2h1v1h-1zM464.3 376.6h1v1h-1zM432.7 363.7h1v1h-1zM420.9 358.1h1v1h-1zM489.2 354.4h1v1h-1zM500.0 368.1h1v1h-1zM487.1 374.5h1v1h-1zM455.9 360.8h1v1h-1zM479.6 366.7h1v1h-1zM480.8 374.1h1v1h-1zM504.0 367.9h1v1h-1zM478.6 364.5h1v1h-1zM478.2 376.7h1v1h-1zM460.0 362.1h1v1h-1zM449.3 358.0h1v1h-1zM462.3 352.5h1v1h-1zM466.9 363.3h1v1h-1zM488.0 354.8h1v1h-1zM474.9 357.0h1v1h-1zM471.0 361.6h1v1h-1zM476.9 374.8h1v1h-1zM490.7 365.4h1v1h-1zM493.6 358.8h1v1h-1zM477.7 373.9h1v1h-1zM450.1 367.5h1v1h-1zM474.9 365.3h1v1h-1zM450.8 354.3h1v1h-1zM491.9 370.8h1v1h-1zM424.3 356.7h1v1h-1zM492.0 365.0h1v1h-1zM486.8 363.1h1v1h-1zM490.7 367.6h1v1h-1zM463.1 351.3h1v1h-1zM479.5 374.4h1v1h-1zM462.9 354.3h1v1h-1zM483.9 369.0h1v1h-1zM440.3 356.9h1v1h-1zM490.8 366.3h1v1h-1zM492.8 358.2h1v1h-1zM472.0 368.7h1v1h-1zM462.0 362.8h1v1h-1zM447.2 367.7h1v1h-1zM460.8 361.3h1v1h-1zM485.1 361.5h1v1h-1zM479.7 378.8h1v1h-1zM468.2 366.4h1v1h-1zM477.1 370.8h1v1h-1zM479.5 361.1h1v1h-1zM465.0 367.1h1v1h-1zM457.5 361.6h1v1h-1zM466.8 364.7h1v1h-1zM489.5 370.2h1v1h-1zM495.6 362.5h1v1h-1zM465.2 357.1h1v1h-1zM489.6 370.5h1v1h-1zM504.4 366.7h1v1h-1zM499.8 364.5h1v1h-1zM486.8 370.3h1v1h-1zM467.8 364.8h1v1h-1zM484.6 359.8h1v1h-1zM478.5 376.1h1v1h-1zM458.4 368.3h1v1h-1zM433.4 363.5h1v1h-1zM469.8 356.5h1v1h-1zM493.0 368.6h1v1h-1zM486.1 365.3h1v1h-1zM458.9 367.5h1v1h-1zM455.2 357.6h1v1h-1zM447.4 369.8h1v1h-1zM494.6 361.0h1v1h-1zM462.1 364.8h1v1h-1zM447.7 362.2h1v1h-1zM501.7 369.8h1v1h-1zM449.3 358.5h1v1h-1zM491.1 365.0h1v1h-1zM492.1 375.4h1v1h-1zM482.9 377.0h1v1h-1zM441.5 364.5h1v1h-1zM499.4 365.9h1v1h-1zM485.2 370.6h1v1h-1zM457.9 373.1h1v1h-1zM482.3 362.8h1v1h-1zM440.4 363.6h1v1h-1zM457.0 363.1h1v1h-1zM500.2 367.6h1v1h-1zM500.1 366.6h1v1h-1zM431.9 359.9h1v1h-1zM462.9 366.9h1v1h-1zM502.2 363.4h1v1h-1zM493.7 373.7h1v1h-1zM462.1 374.0h1v1h-1zM474.2 357.6h1v1h-1zM453.7 367.6h1v1h-1zM486.7 376.0h1v1h-1zM496.7 361.6h1v1h-1zM468.3 371.9h1v1h-1zM497.6 357.0h1v1h-1zM474.2 366.9h1v1h-1zM478.6 365.6h1v1h-1zM449.3 351.6h1v1h-1zM473.0 367.2h1v1h-1zM478.0 363.1h1v1h-1zM473.8 366.3h1v1h-1zM484.4 364.3h1v1h-1zM438.9 352.1h1v1h-1zM441.9 360.9h1v1h-1zM502.2 365.3h1v1h-1zM478.4 364.7h1v1h-1zM492.2 376.4h1v1h-1zM454.4 356.1h1v1h-1zM458.7 366.1h1v1h-1zM441.4 359.0h1v1h-1zM474.7 375.4h1v1h-1zM457.2 369.4h1v1h-1zM489.0 374.4h1v1h-1zM473.7 363.0h1v1h-1zM457.9 366.8h1v1h-1zM434.7 356.8h1v1h-1zM463.8 376.4h1v1h-1zM475.6 373.7h1v1h-1zM473.9 373.0h1v1h-1zM440.3 359.4h1v1h-1zM454.1 370.6h1v1h-1zM482.6 370.6h1v1h-1zM468.0 371.9h1v1h-1zM459.1 357.9h1v1h-1zM477.8 354.7h1v1h-1zM485.1 354.5h1v1h-1zM495.6 375.8h1v1h-1zM459.1 369.8h1v1h-1zM481.5 376.1h1v1h-1zM474.2 371.6h1v1h-1zM489.9 366.5h1v1h-1zM458.2 352.5h1v1h-1zM488.1 365.3h1v1h-1zM442.4 360.0h1v1h-1zM464.5 369.8h1v1h-1zM487.4 376.4h1v1h-1zM502.9 366.8h1v1h-1zM446.3 366.2h1v1h-1zM474.8 377.4h1v1h-1zM461.8 370.0h1v1h-1zM463.1 361.9h1v1h-1zM485.0 358.1h1v1h-1zM478.7 369.7h1v1h-1zM499.5 363.3h1v1h-1zM454.4 368.6h1v1h-1zM454.6 350.4h1v1h-1zM459.8 372.0h1v1h-1zM463.3 373.5h1v1h-1zM475.9 352.9h1v1h-1zM487.3 354.3h1v1h-1zM445.2 367.8h1v1h-1zM472.7 373.2h1v1h-1zM456.4 367.5h1v1h-1zM477.8 361.1h1v1h-1zM457.8 360.6h1v1h-1zM482.0 373.5h1v1h-1zM485.0 370.9h1v1h-1zM438.9 360.3h1v1h-1zM467.1 363.5h1v1h-1zM480.4 374.9h1v1h-1zM446.4 358.2h1v1h-1zM428.1 360.4h1v1h-1zM461.4 372.4h1v1h-1zM481.9 373.8h1v1h-1zM463.5 368.2h1v1h-1zM471.5 365.7h1v1h-1zM487.4 356.4h1v1h-1zM472.6 367.4h1v1h-1zM461.3 359.8h1v1h-1zM490.5 374.6h1v1h-1zM467.1 371.8h1v1h-1zM472.9 371.5h1v1h-1zM484.6 375.2h1v1h-1zM427.9 358.8h1v1h-1zM469.9 355.1h1v1h-1zM428.0 360.8h1v1h-1zM484.4 361.6h1v1h-1zM435.0 355.9h1v1h-1zM467.3 349.5h1v1h-1zM464.5 361.6h1v1h-1zM478.5 352.1h1v1h-1zM485.7 362.3h1v1h-1zM480.7 366.7h1v1h-1zM470.8 364.8h1v1h-1zM456.9 354.4h1v1h-1zM496.5 358.1h1v1h-1zM471.8 367.3h1v1h-1zM477.7 361.6h1v1h-1zM444.8 366.5h1v1h-1zM463.6 358.7h1v1h-1zM495.4 361.2h1v1h-1zM495.1 375.1h1v1h-1zM433.0 355.2h1v1h-1zM474.1 375.0h1v1h-1zM498.0 357.8h1v1h-1zM428.2 355.7h1v1h-1zM436.3 356.0h1v1h-1zM470.5 362.0h1v1h-1zM447.6 365.6h1v1h-1zM478.1 353.0h1v1h-1zM466.4 374.9h1v1h-1zM457.3 366.7h1v1h-1zM489.6 377.0h1v1h-1zM487.5 376.3h1v1h-1zM449.5 364.4h1v1h-1zM503.3 369.4h1v1h-1zM499.4 372.4h1v1h-1zM503.6 370.9h1v1h-1zM468.0 368.2h1v1h-1zM475.0 376.8h1v1h-1zM443.9 366.6h1v1h-1zM482.4 373.4h1v1h-1zM472.8 359.2h1v1h-1zM457.5 368.6h1v1h-1zM443.9 366.1h1v1h-1zM497.6 372.6h1v1h-1zM439.6 355.8h1v1h-1zM497.9 357.7h1v1h-1zM462.8 361.4h1v1h-1zM481.5 360.9h1v1h-1zM464.7 352.0h1v1h-1zM492.6 365.1h1v1h-1zM502.4 364.4h1v1h-1zM459.8 361.4h1v1h-1zM452.2 360.5h1v1h-1zM501.9 362.7h1v1h-1zM474.0 368.6h1v1h-1zM472.2 364.8h1v1h-1zM471.9 374.3h1v1h-1zM493.3 375.4h1v1h-1zM477.9 366.2h1v1h-1zM483.7 366.9h1v1h-1zM480.0 374.8h1v1h-1zM500.9 358.3h1v1h-1zM448.1 351.6h1v1h-1zM473.3 372.8h1v1h-1zM461.4 373.6h1v1h-1zM432.2 358.6h1v1h-1zM479.7 367.0h1v1h-1zM459.5 355.0h1v1h-1zM462.6 357.0h1v1h-1zM442.0 358.7h1v1h-1zM474.0 364.3h1v1h-1zM465.2 374.1h1v1h-1zM485.2 357.5h1v1h-1zM486.5 367.6h1v1h-1zM437.1 363.1h1v1h-1zM493.2 373.0h1v1h-1zM438.7 361.8h1v1h-1zM478.2 372.0h1v1h-1zM453.1 366.2h1v1h-1zM495.3 363.4h1v1h-1zM436.4 353.4h1v1h-1zM437.8 364.2h1v1h-1zM482.1 355.2h1v1h-1zM505.1 365.2h1v1h-1zM446.8 369.0h1v1h-1zM490.8 360.5h1v1h-1zM445.9 362.3h1v1h-1zM453.2 369.3h1v1h-1zM498.6 371.6h1v1h-1zM422.5 361.2h1v1h-1zM476.8 374.7h1v1h-1zM430.4 356.9h1v1h-1zM497.7 362.1h1v1h-1zM489.7 363.1h1v1h-1zM494.5 370.2h1v1h-1zM469.8 373.6h1v1h-1zM489.3 355.1h1v1h-1zM425.2 360.6h1v1h-1zM487.6 375.4h1v1h-1zM461.2 365.2h1v1h-1zM470.1 375.3h1v1h-1zM468.9 374.8h1v1h-1zM484.8 374.1h1v1h-1zM488.9 373.8h1v1h-1zM479.6 365.2h1v1h-1zM500.6 371.4h1v1h-1zM460.0 352.4h1v1h-1zM478.5 354.7h1v1h-1zM432.7 360.2h1v1h-1zM441.0 357.8h1v1h-1zM476.2 355.3h1v1h-1zM447.2 361.3h1v1h-1zM456.7 363.5h1v1h-1zM502.0 368.3h1v1h-1zM466.0 364.4h1v1h-1zM486.2 369.0h1v1h-1zM450.6 351.2h1v1h-1zM434.0 352.5h1v1h-1zM446.0 364.0h1v1h-1zM488.0 363.0h1v1h-1zM506.2 369.3h1v1h-1zM503.4 362.8h1v1h-1z"/>
<path fill="#FBE3DC" d="M495.6 373.8h1v1h-1zM466.6 366.1h1v1h-1zM465.3 363.0h1v1h-1zM483.9 368.2h1v1h-1zM459.5 368.8h1v1h-1zM433.0 357.3h1v1h-1zM459.5 364.8h1v1h-1zM469.1 375.9h1v1h-1zM488.7 374.5h1v1h-1zM450.8 362.9h1v1h-1zM480.0 354.1h1v1h-1zM490.1 363.8h1v1h-1zM488.7 374.5h1v1h-1zM457.3 374.3h1v1h-1zM462.9 351.8h1v1h-1zM494.6 363.6h1v1h-1zM489.4 368.2h1v1h-1zM505.8 367.7h1v1h-1zM500.9 365.8h1v1h-1zM462.1 368.9h1v1h-1zM481.9 373.6h1v1h-1zM493.7 375.1h1v1h-1zM493.1 377.1h1v1h-1zM491.7 364.5h1v1h-1zM440.6 364.4h1v1h-1zM481.8 372.3h1v1h-1zM448.0 369.4h1v1h-1zM463.0 370.2h1v1h-1zM464.7 359.5h1v1h-1zM500.5 370.5h1v1h-1zM502.4 371.2h1v1h-1zM494.3 366.9h1v1h-1zM490.1 365.3h1v1h-1zM456.9 351.7h1v1h-1zM471.6 374.4h1v1h-1zM459.7 355.0h1v1h-1zM447.0 366.6h1v1h-1zM456.7 349.5h1v1h-1zM436.0 365.3h1v1h-1zM453.4 362.2h1v1h-1zM452.0 368.7h1v1h-1zM503.1 371.8h1v1h-1zM458.7 372.2h1v1h-1zM474.4 351.8h1v1h-1zM460.5 373.3h1v1h-1zM472.8 376.6h1v1h-1zM494.3 370.7h1v1h-1zM447.6 368.4h1v1h-1zM455.3 369.0h1v1h-1zM483.1 366.1h1v1h-1zM488.4 378.0h1v1h-1zM501.0 360.6h1v1h-1zM481.7 358.4h1v1h-1zM448.5 370.5h1v1h-1zM444.5 364.4h1v1h-1zM440.8 363.9h1v1h-1zM489.5 365.3h1v1h-1zM451.2 360.4h1v1h-1zM462.1 369.3h1v1h-1zM491.7 365.8h1v1h-1zM480.5 372.6h1v1h-1zM465.8 363.5h1v1h-1zM489.8 370.3h1v1h-1zM486.1 364.0h1v1h-1zM480.6 370.0h1v1h-1zM487.9 372.0h1v1h-1zM485.5 374.2h1v1h-1zM466.4 368.5h1v1h-1zM475.9 376.1h1v1h-1zM494.0 372.1h1v1h-1zM498.8 364.9h1v1h-1zM468.9 370.0h1v1h-1zM494.6 372.8h1v1h-1zM460.0 362.7h1v1h-1zM469.3 366.2h1v1h-1zM496.0 374.4h1v1h-1zM508.1 365.7h1v1h-1zM499.7 371.6h1v1h-1zM467.2 375.6h1v1h-1zM487.5 365.7h1v1h-1zM461.7 374.9h1v1h-1zM506.4 366.5h1v1h-1zM476.0 367.9h1v1h-1zM483.7 375.1h1v1h-1zM480.3 368.2h1v1h-1zM472.4 371.0h1v1h-1zM494.7 373.9h1v1h-1zM455.6 371.4h1v1h-1zM500.6 367.4h1v1h-1zM446.6 370.6h1v1h-1zM480.3 373.5h1v1h-1zM442.9 364.9h1v1h-1zM474.8 375.3h1v1h-1zM491.5 367.6h1v1h-1zM484.0 375.3h1v1h-1zM494.1 376.4h1v1h-1zM482.9 362.3h1v1h-1zM483.5 373.4h1v1h-1zM485.0 365.7h1v1h-1zM477.4 376.7h1v1h-1zM478.7 363.0h1v1h-1zM461.1 368.1h1v1h-1zM449.7 372.1h1v1h-1zM486.9 373.2h1v1h-1zM444.2 367.9h1v1h-1zM460.9 355.7h1v1h-1zM454.9 364.8h1v1h-1zM465.4 367.9h1v1h-1zM454.1 363.2h1v1h-1zM445.4 369.0h1v1h-1zM479.0 374.3h1v1h-1zM462.6 371.8h1v1h-1zM469.6 374.5h1v1h-1zM493.5 373.4h1v1h-1zM482.2 370.4h1v1h-1zM453.5 369.6h1v1h-1zM471.1 376.2h1v1h-1zM481.4 366.2h1v1h-1zM486.9 369.2h1v1h-1zM483.6 365.4h1v1h-1zM448.9 369.4h1v1h-1zM488.0 375.8h1v1h-1zM481.1 365.6h1v1h-1zM468.3 372.7h1v1h-1zM481.7 375.2h1v1h-1zM472.0 369.0h1v1h-1zM489.5 374.4h1v1h-1zM485.5 368.7h1v1h-1zM460.9 362.3h1v1h-1zM488.9 368.5h1v1h-1zM474.8 374.1h1v1h-1zM427.7 361.0h1v1h-1zM458.9 371.1h1v1h-1zM470.1 366.8h1v1h-1zM473.9 366.1h1v1h-1zM464.1 373.0h1v1h-1zM505.2 363.4h1v1h-1zM479.4 374.6h1v1h-1zM444.4 366.6h1v1h-1zM475.3 371.0h1v1h-1zM453.6 353.4h1v1h-1zM442.4 366.6h1v1h-1zM477.2 365.1h1v1h-1zM492.4 374.2h1v1h-1zM493.0 368.3h1v1h-1zM477.0 377.0h1v1h-1zM477.6 376.2h1v1h-1zM504.2 365.0h1v1h-1zM506.7 368.0h1v1h-1zM480.5 375.2h1v1h-1zM447.2 368.7h1v1h-1zM481.4 362.6h1v1h-1zM490.2 370.7h1v1h-1zM467.6 369.3h1v1h-1zM463.6 374.9h1v1h-1zM456.6 373.1h1v1h-1zM482.6 369.4h1v1h-1zM460.5 371.3h1v1h-1zM447.8 368.0h1v1h-1zM473.4 373.8h1v1h-1zM462.8 372.3h1v1h-1zM494.7 364.2h1v1h-1zM476.9 374.4h1v1h-1zM450.3 369.0h1v1h-1zM462.4 365.8h1v1h-1zM470.0 366.4h1v1h-1zM485.9 371.4h1v1h-1zM486.4 376.9h1v1h-1zM464.4 373.6h1v1h-1zM493.8 370.9h1v1h-1zM470.3 375.9h1v1h-1zM465.4 367.7h1v1h-1zM478.0 364.8h1v1h-1zM488.6 361.1h1v1h-1zM493.3 361.6h1v1h-1zM452.4 371.0h1v1h-1zM444.4 364.8h1v1h-1zM484.2 367.7h1v1h-1zM494.8 370.1h1v1h-1zM486.3 365.0h1v1h-1zM499.7 367.0h1v1h-1zM468.3 369.2h1v1h-1zM491.5 369.4h1v1h-1zM490.4 366.7h1v1h-1zM492.6 371.4h1v1h-1zM485.5 377.5h1v1h-1zM460.7 368.1h1v1h-1zM495.3 366.6h1v1h-1zM472.5 371.8h1v1h-1zM451.3 365.4h1v1h-1zM459.4 366.0h1v1h-1zM477.6 369.2h1v1h-1zM500.4 367.8h1v1h-1zM477.6 368.8h1v1h-1zM454.4 362.6h1v1h-1zM442.0 362.2h1v1h-1zM470.9 372.6h1v1h-1zM466.5 376.9h1v1h-1zM480.4 367.1h1v1h-1zM495.2 374.8h1v1h-1zM439.8 365.7h1v1h-1zM497.5 372.4h1v1h-1zM502.0 366.7h1v1h-1zM456.1 371.7h1v1h-1zM478.6 370.0h1v1h-1zM477.7 373.9h1v1h-1zM452.6 367.6h1v1h-1zM496.4 368.0h1v1h-1zM491.1 368.7h1v1h-1zM481.5 370.4h1v1h-1zM468.9 368.1h1v1h-1zM462.4 360.9h1v1h-1zM450.7 368.4h1v1h-1zM502.5 361.0h1v1h-1zM461.8 368.4h1v1h-1zM490.8 372.0h1v1h-1zM483.5 354.2h1v1h-1zM477.0 370.5h1v1h-1zM443.6 351.8h1v1h-1zM489.8 371.9h1v1h-1zM461.0 368.8h1v1h-1zM479.9 367.3h1v1h-1zM482.9 374.6h1v1h-1zM493.3 365.6h1v1h-1zM471.0 357.8h1v1h-1zM500.6 363.8h1v1h-1zM473.1 372.2h1v1h-1zM484.3 365.3h1v1h-1zM450.3 366.8h1v1h-1zM443.3 366.3h1v1h-1zM450.2 368.1h1v1h-1zM453.4 369.7h1v1h-1zM500.5 365.0h1v1h-1zM494.5 368.5h1v1h-1zM494.0 374.7h1v1h-1zM488.1 369.4h1v1h-1zM484.3 366.8h1v1h-1zM501.7 370.5h1v1h-1zM462.5 369.9h1v1h-1zM462.0 376.2h1v1h-1zM439.2 363.1h1v1h-1zM448.3 368.6h1v1h-1zM446.2 368.8h1v1h-1zM461.4 365.0h1v1h-1zM475.8 367.9h1v1h-1zM446.2 355.7h1v1h-1zM467.3 365.5h1v1h-1zM472.9 376.0h1v1h-1zM453.0 371.5h1v1h-1zM467.2 373.1h1v1h-1zM485.8 375.3h1v1h-1zM474.1 370.8h1v1h-1zM502.0 368.7h1v1h-1zM447.0 364.2h1v1h-1zM489.7 373.2h1v1h-1zM463.3 372.2h1v1h-1zM471.2 369.9h1v1h-1zM493.0 372.3h1v1h-1zM492.5 365.2h1v1h-1zM469.0 364.7h1v1h-1zM483.4 373.9h1v1h-1zM458.0 370.5h1v1h-1zM476.6 370.4h1v1h-1zM469.5 372.4h1v1h-1zM489.7 370.0h1v1h-1zM455.8 372.9h1v1h-1zM473.9 372.7h1v1h-1zM426.0 361.3h1v1h-1zM503.4 368.2h1v1h-1zM467.7 373.9h1v1h-1zM503.6 362.9h1v1h-1zM499.1 370.6h1v1h-1zM472.2 370.1h1v1h-1zM475.7 368.6h1v1h-1zM494.3 363.4h1v1h-1zM473.3 365.8h1v1h-1zM471.3 373.3h1v1h-1zM468.8 368.5h1v1h-1zM484.7 372.5h1v1h-1zM505.0 367.6h1v1h-1zM473.2 373.2h1v1h-1zM483.4 377.7h1v1h-1zM491.9 371.0h1v1h-1zM476.9 374.6h1v1h-1zM475.1 368.1h1v1h-1zM461.7 373.1h1v1h-1zM487.5 376.5h1v1h-1zM467.2 373.7h1v1h-1zM476.6 370.7h1v1h-1zM494.7 366.5h1v1h-1zM472.2 374.8h1v1h-1zM477.2 369.6h1v1h-1zM482.7 374.2h1v1h-1zM456.0 367.2h1v1h-1zM473.0 366.1h1v1h-1zM468.0 374.4h1v1h-1zM476.0 372.8h1v1h-1zM490.0 374.7h1v1h-1zM483.0 371.8h1v1h-1zM504.3 371.0h1v1h-1zM474.4 373.6h1v1h-1zM448.6 371.3h1v1h-1zM487.1 368.0h1v1h-1zM463.4 368.3h1v1h-1zM461.3 370.7h1v1h-1zM458.3 370.5h1v1h-1zM495.2 363.5h1v1h-1zM459.5 370.5h1v1h-1zM493.6 367.9h1v1h-1zM477.0 369.0h1v1h-1zM470.7 359.3h1v1h-1zM489.4 366.9h1v1h-1zM466.8 364.7h1v1h-1zM457.7 370.0h1v1h-1zM478.9 370.9h1v1h-1zM440.2 364.5h1v1h-1zM461.3 371.4h1v1h-1zM501.4 367.4h1v1h-1zM447.0 363.0h1v1h-1zM458.3 366.4h1v1h-1zM475.2 370.4h1v1h-1zM472.2 373.6h1v1h-1zM472.4 372.4h1v1h-1z"/>
<polygon points="426.8,387.8 427.8,386.4 429.9,385.3 432.4,384.9 434.9,383.9 436.4,383.5 437.9,385.1 440.0,386.9 438.9,388.6 436.9,389.8 433.9,390.3 430.4,390.3 427.8,389.4" fill="#FBEEEA"/>
<path fill="#E2735C" d="M430.1 388.2h1.1v1.1h-1.1zM434.4 385.4h1.1v1.1h-1.1z"/>
<path fill="#F2AE9C" d="M427.7 386.2h1.1v1.1h-1.1zM433.6 385.2h1.1v1.1h-1.1zM427.7 388.5h1.1v1.1h-1.1zM429.8 386.8h1.1v1.1h-1.1zM429.9 385.3h1.1v1.1h-1.1zM427.0 386.5h1.1v1.1h-1.1zM432.0 387.2h1.1v1.1h-1.1zM433.0 388.4h1.1v1.1h-1.1z"/>
<path fill="#FBE3DC" d="M435.9 384.2h1.1v1.1h-1.1zM430.6 387.6h1.1v1.1h-1.1zM429.0 386.6h1.1v1.1h-1.1zM428.0 388.8h1.1v1.1h-1.1zM439.0 386.9h1.1v1.1h-1.1zM433.8 389.0h1.1v1.1h-1.1zM432.6 383.9h1.1v1.1h-1.1zM430.6 388.4h1.1v1.1h-1.1zM436.3 385.8h1.1v1.1h-1.1zM431.8 385.0h1.1v1.1h-1.1zM429.5 386.6h1.1v1.1h-1.1zM429.4 387.0h1.1v1.1h-1.1zM439.0 385.9h1.1v1.1h-1.1zM429.7 386.1h1.1v1.1h-1.1zM431.4 389.3h1.1v1.1h-1.1zM435.5 386.8h1.1v1.1h-1.1zM433.5 385.5h1.1v1.1h-1.1zM438.1 385.3h1.1v1.1h-1.1zM435.0 384.4h1.1v1.1h-1.1zM435.9 386.8h1.1v1.1h-1.1zM430.3 386.1h1.1v1.1h-1.1zM432.1 388.5h1.1v1.1h-1.1zM430.1 386.2h1.1v1.1h-1.1zM432.2 388.1h1.1v1.1h-1.1z"/>
<path fill="#FBE3DC" d="M454.0 331.0h1.1v1.1h-1.1z"/>
<rect x="297.20" y="326.90" width="97.70" height="66.30" fill="none" stroke="#000" stroke-width="1.3"/>
<rect x="415.20" y="326.90" width="97.40" height="66.30" fill="none" stroke="#000" stroke-width="1.3"/>
<text x="305.7" y="403.6" font-size="8.80" text-anchor="middle" fill="#1a1a1a" stroke="#1a1a1a" stroke-width="0.22">−2</text>
<text x="323.3" y="403.6" font-size="8.80" text-anchor="middle" fill="#1a1a1a" stroke="#1a1a1a" stroke-width="0.22">−1</text>
<text x="341.4" y="403.6" font-size="8.80" text-anchor="middle" fill="#1a1a1a" stroke="#1a1a1a" stroke-width="0.22">0</text>
<text x="359.3" y="403.6" font-size="8.80" text-anchor="middle" fill="#1a1a1a" stroke="#1a1a1a" stroke-width="0.22">1</text>
<text x="377.1" y="403.6" font-size="8.80" text-anchor="middle" fill="#1a1a1a" stroke="#1a1a1a" stroke-width="0.22">2</text>
<text x="294.0" y="339.5" font-size="8.80" text-anchor="end" fill="#1a1a1a" stroke="#1a1a1a" stroke-width="0.22">6</text>
<text x="294.0" y="350.8" font-size="8.80" text-anchor="end" fill="#1a1a1a" stroke="#1a1a1a" stroke-width="0.22">4</text>
<text x="294.0" y="362.0" font-size="8.80" text-anchor="end" fill="#1a1a1a" stroke="#1a1a1a" stroke-width="0.22">2</text>
<text x="294.0" y="373.3" font-size="8.80" text-anchor="end" fill="#1a1a1a" stroke="#1a1a1a" stroke-width="0.22">0</text>
<text x="294.0" y="384.6" font-size="8.80" text-anchor="end" fill="#1a1a1a" stroke="#1a1a1a" stroke-width="0.22">−2</text>
<text x="294.0" y="395.8" font-size="8.80" text-anchor="end" fill="#1a1a1a" stroke="#1a1a1a" stroke-width="0.22">−4</text>
<text x="423.9" y="403.6" font-size="8.80" text-anchor="middle" fill="#1a1a1a" stroke="#1a1a1a" stroke-width="0.22">−2</text>
<text x="441.5" y="403.6" font-size="8.80" text-anchor="middle" fill="#1a1a1a" stroke="#1a1a1a" stroke-width="0.22">−1</text>
<text x="459.6" y="403.6" font-size="8.80" text-anchor="middle" fill="#1a1a1a" stroke="#1a1a1a" stroke-width="0.22">0</text>
<text x="477.5" y="403.6" font-size="8.80" text-anchor="middle" fill="#1a1a1a" stroke="#1a1a1a" stroke-width="0.22">1</text>
<text x="495.3" y="403.6" font-size="8.80" text-anchor="middle" fill="#1a1a1a" stroke="#1a1a1a" stroke-width="0.22">2</text>
<text x="412.2" y="339.5" font-size="8.80" text-anchor="end" fill="#1a1a1a" stroke="#1a1a1a" stroke-width="0.22">6</text>
<text x="412.2" y="350.8" font-size="8.80" text-anchor="end" fill="#1a1a1a" stroke="#1a1a1a" stroke-width="0.22">4</text>
<text x="412.2" y="362.0" font-size="8.80" text-anchor="end" fill="#1a1a1a" stroke="#1a1a1a" stroke-width="0.22">2</text>
<text x="412.2" y="373.3" font-size="8.80" text-anchor="end" fill="#1a1a1a" stroke="#1a1a1a" stroke-width="0.22">0</text>
<text x="412.2" y="384.6" font-size="8.80" text-anchor="end" fill="#1a1a1a" stroke="#1a1a1a" stroke-width="0.22">−2</text>
<text x="412.2" y="395.8" font-size="8.80" text-anchor="end" fill="#1a1a1a" stroke="#1a1a1a" stroke-width="0.22">−4</text>
<path d="M277.25,387 L277.25,414.0 L458,414.0" fill="none" stroke="#000" stroke-width="1.2"/>
<path d="M277.25,380.8 L280.65,388.5 L277.25,387.2 L273.85,388.5 Z" fill="#000"/>
<path d="M464.6,414.0 L456.9,417.4 L458.2,414.0 L456.9,410.6 Z" fill="#000"/>
<text x="468.0" y="417.5" font-size="10.50" textLength="27.6" lengthAdjust="spacingAndGlyphs" fill="#1a1a1a" stroke="#1a1a1a" stroke-width="0.22">UMAP-1</text>
<text x="282.1" y="377.3" font-size="10.50" textLength="28.5" lengthAdjust="spacingAndGlyphs" transform="rotate(-90 282.1 377.3)" fill="#1a1a1a" stroke="#1a1a1a" stroke-width="0.22">UMAP-2</text>
</svg>
</body></html>
